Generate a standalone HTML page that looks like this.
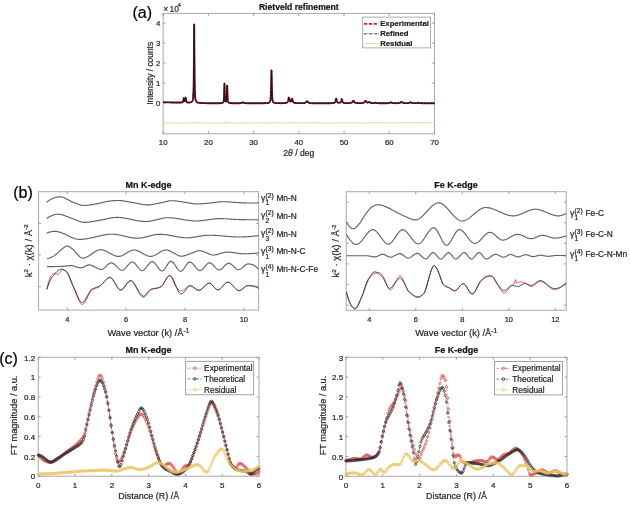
<!DOCTYPE html>
<html><head><meta charset="utf-8"><title>Figure</title>
<style>
html,body{margin:0;padding:0;background:#fff;}
body{width:630px;height:506px;overflow:hidden;}
svg{display:block;font-family:"Liberation Sans", sans-serif;filter:blur(0.35px);}
text{stroke-width:0.2px;stroke-linejoin:round;}
</style></head>
<body>
<svg width="630" height="506" viewBox="0 0 630 506">
<rect width="630" height="506" fill="#fff"/>
<text x="142.3" y="17.7" font-size="16" text-anchor="middle" fill="#000" stroke="#000">(a)</text>
<rect x="163.1" y="13.4" width="271.4" height="120.4" fill="none" stroke="#a9a9a9" stroke-width="1"/>
<path d="M163.2 133.8v-2.6M163.2 13.4v2.6M208.42 133.8v-2.6M208.42 13.4v2.6M253.63 133.8v-2.6M253.63 13.4v2.6M298.85 133.8v-2.6M298.85 13.4v2.6M344.07 133.8v-2.6M344.07 13.4v2.6M389.28 133.8v-2.6M389.28 13.4v2.6M434.5 133.8v-2.6M434.5 13.4v2.6M163.1 102.9h2.6M434.5 102.9h-2.6M163.1 82.95h2.6M434.5 82.95h-2.6M163.1 63h2.6M434.5 63h-2.6M163.1 43.05h2.6M434.5 43.05h-2.6M163.1 23.1h2.6M434.5 23.1h-2.6" stroke="#8a8a8a" stroke-width="0.8" fill="none"/>
<text x="163.2" y="144.5" font-size="7.8" text-anchor="middle" font-weight="normal" fill="#1e1e1e" stroke="#1e1e1e" >10</text>
<text x="208.42" y="144.5" font-size="7.8" text-anchor="middle" font-weight="normal" fill="#1e1e1e" stroke="#1e1e1e" >20</text>
<text x="253.63" y="144.5" font-size="7.8" text-anchor="middle" font-weight="normal" fill="#1e1e1e" stroke="#1e1e1e" >30</text>
<text x="298.85" y="144.5" font-size="7.8" text-anchor="middle" font-weight="normal" fill="#1e1e1e" stroke="#1e1e1e" >40</text>
<text x="344.07" y="144.5" font-size="7.8" text-anchor="middle" font-weight="normal" fill="#1e1e1e" stroke="#1e1e1e" >50</text>
<text x="389.28" y="144.5" font-size="7.8" text-anchor="middle" font-weight="normal" fill="#1e1e1e" stroke="#1e1e1e" >60</text>
<text x="434.5" y="144.5" font-size="7.8" text-anchor="middle" font-weight="normal" fill="#1e1e1e" stroke="#1e1e1e" >70</text>
<text x="160.4" y="105.7" font-size="7.8" text-anchor="end" font-weight="normal" fill="#1e1e1e" stroke="#1e1e1e" >0</text>
<text x="160.4" y="85.75" font-size="7.8" text-anchor="end" font-weight="normal" fill="#1e1e1e" stroke="#1e1e1e" >1</text>
<text x="160.4" y="65.8" font-size="7.8" text-anchor="end" font-weight="normal" fill="#1e1e1e" stroke="#1e1e1e" >2</text>
<text x="160.4" y="45.85" font-size="7.8" text-anchor="end" font-weight="normal" fill="#1e1e1e" stroke="#1e1e1e" >3</text>
<text x="160.4" y="25.9" font-size="7.8" text-anchor="end" font-weight="normal" fill="#1e1e1e" stroke="#1e1e1e" >4</text>
<text x="163.2" y="11.7" font-size="8.6" text-anchor="start" font-weight="normal" fill="#2a2a2a" stroke="#2a2a2a" >×<tspan dx="1.2">10</tspan><tspan font-size="5.6" dy="-4.4" dx="-1.3">4</tspan></text>
<text x="298.8" y="9.6" font-size="8.6" text-anchor="middle" font-weight="bold" fill="#111" stroke="#111" >Rietveld refinement</text>
<text x="152.6" y="73.3" font-size="8.4" text-anchor="middle" font-weight="normal" fill="#1e1e1e" stroke="#1e1e1e" transform="rotate(-90 152.6 73.3)">Intensity / counts</text>
<text x="298.8" y="156.4" font-size="8.6" text-anchor="middle" font-weight="normal" fill="#1e1e1e" stroke="#1e1e1e" >2<tspan font-style="italic">θ</tspan> / deg</text>
<path d="M163.2 102.29L164.74 102.32L166.27 102.35L167.81 102.39L169.35 102.42L170.89 102.45L172.42 102.48L173.96 102.51L175.5 102.53L177.04 102.55L178.57 102.57L180.11 102.56L181.65 102.45L182.28 102.29L182.64 102.08L182.82 101.89L183 101.6L183.1 101.39L183.19 101.12L183.28 100.77L183.37 100.33L183.46 99.77L183.55 99.14L183.64 98.53L183.73 98.12L183.91 98.46L184 99.03L184.09 99.61L184.18 100.11L184.27 100.5L184.36 100.77L184.45 100.96L184.63 101.12L184.9 100.87L184.99 100.64L185.08 100.31L185.18 99.86L185.27 99.29L185.36 98.62L185.45 97.97L185.54 97.55L185.72 98.03L185.81 98.72L185.9 99.44L185.99 100.06L186.08 100.57L186.17 100.96L186.26 101.26L186.35 101.5L186.44 101.68L186.62 101.95L186.8 102.12L187.07 102.28L187.62 102.44L189.15 102.51L190.51 102.35L191.05 102.18L191.42 102L191.69 101.81L191.87 101.64L192.05 101.43L192.23 101.16L192.32 100.99L192.41 100.79L192.5 100.57L192.59 100.3L192.68 99.99L192.77 99.62L192.86 99.18L192.95 98.63L193.04 97.97L193.13 97.13L193.22 96.08L193.31 94.72L193.4 92.94L193.5 90.55L193.59 87.27L193.68 82.66L193.77 76.07L193.86 66.65L193.95 53.7L194.04 38.32L194.13 26.37L194.17 24.56L194.22 26.37L194.31 38.33L194.4 53.71L194.49 66.67L194.58 76.09L194.67 82.68L194.76 87.3L194.85 90.58L194.94 92.98L195.03 94.77L195.12 96.13L195.21 97.19L195.3 98.03L195.39 98.7L195.48 99.24L195.58 99.69L195.67 100.07L195.76 100.39L195.85 100.66L195.94 100.89L196.03 101.08L196.12 101.26L196.21 101.41L196.39 101.66L196.57 101.86L196.75 102.02L197.02 102.2L197.38 102.39L197.84 102.55L198.47 102.7L199.55 102.86L201.09 102.98L202.63 103.06L204.17 103.12L205.7 103.17L207.24 103.22L208.78 103.25L210.32 103.25L211.85 103.25L213.39 103.25L214.93 103.25L216.47 103.24L218 103.22L219.54 103.19L221.08 103.1L222.07 102.94L222.52 102.78L222.8 102.62L222.98 102.47L223.16 102.26L223.34 101.94L223.43 101.73L223.52 101.46L223.61 101.12L223.7 100.67L223.79 100.06L223.88 99.24L223.97 98.08L224.06 96.43L224.15 94.07L224.24 90.83L224.33 86.98L224.42 83.99L224.47 83.53L224.51 83.98L224.6 86.94L224.69 90.76L224.79 93.97L224.88 96.3L224.97 97.92L225.06 99.05L225.15 99.84L225.24 100.4L225.33 100.81L225.42 101.1L225.51 101.32L225.69 101.56L226.23 101.24L226.32 100.99L226.41 100.63L226.5 100.14L226.59 99.44L226.68 98.45L226.77 97.02L226.87 94.96L226.96 92.11L227.05 88.72L227.14 86.09L227.18 85.7L227.23 86.11L227.32 88.77L227.41 92.19L227.5 95.06L227.59 97.16L227.68 98.63L227.77 99.66L227.86 100.39L227.95 100.93L228.04 101.33L228.13 101.64L228.22 101.88L228.31 102.07L228.4 102.22L228.58 102.45L228.76 102.61L229.04 102.78L229.49 102.94L230.39 103.09L231.93 103.18L233.47 103.22L235 103.23L236.54 103.23L238.08 103.22L239.62 103.18L241.06 103.01L241.61 102.85L241.97 102.67L242.24 102.5L242.51 102.34L243.32 102.5L243.6 102.67L243.96 102.85L244.5 103.02L245.77 103.17L247.3 103.23L248.84 103.25L250.38 103.26L251.92 103.26L253.45 103.26L254.99 103.26L256.53 103.26L258.06 103.26L259.6 103.25L261.14 103.24L262.68 103.23L264.21 103.2L265.75 103.15L267.29 103.04L268.28 102.87L268.83 102.68L269.19 102.49L269.46 102.27L269.64 102.07L269.82 101.81L269.91 101.64L270 101.45L270.09 101.22L270.18 100.95L270.27 100.62L270.36 100.22L270.45 99.72L270.54 99.11L270.63 98.32L270.73 97.31L270.82 95.99L270.91 94.23L271 91.89L271.09 88.75L271.18 84.63L271.27 79.61L271.36 74.42L271.45 70.86L271.49 70.36L271.54 70.86L271.63 74.42L271.72 79.6L271.81 84.63L271.9 88.75L271.99 91.89L272.08 94.23L272.17 95.98L272.26 97.31L272.35 98.32L272.44 99.1L272.53 99.72L272.62 100.22L272.71 100.62L272.81 100.95L272.9 101.22L272.99 101.45L273.08 101.64L273.17 101.8L273.35 102.06L273.53 102.26L273.71 102.42L273.98 102.59L274.34 102.75L274.89 102.9L275.97 103.05L277.51 103.14L279.05 103.17L280.58 103.18L282.12 103.17L283.66 103.12L285.19 103.01L286.1 102.86L286.64 102.67L287 102.47L287.27 102.25L287.46 102.05L287.64 101.78L287.73 101.62L287.82 101.43L287.91 101.21L288 100.96L288.09 100.66L288.18 100.33L288.27 99.95L288.36 99.54L288.45 99.09L288.54 98.63L288.63 98.19L288.72 97.82L288.81 97.56L289.08 97.77L289.17 98.12L289.26 98.53L289.35 98.96L289.44 99.39L289.54 99.78L289.63 100.12L289.72 100.43L289.81 100.68L289.9 100.9L289.99 101.08L290.17 101.34L290.35 101.49L290.98 101.32L291.16 101.04L291.25 100.85L291.34 100.63L291.43 100.36L291.52 100.07L291.62 99.74L291.71 99.41L291.8 99.1L291.89 98.83L291.98 98.66L292.25 98.89L292.34 99.19L292.43 99.53L292.52 99.9L292.61 100.26L292.7 100.59L292.79 100.89L292.88 101.16L292.97 101.39L293.06 101.59L293.15 101.76L293.24 101.91L293.42 102.16L293.6 102.35L293.88 102.55L294.24 102.73L294.78 102.89L295.87 103.05L297.4 103.14L298.94 103.17L300.48 103.17L302.02 103.15L303.55 103.06L304.55 102.91L305.09 102.74L305.45 102.56L305.72 102.38L305.9 102.23L306.08 102.05L306.27 101.85L306.45 101.65L306.63 101.46L306.9 101.29L307.35 101.46L307.53 101.65L307.71 101.85L307.89 102.05L308.07 102.23L308.26 102.39L308.53 102.57L308.89 102.75L309.43 102.92L310.43 103.08L311.96 103.18L313.5 103.22L315.04 103.24L316.57 103.25L318.11 103.25L319.65 103.26L321.19 103.26L322.72 103.26L324.26 103.26L325.8 103.25L327.34 103.24L328.87 103.23L330.41 103.2L331.95 103.14L333.4 102.99L334.03 102.82L334.39 102.66L334.66 102.46L334.84 102.28L335.02 102.04L335.11 101.89L335.2 101.72L335.29 101.51L335.39 101.27L335.48 100.99L335.57 100.67L335.66 100.31L335.75 99.91L335.84 99.5L335.93 99.1L336.02 98.75L336.11 98.52L336.38 98.75L336.47 99.09L336.56 99.48L336.65 99.89L336.74 100.29L336.83 100.64L336.92 100.96L337.01 101.24L337.1 101.47L337.19 101.67L337.28 101.84L337.47 102.11L337.65 102.31L337.92 102.51L338.28 102.67L339.82 102.69L340.27 102.49L340.54 102.27L340.72 102.04L340.9 101.73L340.99 101.54L341.08 101.31L341.17 101.05L341.26 100.75L341.35 100.42L341.44 100.08L341.53 99.75L341.62 99.47L341.72 99.27L341.99 99.48L342.08 99.76L342.17 100.1L342.26 100.44L342.35 100.77L342.44 101.07L342.53 101.34L342.62 101.57L342.71 101.77L342.8 101.95L342.98 102.22L343.16 102.42L343.43 102.63L343.8 102.8L344.43 102.97L345.97 103.11L347.5 103.13L349.04 103.09L350.58 102.93L351.21 102.76L351.57 102.6L351.84 102.43L352.02 102.27L352.21 102.09L352.39 101.86L352.57 101.6L352.75 101.31L352.93 101.01L353.11 100.78L353.74 101.01L353.92 101.31L354.1 101.6L354.29 101.86L354.47 102.09L354.65 102.27L354.83 102.43L355.1 102.6L355.46 102.76L356 102.92L357.18 103.07L358.72 103.13L360.25 103.13L361.79 103.06L362.97 102.91L363.51 102.75L363.87 102.58L364.14 102.4L364.32 102.24L364.5 102.05L364.69 101.82L364.87 101.56L365.05 101.28L365.23 101.03L365.41 100.85L365.86 101.01L366.04 101.25L366.22 101.52L366.4 101.77L366.58 101.98L366.77 102.16L367.04 102.35L367.4 102.51L368.66 102.31L368.94 102.11L369.21 101.94L369.75 102.1L369.93 102.26L370.11 102.42L370.38 102.62L370.74 102.8L371.29 102.96L372.82 103.1L374.36 103.03L374.99 102.86L375.45 102.68L376.35 102.84L376.8 103L377.8 103.15L379.34 103.22L380.87 103.24L382.41 103.24L383.95 103.24L385.49 103.22L387.02 103.18L388.56 103.04L389.19 102.89L389.65 102.71L390.01 102.51L390.37 102.32L391.27 102.51L391.54 102.66L391.91 102.82L392.45 102.98L393.71 103.13L395.25 103.18L396.79 103.17L398.33 103.1L399.41 102.94L399.95 102.77L400.32 102.59L400.59 102.41L400.86 102.2L401.13 102L402.12 102.2L402.4 102.41L402.67 102.59L403.03 102.77L403.57 102.94L404.66 103.09L406.19 103.14L407.73 103.1L408.82 102.95L409.36 102.77L409.72 102.6L409.99 102.45L410.35 102.28L411.08 102.45L411.35 102.6L411.71 102.78L412.16 102.93L413.07 103.09L414.6 103.17L416.14 103.15L417.41 102.99L417.95 102.84L418.49 102.68L419.4 102.85L419.94 103.01L421.03 103.17L422.56 103.23L424.1 103.26L425.64 103.27L427.17 103.28L428.71 103.28L430.25 103.28L431.79 103.29L433.32 103.29L434.5 103.29" fill="none" stroke="#6e1c20" stroke-width="1.9" stroke-linejoin="round"/>
<path d="M163.2 102.29L164.74 102.32L166.27 102.35L167.81 102.39L169.35 102.42L170.89 102.45L172.42 102.48L173.96 102.51L175.5 102.53L177.04 102.55L178.57 102.57L180.11 102.56L181.65 102.45L182.28 102.29L182.64 102.08L182.82 101.89L183 101.6L183.1 101.39L183.19 101.12L183.28 100.77L183.37 100.33L183.46 99.77L183.55 99.14L183.64 98.53L183.73 98.12L183.91 98.46L184 99.03L184.09 99.61L184.18 100.11L184.27 100.5L184.36 100.77L184.45 100.96L184.63 101.12L184.9 100.87L184.99 100.64L185.08 100.31L185.18 99.86L185.27 99.29L185.36 98.62L185.45 97.97L185.54 97.55L185.72 98.03L185.81 98.72L185.9 99.44L185.99 100.06L186.08 100.57L186.17 100.96L186.26 101.26L186.35 101.5L186.44 101.68L186.62 101.95L186.8 102.12L187.07 102.28L187.62 102.44L189.15 102.51L190.51 102.35L191.05 102.18L191.42 102L191.69 101.81L191.87 101.64L192.05 101.43L192.23 101.16L192.32 100.99L192.41 100.79L192.5 100.57L192.59 100.3L192.68 99.99L192.77 99.62L192.86 99.18L192.95 98.63L193.04 97.97L193.13 97.13L193.22 96.08L193.31 94.72L193.4 92.94L193.5 90.55L193.59 87.27L193.68 82.66L193.77 76.07L193.86 66.65L193.95 53.7L194.04 38.32L194.13 26.37L194.17 24.56L194.22 26.37L194.31 38.33L194.4 53.71L194.49 66.67L194.58 76.09L194.67 82.68L194.76 87.3L194.85 90.58L194.94 92.98L195.03 94.77L195.12 96.13L195.21 97.19L195.3 98.03L195.39 98.7L195.48 99.24L195.58 99.69L195.67 100.07L195.76 100.39L195.85 100.66L195.94 100.89L196.03 101.08L196.12 101.26L196.21 101.41L196.39 101.66L196.57 101.86L196.75 102.02L197.02 102.2L197.38 102.39L197.84 102.55L198.47 102.7L199.55 102.86L201.09 102.98L202.63 103.06L204.17 103.12L205.7 103.17L207.24 103.22L208.78 103.25L210.32 103.25L211.85 103.25L213.39 103.25L214.93 103.25L216.47 103.24L218 103.22L219.54 103.19L221.08 103.1L222.07 102.94L222.52 102.78L222.8 102.62L222.98 102.47L223.16 102.26L223.34 101.94L223.43 101.73L223.52 101.46L223.61 101.12L223.7 100.67L223.79 100.06L223.88 99.24L223.97 98.08L224.06 96.43L224.15 94.07L224.24 90.83L224.33 86.98L224.42 83.99L224.47 83.53L224.51 83.98L224.6 86.94L224.69 90.76L224.79 93.97L224.88 96.3L224.97 97.92L225.06 99.05L225.15 99.84L225.24 100.4L225.33 100.81L225.42 101.1L225.51 101.32L225.69 101.56L226.23 101.24L226.32 100.99L226.41 100.63L226.5 100.14L226.59 99.44L226.68 98.45L226.77 97.02L226.87 94.96L226.96 92.11L227.05 88.72L227.14 86.09L227.18 85.7L227.23 86.11L227.32 88.77L227.41 92.19L227.5 95.06L227.59 97.16L227.68 98.63L227.77 99.66L227.86 100.39L227.95 100.93L228.04 101.33L228.13 101.64L228.22 101.88L228.31 102.07L228.4 102.22L228.58 102.45L228.76 102.61L229.04 102.78L229.49 102.94L230.39 103.09L231.93 103.18L233.47 103.22L235 103.23L236.54 103.23L238.08 103.22L239.62 103.18L241.06 103.01L241.61 102.85L241.97 102.67L242.24 102.5L242.51 102.34L243.32 102.5L243.6 102.67L243.96 102.85L244.5 103.02L245.77 103.17L247.3 103.23L248.84 103.25L250.38 103.26L251.92 103.26L253.45 103.26L254.99 103.26L256.53 103.26L258.06 103.26L259.6 103.25L261.14 103.24L262.68 103.23L264.21 103.2L265.75 103.15L267.29 103.04L268.28 102.87L268.83 102.68L269.19 102.49L269.46 102.27L269.64 102.07L269.82 101.81L269.91 101.64L270 101.45L270.09 101.22L270.18 100.95L270.27 100.62L270.36 100.22L270.45 99.72L270.54 99.11L270.63 98.32L270.73 97.31L270.82 95.99L270.91 94.23L271 91.89L271.09 88.75L271.18 84.63L271.27 79.61L271.36 74.42L271.45 70.86L271.49 70.36L271.54 70.86L271.63 74.42L271.72 79.6L271.81 84.63L271.9 88.75L271.99 91.89L272.08 94.23L272.17 95.98L272.26 97.31L272.35 98.32L272.44 99.1L272.53 99.72L272.62 100.22L272.71 100.62L272.81 100.95L272.9 101.22L272.99 101.45L273.08 101.64L273.17 101.8L273.35 102.06L273.53 102.26L273.71 102.42L273.98 102.59L274.34 102.75L274.89 102.9L275.97 103.05L277.51 103.14L279.05 103.17L280.58 103.18L282.12 103.17L283.66 103.12L285.19 103.01L286.1 102.86L286.64 102.67L287 102.47L287.27 102.25L287.46 102.05L287.64 101.78L287.73 101.62L287.82 101.43L287.91 101.21L288 100.96L288.09 100.66L288.18 100.33L288.27 99.95L288.36 99.54L288.45 99.09L288.54 98.63L288.63 98.19L288.72 97.82L288.81 97.56L289.08 97.77L289.17 98.12L289.26 98.53L289.35 98.96L289.44 99.39L289.54 99.78L289.63 100.12L289.72 100.43L289.81 100.68L289.9 100.9L289.99 101.08L290.17 101.34L290.35 101.49L290.98 101.32L291.16 101.04L291.25 100.85L291.34 100.63L291.43 100.36L291.52 100.07L291.62 99.74L291.71 99.41L291.8 99.1L291.89 98.83L291.98 98.66L292.25 98.89L292.34 99.19L292.43 99.53L292.52 99.9L292.61 100.26L292.7 100.59L292.79 100.89L292.88 101.16L292.97 101.39L293.06 101.59L293.15 101.76L293.24 101.91L293.42 102.16L293.6 102.35L293.88 102.55L294.24 102.73L294.78 102.89L295.87 103.05L297.4 103.14L298.94 103.17L300.48 103.17L302.02 103.15L303.55 103.06L304.55 102.91L305.09 102.74L305.45 102.56L305.72 102.38L305.9 102.23L306.08 102.05L306.27 101.85L306.45 101.65L306.63 101.46L306.9 101.29L307.35 101.46L307.53 101.65L307.71 101.85L307.89 102.05L308.07 102.23L308.26 102.39L308.53 102.57L308.89 102.75L309.43 102.92L310.43 103.08L311.96 103.18L313.5 103.22L315.04 103.24L316.57 103.25L318.11 103.25L319.65 103.26L321.19 103.26L322.72 103.26L324.26 103.26L325.8 103.25L327.34 103.24L328.87 103.23L330.41 103.2L331.95 103.14L333.4 102.99L334.03 102.82L334.39 102.66L334.66 102.46L334.84 102.28L335.02 102.04L335.11 101.89L335.2 101.72L335.29 101.51L335.39 101.27L335.48 100.99L335.57 100.67L335.66 100.31L335.75 99.91L335.84 99.5L335.93 99.1L336.02 98.75L336.11 98.52L336.38 98.75L336.47 99.09L336.56 99.48L336.65 99.89L336.74 100.29L336.83 100.64L336.92 100.96L337.01 101.24L337.1 101.47L337.19 101.67L337.28 101.84L337.47 102.11L337.65 102.31L337.92 102.51L338.28 102.67L339.82 102.69L340.27 102.49L340.54 102.27L340.72 102.04L340.9 101.73L340.99 101.54L341.08 101.31L341.17 101.05L341.26 100.75L341.35 100.42L341.44 100.08L341.53 99.75L341.62 99.47L341.72 99.27L341.99 99.48L342.08 99.76L342.17 100.1L342.26 100.44L342.35 100.77L342.44 101.07L342.53 101.34L342.62 101.57L342.71 101.77L342.8 101.95L342.98 102.22L343.16 102.42L343.43 102.63L343.8 102.8L344.43 102.97L345.97 103.11L347.5 103.13L349.04 103.09L350.58 102.93L351.21 102.76L351.57 102.6L351.84 102.43L352.02 102.27L352.21 102.09L352.39 101.86L352.57 101.6L352.75 101.31L352.93 101.01L353.11 100.78L353.74 101.01L353.92 101.31L354.1 101.6L354.29 101.86L354.47 102.09L354.65 102.27L354.83 102.43L355.1 102.6L355.46 102.76L356 102.92L357.18 103.07L358.72 103.13L360.25 103.13L361.79 103.06L362.97 102.91L363.51 102.75L363.87 102.58L364.14 102.4L364.32 102.24L364.5 102.05L364.69 101.82L364.87 101.56L365.05 101.28L365.23 101.03L365.41 100.85L365.86 101.01L366.04 101.25L366.22 101.52L366.4 101.77L366.58 101.98L366.77 102.16L367.04 102.35L367.4 102.51L368.66 102.31L368.94 102.11L369.21 101.94L369.75 102.1L369.93 102.26L370.11 102.42L370.38 102.62L370.74 102.8L371.29 102.96L372.82 103.1L374.36 103.03L374.99 102.86L375.45 102.68L376.35 102.84L376.8 103L377.8 103.15L379.34 103.22L380.87 103.24L382.41 103.24L383.95 103.24L385.49 103.22L387.02 103.18L388.56 103.04L389.19 102.89L389.65 102.71L390.01 102.51L390.37 102.32L391.27 102.51L391.54 102.66L391.91 102.82L392.45 102.98L393.71 103.13L395.25 103.18L396.79 103.17L398.33 103.1L399.41 102.94L399.95 102.77L400.32 102.59L400.59 102.41L400.86 102.2L401.13 102L402.12 102.2L402.4 102.41L402.67 102.59L403.03 102.77L403.57 102.94L404.66 103.09L406.19 103.14L407.73 103.1L408.82 102.95L409.36 102.77L409.72 102.6L409.99 102.45L410.35 102.28L411.08 102.45L411.35 102.6L411.71 102.78L412.16 102.93L413.07 103.09L414.6 103.17L416.14 103.15L417.41 102.99L417.95 102.84L418.49 102.68L419.4 102.85L419.94 103.01L421.03 103.17L422.56 103.23L424.1 103.26L425.64 103.27L427.17 103.28L428.71 103.28L430.25 103.28L431.79 103.29L433.32 103.29L434.5 103.29" fill="none" stroke="#2c0c0e" stroke-width="1.25" stroke-dasharray="2.2 0.9" stroke-linejoin="round"/>
<path d="M163.2 122.89L165.28 122.9L167.36 122.9L169.44 122.91L171.52 122.92L173.6 122.93L175.68 122.95L177.76 122.97L179.84 123.01L181.92 123.12L182.91 123.27L183.77 123.06L183.91 122.87L184.99 123.05L185.54 122.85L185.63 122.7L185.81 122.48L186.89 122.64L188.52 122.79L190.6 122.89L192.5 123.05L193.22 123.21L193.59 123.39L194.13 123.03L194.17 122.82L194.22 122.6L194.31 122.27L194.49 122.1L194.85 122.3L195.21 122.45L196.03 122.61L198.11 122.73L200.19 122.78L202.27 122.81L204.35 122.82L206.43 122.84L208.51 122.85L210.59 122.87L212.67 122.88L214.75 122.9L216.83 122.92L218.91 122.96L220.99 123.02L222.8 123.18L223.52 123.36L223.88 123.54L224.15 123.69L224.33 123.53L224.42 123.2L224.47 122.99L224.51 122.78L224.6 122.46L224.79 122.3L225.06 122.46L225.33 122.62L225.69 122.78L226.14 122.96L226.5 123.14L226.77 123.31L227.14 122.9L227.18 122.7L227.23 122.51L227.32 122.2L228.13 122.37L228.76 122.52L230.39 122.68L232.47 122.75L234.55 122.79L236.63 122.83L238.71 122.87L240.79 122.93L242.87 122.79L244.95 122.7L247.03 122.76L249.11 122.79L251.19 122.81L253.27 122.82L255.35 122.84L257.43 122.85L259.51 122.87L261.59 122.88L263.67 122.91L265.75 122.94L267.83 122.99L269.73 123.14L270.45 123.31L270.82 123.46L271.45 123.05L271.49 122.87L271.54 122.69L271.63 122.4L271.72 122.23L272.44 122.4L272.99 122.55L274.25 122.7L276.33 122.79L278.41 122.84L280.49 122.88L282.57 122.93L284.65 122.99L286.73 123.13L287.91 123.29L288.72 123.14L288.9 122.97L289.08 122.8L289.44 122.63L290.44 122.78L291.16 122.94L291.98 122.75L292.16 122.59L292.43 122.42L294.51 122.57L296.59 122.68L298.67 122.75L300.75 122.8L302.83 122.86L304.91 122.95L306.99 122.77L307.44 122.62L309.52 122.62L311.6 122.69L313.68 122.73L315.76 122.76L317.84 122.78L319.92 122.8L322 122.82L324.08 122.83L326.16 122.85L328.24 122.88L330.32 122.91L332.4 122.97L334.48 123.11L336.2 122.9L336.38 122.72L336.74 122.56L338.1 122.72L339.54 122.88L340.72 123.03L341.72 122.85L341.9 122.68L342.17 122.51L344.25 122.64L346.33 122.75L348.41 122.82L350.49 122.92L352.57 123.03L353.2 122.85L353.56 122.68L355.64 122.62L357.72 122.73L359.8 122.8L361.88 122.88L363.96 123.01L365.5 122.84L365.86 122.69L367.94 122.74L369.66 122.57L371.74 122.61L373.82 122.73L375.9 122.63L377.98 122.62L380.06 122.68L382.14 122.72L384.22 122.75L386.3 122.8L388.38 122.86L390.46 122.8L391.09 122.65L393.17 122.66L395.25 122.73L397.33 122.79L399.41 122.87L401.49 122.73L402.12 122.58L404.2 122.63L406.28 122.71L408.36 122.8L410.44 122.72L411.17 122.56L413.25 122.61L415.33 122.69L417.41 122.76L418.95 122.6L421.03 122.57L423.11 122.62L425.19 122.64L427.27 122.66L429.35 122.67L431.43 122.68L433.51 122.69L434.5 122.69" fill="none" stroke="#f2e0ae" stroke-width="1.25"/>
<rect x="362.7" y="17.1" width="67.9" height="30.8" fill="#fff" stroke="#9a9a9a" stroke-width="0.8"/>
<path d="M364 23.8H378.6" stroke="#d0203a" stroke-width="1.8" stroke-dasharray="3.2 1.6"/>
<path d="M364 33.8H378.6" stroke="#111" stroke-width="0.9" stroke-dasharray="2.5 1 0.8 1"/>
<path d="M364 43.7H378.6" stroke="#eed79a" stroke-width="1"/>
<text x="380.2" y="25.9" font-size="7.75" text-anchor="start" font-weight="bold" fill="#1a1a1a" stroke="#1a1a1a" >Experimental</text>
<text x="380.2" y="35.85" font-size="7.75" text-anchor="start" font-weight="bold" fill="#1a1a1a" stroke="#1a1a1a" >Refined</text>
<text x="380.2" y="45.8" font-size="7.75" text-anchor="start" font-weight="bold" fill="#1a1a1a" stroke="#1a1a1a" >Residual</text>
<text x="23" y="197.9" font-size="16" text-anchor="middle" font-weight="normal" fill="#000" stroke="#000" >(b)</text>
<text x="142.8" y="0" font-size="1" text-anchor="middle" font-weight="normal" fill="#1e1e1e" stroke="#1e1e1e" ></text>
<text x="0" y="0" font-size="1" text-anchor="middle" font-weight="normal" fill="#1e1e1e" stroke="#1e1e1e" ></text>
<rect x="38.6" y="191.7" width="220" height="118.4" fill="none" stroke="#a9a9a9" stroke-width="1"/>
<path d="M67.3 310.1v-2.4M67.3 191.7v2.4M126.16 310.1v-2.4M126.16 191.7v2.4M185.02 310.1v-2.4M185.02 191.7v2.4M243.88 310.1v-2.4M243.88 191.7v2.4M38.6 223.3h2.4M258.6 223.3h-2.4M38.6 254.9h2.4M258.6 254.9h-2.4M38.6 286.6h2.4M258.6 286.6h-2.4" stroke="#8a8a8a" stroke-width="0.8" fill="none"/>
<text x="67.3" y="322" font-size="7.5" text-anchor="middle" font-weight="normal" fill="#1e1e1e" stroke="#1e1e1e" >4</text>
<text x="126.16" y="322" font-size="7.5" text-anchor="middle" font-weight="normal" fill="#1e1e1e" stroke="#1e1e1e" >6</text>
<text x="185.02" y="322" font-size="7.5" text-anchor="middle" font-weight="normal" fill="#1e1e1e" stroke="#1e1e1e" >8</text>
<text x="243.88" y="322" font-size="7.5" text-anchor="middle" font-weight="normal" fill="#1e1e1e" stroke="#1e1e1e" >10</text>
<text x="148.6" y="187.5" font-size="9" text-anchor="middle" font-weight="bold" fill="#111" stroke="#111" >Mn K-edge</text>
<text x="31.8" y="250.8" font-size="9.6" text-anchor="middle" font-weight="normal" fill="#1e1e1e" stroke="#1e1e1e" transform="rotate(-90 31.8 250.8)">k<tspan font-size="6.2" dy="-3.6">2</tspan><tspan dy="3.6"> · χ(k) / Å</tspan><tspan font-size="6.2" dy="-3.6">-2</tspan></text>
<text x="148.3" y="336.3" font-size="9.3" text-anchor="middle" font-weight="normal" fill="#1e1e1e" stroke="#1e1e1e" >Wave vector (k) /Å<tspan font-size="6.4" dy="-3.6">-1</tspan></text>
<path d="M46.6 202.3L47.1 201.9L47.6 201.51L48.1 201.14L48.6 200.78L49.1 200.44L49.6 200.12L50.1 199.81L50.6 199.51L51.1 199.23L51.6 198.96L52.1 198.72L52.6 198.48L53.1 198.26L53.6 198.06L54.1 197.87L54.6 197.7L55.1 197.54L55.6 197.39L56.1 197.27L56.6 197.16L57.1 197.06L57.6 196.98L58.1 196.91L58.6 196.86L59.1 196.82L59.6 196.8L60.1 196.8L60.6 196.82L61.1 196.88L61.6 196.96L62.1 197.07L62.6 197.2L63.1 197.36L63.6 197.53L64.1 197.73L64.6 197.94L65.1 198.17L65.6 198.41L66.1 198.67L66.6 198.93L67.1 199.2L67.6 199.47L68.1 199.75L68.6 200.03L69.1 200.31L69.6 200.58L70.1 200.85L70.6 201.12L71.1 201.38L71.6 201.62L72.1 201.86L72.6 202.08L73.1 202.28L73.6 202.47L74.1 202.64L74.6 202.82L75.1 203.01L75.6 203.21L76.1 203.41L76.6 203.61L77.1 203.81L77.6 204L78.1 204.19L78.6 204.38L79.1 204.56L79.6 204.73L80.1 204.88L80.6 205.03L81.1 205.15L81.6 205.26L82.1 205.36L82.6 205.43L83.1 205.47L83.6 205.5L84.1 205.5L84.6 205.49L85.1 205.47L85.6 205.45L86.1 205.42L86.6 205.38L87.1 205.34L87.6 205.29L88.1 205.23L88.6 205.17L89.1 205.11L89.6 205.04L90.1 204.96L90.6 204.89L91.1 204.81L91.6 204.73L92.1 204.64L92.6 204.56L93.1 204.47L93.6 204.38L94.1 204.29L94.6 204.2L95.1 204.11L95.6 204.03L96.1 203.94L96.6 203.85L97.1 203.77L97.6 203.68L98.1 203.6L98.6 203.5L99.1 203.4L99.6 203.29L100.1 203.17L100.6 203.05L101.1 202.92L101.6 202.8L102.1 202.67L102.6 202.54L103.1 202.41L103.6 202.27L104.1 202.14L104.6 202.02L105.1 201.89L105.6 201.77L106.1 201.65L106.6 201.54L107.1 201.44L107.6 201.34L108.1 201.25L108.6 201.17L109.1 201.1L109.6 201.04L110.1 200.99L110.6 200.95L111.1 200.9L111.6 200.86L112.1 200.81L112.6 200.77L113.1 200.73L113.6 200.69L114.1 200.66L114.6 200.63L115.1 200.6L115.6 200.57L116.1 200.55L116.6 200.53L117.1 200.51L117.6 200.51L118.1 200.5L118.6 200.5L119.1 200.51L119.6 200.53L120.1 200.56L120.6 200.59L121.1 200.63L121.6 200.68L122.1 200.74L122.6 200.8L123.1 200.87L123.6 200.94L124.1 201.01L124.6 201.09L125.1 201.18L125.6 201.26L126.1 201.35L126.6 201.45L127.1 201.54L127.6 201.63L128.1 201.73L128.6 201.82L129.1 201.92L129.6 202.01L130.1 202.11L130.6 202.2L131.1 202.29L131.6 202.37L132.1 202.46L132.6 202.54L133.1 202.62L133.6 202.69L134.1 202.78L134.6 202.87L135.1 202.96L135.6 203.06L136.1 203.16L136.6 203.26L137.1 203.36L137.6 203.47L138.1 203.58L138.6 203.68L139.1 203.79L139.6 203.89L140.1 203.99L140.6 204.09L141.1 204.19L141.6 204.28L142.1 204.37L142.6 204.45L143.1 204.53L143.6 204.61L144.1 204.67L144.6 204.73L145.1 204.78L145.6 204.82L146.1 204.86L146.6 204.88L147.1 204.9L147.6 204.9L148.1 204.89L148.6 204.87L149.1 204.85L149.6 204.81L150.1 204.76L150.6 204.71L151.1 204.64L151.6 204.57L152.1 204.5L152.6 204.42L153.1 204.33L153.6 204.24L154.1 204.15L154.6 204.05L155.1 203.96L155.6 203.86L156.1 203.75L156.6 203.65L157.1 203.55L157.6 203.45L158.1 203.35L158.6 203.25L159.1 203.16L159.6 203.07L160.1 202.98L160.6 202.89L161.1 202.79L161.6 202.68L162.1 202.57L162.6 202.45L163.1 202.32L163.6 202.2L164.1 202.07L164.6 201.94L165.1 201.81L165.6 201.68L166.1 201.56L166.6 201.44L167.1 201.32L167.6 201.21L168.1 201.11L168.6 201.02L169.1 200.94L169.6 200.86L170.1 200.8L170.6 200.75L171.1 200.72L171.6 200.7L172.1 200.7L172.6 200.71L173.1 200.72L173.6 200.75L174.1 200.78L174.6 200.82L175.1 200.86L175.6 200.91L176.1 200.97L176.6 201.03L177.1 201.09L177.6 201.16L178.1 201.24L178.6 201.31L179.1 201.39L179.6 201.47L180.1 201.55L180.6 201.63L181.1 201.71L181.6 201.79L182.1 201.87L182.6 201.95L183.1 202.03L183.6 202.1L184.1 202.18L184.6 202.25L185.1 202.31L185.6 202.38L186.1 202.46L186.6 202.54L187.1 202.62L187.6 202.71L188.1 202.79L188.6 202.89L189.1 202.98L189.6 203.07L190.1 203.16L190.6 203.25L191.1 203.34L191.6 203.43L192.1 203.51L192.6 203.59L193.1 203.66L193.6 203.73L194.1 203.79L194.6 203.85L195.1 203.9L195.6 203.94L196.1 203.97L196.6 203.99L197.1 204L197.6 204L198.1 203.99L198.6 203.98L199.1 203.96L199.6 203.94L200.1 203.92L200.6 203.89L201.1 203.85L201.6 203.82L202.1 203.78L202.6 203.73L203.1 203.69L203.6 203.64L204.1 203.59L204.6 203.54L205.1 203.49L205.6 203.44L206.1 203.39L206.6 203.33L207.1 203.28L207.6 203.23L208.1 203.18L208.6 203.13L209.1 203.08L209.6 203.04L210.1 202.99L210.6 202.95L211.1 202.9L211.6 202.84L212.1 202.79L212.6 202.73L213.1 202.67L213.6 202.6L214.1 202.54L214.6 202.48L215.1 202.41L215.6 202.35L216.1 202.28L216.6 202.22L217.1 202.16L217.6 202.1L218.1 202.05L218.6 201.99L219.1 201.94L219.6 201.89L220.1 201.85L220.6 201.81L221.1 201.78L221.6 201.75L222.1 201.73L222.6 201.71L223.1 201.7L223.6 201.7L224.1 201.7L224.6 201.71L225.1 201.72L225.6 201.74L226.1 201.76L226.6 201.78L227.1 201.81L227.6 201.84L228.1 201.87L228.6 201.9L229.1 201.93L229.6 201.97L230.1 202.01L230.6 202.05L231.1 202.09L231.6 202.13L232.1 202.17L232.6 202.21L233.1 202.25L233.6 202.28L234.1 202.32L234.6 202.36L235.1 202.39L235.6 202.42L236.1 202.45L236.6 202.48L237.1 202.5L237.6 202.53L238.1 202.55L238.6 202.58L239.1 202.61L239.6 202.63L240.1 202.66L240.6 202.69L241.1 202.71L241.6 202.74L242.1 202.76L242.6 202.79L243.1 202.81L243.6 202.84L244.1 202.86L244.6 202.88L245.1 202.9L245.6 202.92L246.1 202.94L246.6 202.95L247.1 202.97L247.6 202.98L248.1 202.99L248.6 202.99L249.1 203L249.6 203L250.1 203L250.6 203L251.1 203L251.6 203L252.1 203L252.6 203L253.1 202.99L253.6 202.99L254.1 202.99L254.6 202.98L255.1 202.98L255.6 202.97L256.1 202.96L256.6 202.95L257.1 202.94L257.6 202.93L258.1 202.92L258.6 202.9" fill="none" stroke="#626262" stroke-width="1.15"/>
<path d="M46.6 218.6L47.1 218.26L47.6 217.92L48.1 217.6L48.6 217.29L49.1 217L49.6 216.71L50.1 216.44L50.6 216.19L51.1 215.95L51.6 215.72L52.1 215.5L52.6 215.31L53.1 215.12L53.6 214.96L54.1 214.8L54.6 214.67L55.1 214.55L55.6 214.45L56.1 214.36L56.6 214.29L57.1 214.25L57.6 214.21L58.1 214.2L58.6 214.21L59.1 214.24L59.6 214.28L60.1 214.35L60.6 214.44L61.1 214.54L61.6 214.66L62.1 214.79L62.6 214.93L63.1 215.08L63.6 215.25L64.1 215.42L64.6 215.6L65.1 215.79L65.6 215.98L66.1 216.17L66.6 216.37L67.1 216.57L67.6 216.77L68.1 216.96L68.6 217.16L69.1 217.34L69.6 217.53L70.1 217.7L70.6 217.87L71.1 218.03L71.6 218.2L72.1 218.37L72.6 218.56L73.1 218.76L73.6 218.96L74.1 219.17L74.6 219.38L75.1 219.6L75.6 219.82L76.1 220.04L76.6 220.25L77.1 220.47L77.6 220.68L78.1 220.89L78.6 221.08L79.1 221.27L79.6 221.45L80.1 221.62L80.6 221.78L81.1 221.92L81.6 222.05L82.1 222.16L82.6 222.25L83.1 222.32L83.6 222.37L84.1 222.4L84.6 222.4L85.1 222.39L85.6 222.38L86.1 222.35L86.6 222.32L87.1 222.28L87.6 222.24L88.1 222.19L88.6 222.13L89.1 222.07L89.6 222.01L90.1 221.93L90.6 221.86L91.1 221.78L91.6 221.7L92.1 221.61L92.6 221.53L93.1 221.44L93.6 221.34L94.1 221.25L94.6 221.16L95.1 221.06L95.6 220.97L96.1 220.88L96.6 220.78L97.1 220.69L97.6 220.6L98.1 220.51L98.6 220.43L99.1 220.34L99.6 220.26L100.1 220.18L100.6 220.11L101.1 220.02L101.6 219.93L102.1 219.84L102.6 219.74L103.1 219.64L103.6 219.54L104.1 219.43L104.6 219.32L105.1 219.22L105.6 219.11L106.1 219L106.6 218.89L107.1 218.78L107.6 218.67L108.1 218.56L108.6 218.46L109.1 218.35L109.6 218.25L110.1 218.16L110.6 218.06L111.1 217.97L111.6 217.89L112.1 217.81L112.6 217.74L113.1 217.67L113.6 217.61L114.1 217.55L114.6 217.51L115.1 217.47L115.6 217.44L116.1 217.42L116.6 217.4L117.1 217.4L117.6 217.41L118.1 217.42L118.6 217.44L119.1 217.46L119.6 217.49L120.1 217.53L120.6 217.58L121.1 217.63L121.6 217.68L122.1 217.74L122.6 217.81L123.1 217.88L123.6 217.95L124.1 218.03L124.6 218.11L125.1 218.2L125.6 218.28L126.1 218.38L126.6 218.47L127.1 218.57L127.6 218.66L128.1 218.77L128.6 218.87L129.1 218.97L129.6 219.08L130.1 219.18L130.6 219.29L131.1 219.4L131.6 219.5L132.1 219.61L132.6 219.72L133.1 219.82L133.6 219.93L134.1 220.03L134.6 220.13L135.1 220.24L135.6 220.33L136.1 220.43L136.6 220.52L137.1 220.62L137.6 220.7L138.1 220.79L138.6 220.87L139.1 220.95L139.6 221.02L140.1 221.09L140.6 221.16L141.1 221.22L141.6 221.27L142.1 221.32L142.6 221.37L143.1 221.41L143.6 221.44L144.1 221.46L144.6 221.48L145.1 221.49L145.6 221.5L146.1 221.5L146.6 221.48L147.1 221.46L147.6 221.42L148.1 221.38L148.6 221.33L149.1 221.27L149.6 221.2L150.1 221.12L150.6 221.04L151.1 220.95L151.6 220.86L152.1 220.76L152.6 220.65L153.1 220.54L153.6 220.43L154.1 220.32L154.6 220.2L155.1 220.07L155.6 219.95L156.1 219.83L156.6 219.7L157.1 219.57L157.6 219.45L158.1 219.32L158.6 219.2L159.1 219.08L159.6 218.96L160.1 218.84L160.6 218.72L161.1 218.61L161.6 218.5L162.1 218.4L162.6 218.3L163.1 218.21L163.6 218.12L164.1 218.04L164.6 217.97L165.1 217.91L165.6 217.85L166.1 217.8L166.6 217.76L167.1 217.73L167.6 217.71L168.1 217.7L168.6 217.7L169.1 217.71L169.6 217.72L170.1 217.74L170.6 217.76L171.1 217.79L171.6 217.83L172.1 217.87L172.6 217.91L173.1 217.96L173.6 218.02L174.1 218.07L174.6 218.13L175.1 218.2L175.6 218.27L176.1 218.34L176.6 218.41L177.1 218.49L177.6 218.57L178.1 218.65L178.6 218.73L179.1 218.81L179.6 218.9L180.1 218.99L180.6 219.07L181.1 219.16L181.6 219.25L182.1 219.34L182.6 219.43L183.1 219.52L183.6 219.61L184.1 219.7L184.6 219.78L185.1 219.87L185.6 219.95L186.1 220.04L186.6 220.12L187.1 220.2L187.6 220.27L188.1 220.35L188.6 220.42L189.1 220.49L189.6 220.55L190.1 220.61L190.6 220.67L191.1 220.73L191.6 220.78L192.1 220.82L192.6 220.86L193.1 220.9L193.6 220.93L194.1 220.96L194.6 220.98L195.1 220.99L195.6 221L196.1 221L196.6 221L197.1 220.99L197.6 220.97L198.1 220.95L198.6 220.92L199.1 220.89L199.6 220.85L200.1 220.81L200.6 220.77L201.1 220.72L201.6 220.67L202.1 220.61L202.6 220.55L203.1 220.49L203.6 220.43L204.1 220.36L204.6 220.29L205.1 220.22L205.6 220.15L206.1 220.08L206.6 220L207.1 219.93L207.6 219.85L208.1 219.78L208.6 219.7L209.1 219.63L209.6 219.55L210.1 219.48L210.6 219.41L211.1 219.34L211.6 219.27L212.1 219.2L212.6 219.13L213.1 219.07L213.6 219.01L214.1 218.96L214.6 218.9L215.1 218.85L215.6 218.81L216.1 218.76L216.6 218.72L217.1 218.69L217.6 218.66L218.1 218.64L218.6 218.62L219.1 218.61L219.6 218.6L220.1 218.6L220.6 218.6L221.1 218.61L221.6 218.62L222.1 218.63L222.6 218.64L223.1 218.66L223.6 218.68L224.1 218.7L224.6 218.72L225.1 218.75L225.6 218.78L226.1 218.8L226.6 218.83L227.1 218.86L227.6 218.9L228.1 218.93L228.6 218.96L229.1 219L229.6 219.03L230.1 219.07L230.6 219.1L231.1 219.14L231.6 219.17L232.1 219.21L232.6 219.24L233.1 219.28L233.6 219.31L234.1 219.34L234.6 219.37L235.1 219.4L235.6 219.43L236.1 219.46L236.6 219.48L237.1 219.51L237.6 219.53L238.1 219.55L238.6 219.56L239.1 219.58L239.6 219.59L240.1 219.6L240.6 219.61L241.1 219.62L241.6 219.63L242.1 219.64L242.6 219.64L243.1 219.65L243.6 219.66L244.1 219.67L244.6 219.68L245.1 219.68L245.6 219.69L246.1 219.7L246.6 219.71L247.1 219.71L247.6 219.72L248.1 219.73L248.6 219.73L249.1 219.74L249.6 219.74L250.1 219.75L250.6 219.76L251.1 219.76L251.6 219.77L252.1 219.77L252.6 219.77L253.1 219.78L253.6 219.78L254.1 219.79L254.6 219.79L255.1 219.79L255.6 219.79L256.1 219.8L256.6 219.8L257.1 219.8L257.6 219.8L258.1 219.8L258.6 219.8" fill="none" stroke="#626262" stroke-width="1.15"/>
<path d="M46.6 233.1L47.1 232.92L47.6 232.75L48.1 232.58L48.6 232.42L49.1 232.27L49.6 232.12L50.1 231.98L50.6 231.85L51.1 231.73L51.6 231.63L52.1 231.54L52.6 231.46L53.1 231.39L53.6 231.34L54.1 231.31L54.6 231.3L55.1 231.31L55.6 231.33L56.1 231.37L56.6 231.43L57.1 231.51L57.6 231.6L58.1 231.71L58.6 231.83L59.1 231.96L59.6 232.11L60.1 232.27L60.6 232.44L61.1 232.62L61.6 232.81L62.1 233.01L62.6 233.22L63.1 233.43L63.6 233.65L64.1 233.87L64.6 234.1L65.1 234.34L65.6 234.58L66.1 234.82L66.6 235.06L67.1 235.3L67.6 235.54L68.1 235.79L68.6 236.03L69.1 236.27L69.6 236.5L70.1 236.73L70.6 236.96L71.1 237.18L71.6 237.4L72.1 237.61L72.6 237.81L73.1 238L73.6 238.19L74.1 238.36L74.6 238.53L75.1 238.68L75.6 238.82L76.1 238.94L76.6 239.06L77.1 239.16L77.6 239.24L78.1 239.3L78.6 239.35L79.1 239.39L79.6 239.4L80.1 239.4L80.6 239.39L81.1 239.37L81.6 239.35L82.1 239.32L82.6 239.28L83.1 239.24L83.6 239.19L84.1 239.14L84.6 239.08L85.1 239.01L85.6 238.94L86.1 238.87L86.6 238.79L87.1 238.71L87.6 238.62L88.1 238.53L88.6 238.43L89.1 238.34L89.6 238.23L90.1 238.13L90.6 238.02L91.1 237.91L91.6 237.8L92.1 237.69L92.6 237.57L93.1 237.46L93.6 237.34L94.1 237.22L94.6 237.1L95.1 236.98L95.6 236.86L96.1 236.74L96.6 236.62L97.1 236.5L97.6 236.38L98.1 236.26L98.6 236.14L99.1 236.03L99.6 235.91L100.1 235.8L100.6 235.69L101.1 235.58L101.6 235.47L102.1 235.37L102.6 235.26L103.1 235.17L103.6 235.07L104.1 234.98L104.6 234.89L105.1 234.81L105.6 234.73L106.1 234.66L106.6 234.59L107.1 234.52L107.6 234.46L108.1 234.41L108.6 234.36L109.1 234.32L109.6 234.28L110.1 234.25L110.6 234.23L111.1 234.21L111.6 234.2L112.1 234.2L112.6 234.21L113.1 234.22L113.6 234.25L114.1 234.28L114.6 234.32L115.1 234.36L115.6 234.42L116.1 234.48L116.6 234.55L117.1 234.62L117.6 234.7L118.1 234.78L118.6 234.87L119.1 234.96L119.6 235.06L120.1 235.16L120.6 235.27L121.1 235.37L121.6 235.48L122.1 235.59L122.6 235.71L123.1 235.82L123.6 235.94L124.1 236.06L124.6 236.18L125.1 236.29L125.6 236.41L126.1 236.53L126.6 236.65L127.1 236.76L127.6 236.87L128.1 236.98L128.6 237.09L129.1 237.2L129.6 237.3L130.1 237.4L130.6 237.49L131.1 237.58L131.6 237.67L132.1 237.75L132.6 237.83L133.1 237.89L133.6 237.96L134.1 238.01L134.6 238.06L135.1 238.11L135.6 238.14L136.1 238.17L136.6 238.19L137.1 238.2L137.6 238.2L138.1 238.19L138.6 238.17L139.1 238.14L139.6 238.1L140.1 238.05L140.6 237.99L141.1 237.92L141.6 237.85L142.1 237.76L142.6 237.68L143.1 237.58L143.6 237.48L144.1 237.37L144.6 237.26L145.1 237.15L145.6 237.03L146.1 236.91L146.6 236.79L147.1 236.66L147.6 236.53L148.1 236.41L148.6 236.28L149.1 236.15L149.6 236.02L150.1 235.89L150.6 235.76L151.1 235.64L151.6 235.52L152.1 235.4L152.6 235.28L153.1 235.17L153.6 235.06L154.1 234.96L154.6 234.86L155.1 234.77L155.6 234.69L156.1 234.61L156.6 234.54L157.1 234.48L157.6 234.42L158.1 234.38L158.6 234.34L159.1 234.32L159.6 234.3L160.1 234.3L160.6 234.31L161.1 234.32L161.6 234.34L162.1 234.36L162.6 234.39L163.1 234.43L163.6 234.47L164.1 234.52L164.6 234.57L165.1 234.63L165.6 234.69L166.1 234.76L166.6 234.83L167.1 234.9L167.6 234.98L168.1 235.06L168.6 235.14L169.1 235.22L169.6 235.31L170.1 235.4L170.6 235.49L171.1 235.59L171.6 235.68L172.1 235.78L172.6 235.88L173.1 235.97L173.6 236.07L174.1 236.17L174.6 236.26L175.1 236.36L175.6 236.46L176.1 236.55L176.6 236.64L177.1 236.73L177.6 236.82L178.1 236.91L178.6 236.99L179.1 237.08L179.6 237.16L180.1 237.23L180.6 237.3L181.1 237.37L181.6 237.44L182.1 237.5L182.6 237.55L183.1 237.6L183.6 237.65L184.1 237.69L184.6 237.72L185.1 237.75L185.6 237.77L186.1 237.79L186.6 237.8L187.1 237.8L187.6 237.79L188.1 237.78L188.6 237.76L189.1 237.73L189.6 237.7L190.1 237.66L190.6 237.62L191.1 237.57L191.6 237.51L192.1 237.45L192.6 237.39L193.1 237.32L193.6 237.25L194.1 237.17L194.6 237.09L195.1 237.01L195.6 236.93L196.1 236.85L196.6 236.76L197.1 236.68L197.6 236.59L198.1 236.5L198.6 236.41L199.1 236.32L199.6 236.24L200.1 236.15L200.6 236.07L201.1 235.99L201.6 235.91L202.1 235.83L202.6 235.75L203.1 235.68L203.6 235.61L204.1 235.55L204.6 235.49L205.1 235.43L205.6 235.38L206.1 235.34L206.6 235.3L207.1 235.27L207.6 235.24L208.1 235.22L208.6 235.21L209.1 235.2L209.6 235.2L210.1 235.2L210.6 235.21L211.1 235.22L211.6 235.23L212.1 235.25L212.6 235.26L213.1 235.28L213.6 235.31L214.1 235.33L214.6 235.36L215.1 235.38L215.6 235.41L216.1 235.44L216.6 235.48L217.1 235.51L217.6 235.55L218.1 235.59L218.6 235.62L219.1 235.66L219.6 235.7L220.1 235.75L220.6 235.79L221.1 235.83L221.6 235.88L222.1 235.92L222.6 235.96L223.1 236.01L223.6 236.05L224.1 236.1L224.6 236.15L225.1 236.19L225.6 236.24L226.1 236.28L226.6 236.32L227.1 236.37L227.6 236.41L228.1 236.45L228.6 236.5L229.1 236.54L229.6 236.58L230.1 236.61L230.6 236.65L231.1 236.69L231.6 236.72L232.1 236.76L232.6 236.79L233.1 236.82L233.6 236.84L234.1 236.87L234.6 236.89L235.1 236.92L235.6 236.94L236.1 236.95L236.6 236.97L237.1 236.98L237.6 236.99L238.1 237L238.6 237L239.1 237L239.6 237L240.1 236.99L240.6 236.99L241.1 236.98L241.6 236.97L242.1 236.96L242.6 236.94L243.1 236.93L243.6 236.91L244.1 236.89L244.6 236.86L245.1 236.84L245.6 236.81L246.1 236.78L246.6 236.76L247.1 236.72L247.6 236.69L248.1 236.65L248.6 236.62L249.1 236.58L249.6 236.54L250.1 236.5L250.6 236.46L251.1 236.41L251.6 236.37L252.1 236.32L252.6 236.27L253.1 236.22L253.6 236.17L254.1 236.12L254.6 236.06L255.1 236.01L255.6 235.95L256.1 235.9L256.6 235.84L257.1 235.78L257.6 235.72L258.1 235.66L258.6 235.6" fill="none" stroke="#626262" stroke-width="1.15"/>
<path d="M46.8 258.8L47.3 258.71L47.8 258.59L48.3 258.45L48.8 258.3L49.3 258.13L49.8 257.94L50.3 257.75L50.8 257.54L51.3 257.32L51.8 257.09L52.3 256.85L52.8 256.58L53.3 256.28L53.8 255.95L54.3 255.6L54.8 255.23L55.3 254.85L55.8 254.46L56.3 254.06L56.8 253.66L57.3 253.25L57.8 252.81L58.3 252.34L58.8 251.86L59.3 251.36L59.8 250.87L60.3 250.4L60.8 249.96L61.3 249.55L61.8 249.18L62.3 248.79L62.8 248.39L63.3 247.98L63.8 247.59L64.3 247.22L64.8 246.88L65.3 246.57L65.8 246.33L66.3 246.14L66.8 246.03L67.3 246L67.8 246.07L68.3 246.21L68.8 246.43L69.3 246.7L69.8 247.02L70.3 247.37L70.8 247.74L71.3 248.12L71.8 248.5L72.3 248.86L72.8 249.21L73.3 249.62L73.8 250.07L74.3 250.57L74.8 251.11L75.3 251.67L75.8 252.26L76.3 252.86L76.8 253.46L77.3 254.06L77.8 254.65L78.3 255.22L78.8 255.76L79.3 256.27L79.8 256.73L80.3 257.15L80.8 257.51L81.3 257.8L81.8 258.02L82.3 258.15L82.8 258.2L83.3 258.18L83.8 258.12L84.3 258.03L84.8 257.9L85.3 257.74L85.8 257.56L86.3 257.34L86.8 257.11L87.3 256.84L87.8 256.56L88.3 256.27L88.8 255.95L89.3 255.63L89.8 255.29L90.3 254.94L90.8 254.59L91.3 254.24L91.8 253.88L92.3 253.52L92.8 253.17L93.3 252.82L93.8 252.47L94.3 252.14L94.8 251.82L95.3 251.51L95.8 251.22L96.3 250.95L96.8 250.7L97.3 250.47L97.8 250.26L98.3 250.09L98.8 249.94L99.3 249.83L99.8 249.75L100.3 249.71L100.8 249.7L101.3 249.73L101.8 249.79L102.3 249.87L102.8 249.98L103.3 250.11L103.8 250.27L104.3 250.44L104.8 250.63L105.3 250.84L105.8 251.07L106.3 251.31L106.8 251.55L107.3 251.81L107.8 252.08L108.3 252.35L108.8 252.63L109.3 252.91L109.8 253.19L110.3 253.47L110.8 253.75L111.3 254.02L111.8 254.29L112.3 254.55L112.8 254.79L113.3 255.03L113.8 255.26L114.3 255.47L114.8 255.66L115.3 255.83L115.8 255.99L116.3 256.12L116.8 256.23L117.3 256.31L117.8 256.37L118.3 256.4L118.8 256.39L119.3 256.35L119.8 256.28L120.3 256.17L120.8 256.03L121.3 255.86L121.8 255.67L122.3 255.46L122.8 255.22L123.3 254.97L123.8 254.7L124.3 254.43L124.8 254.14L125.3 253.84L125.8 253.54L126.3 253.23L126.8 252.93L127.3 252.62L127.8 252.32L128.3 252.03L128.8 251.75L129.3 251.48L129.8 251.23L130.3 250.99L130.8 250.77L131.3 250.57L131.8 250.4L132.3 250.26L132.8 250.14L133.3 250.06L133.8 250.01L134.3 250L134.8 250.03L135.3 250.08L135.8 250.17L136.3 250.29L136.8 250.43L137.3 250.6L137.8 250.79L138.3 251L138.8 251.23L139.3 251.47L139.8 251.73L140.3 252L140.8 252.28L141.3 252.56L141.8 252.85L142.3 253.14L142.8 253.43L143.3 253.72L143.8 254.01L144.3 254.29L144.8 254.56L145.3 254.83L145.8 255.08L146.3 255.31L146.8 255.53L147.3 255.73L147.8 255.9L148.3 256.06L148.8 256.19L149.3 256.29L149.8 256.36L150.3 256.39L150.8 256.4L151.3 256.36L151.8 256.29L152.3 256.19L152.8 256.05L153.3 255.89L153.8 255.7L154.3 255.49L154.8 255.26L155.3 255.01L155.8 254.74L156.3 254.46L156.8 254.17L157.3 253.87L157.8 253.57L158.3 253.26L158.8 252.95L159.3 252.65L159.8 252.35L160.3 252.05L160.8 251.77L161.3 251.5L161.8 251.24L162.3 251L162.8 250.78L163.3 250.58L163.8 250.41L164.3 250.26L164.8 250.15L165.3 250.06L165.8 250.01L166.3 250L166.8 250.03L167.3 250.09L167.8 250.19L168.3 250.32L168.8 250.48L169.3 250.66L169.8 250.87L170.3 251.1L170.8 251.34L171.3 251.61L171.8 251.88L172.3 252.17L172.8 252.47L173.3 252.77L173.8 253.07L174.3 253.37L174.8 253.67L175.3 253.97L175.8 254.26L176.3 254.54L176.8 254.8L177.3 255.05L177.8 255.29L178.3 255.5L178.8 255.69L179.3 255.85L179.8 255.99L180.3 256.09L180.8 256.16L181.3 256.2L181.8 256.19L182.3 256.16L182.8 256.11L183.3 256.03L183.8 255.92L184.3 255.8L184.8 255.66L185.3 255.51L185.8 255.34L186.3 255.16L186.8 254.97L187.3 254.78L187.8 254.58L188.3 254.38L188.8 254.18L189.3 253.98L189.8 253.79L190.3 253.61L190.8 253.43L191.3 253.26L191.8 253.1L192.3 252.93L192.8 252.74L193.3 252.54L193.8 252.33L194.3 252.12L194.8 251.91L195.3 251.71L195.8 251.51L196.3 251.32L196.8 251.16L197.3 251.01L197.8 250.89L198.3 250.79L198.8 250.73L199.3 250.7L199.8 250.71L200.3 250.75L200.8 250.82L201.3 250.91L201.8 251.03L202.3 251.16L202.8 251.32L203.3 251.49L203.8 251.68L204.3 251.88L204.8 252.09L205.3 252.31L205.8 252.53L206.3 252.76L206.8 252.99L207.3 253.21L207.8 253.43L208.3 253.65L208.8 253.86L209.3 254.06L209.8 254.24L210.3 254.41L210.8 254.56L211.3 254.7L211.8 254.81L212.3 254.9L212.8 254.96L213.3 254.99L213.8 255L214.3 254.98L214.8 254.94L215.3 254.87L215.8 254.79L216.3 254.7L216.8 254.59L217.3 254.47L217.8 254.33L218.3 254.19L218.8 254.04L219.3 253.89L219.8 253.73L220.3 253.57L220.8 253.41L221.3 253.25L221.8 253.09L222.3 252.94L222.8 252.8L223.3 252.66L223.8 252.54L224.3 252.42L224.8 252.32L225.3 252.24L225.8 252.18L226.3 252.13L226.8 252.1L227.3 252.1L227.8 252.11L228.3 252.12L228.8 252.15L229.3 252.18L229.8 252.21L230.3 252.26L230.8 252.3L231.3 252.36L231.8 252.41L232.3 252.48L232.8 252.54L233.3 252.61L233.8 252.68L234.3 252.75L234.8 252.82L235.3 252.9L235.8 252.97L236.3 253.05L236.8 253.12L237.3 253.19L237.8 253.26L238.3 253.33L238.8 253.4L239.3 253.46L239.8 253.52L240.3 253.58L240.8 253.63L241.3 253.67L241.8 253.71L242.3 253.74L242.8 253.77L243.3 253.79L243.8 253.8L244.3 253.8L244.8 253.8L245.3 253.79L245.8 253.79L246.3 253.78L246.8 253.77L247.3 253.76L247.8 253.74L248.3 253.73L248.8 253.71L249.3 253.68L249.8 253.66L250.3 253.63L250.8 253.6L251.3 253.57L251.8 253.54L252.3 253.5L252.8 253.46L253.3 253.42L253.8 253.37L254.3 253.32L254.8 253.27L255.3 253.22L255.8 253.17L256.3 253.11L256.8 253.05L257.3 252.98L257.8 252.91L258.3 252.84L258.6 252.8" fill="none" stroke="#626262" stroke-width="1.15"/>
<path d="M46.8 266.6L47.3 266.6L47.8 266.6L48.3 266.6L48.8 266.6L49.3 266.59L49.8 266.59L50.3 266.59L50.8 266.58L51.3 266.58L51.8 266.58L52.3 266.57L52.8 266.57L53.3 266.56L53.8 266.55L54.3 266.55L54.8 266.54L55.3 266.53L55.8 266.53L56.3 266.52L56.8 266.51L57.3 266.5L57.8 266.49L58.3 266.48L58.8 266.47L59.3 266.46L59.8 266.45L60.3 266.44L60.8 266.43L61.3 266.42L61.8 266.4L62.3 266.39L62.8 266.36L63.3 266.33L63.8 266.28L64.3 266.23L64.8 266.17L65.3 266.11L65.8 266.05L66.3 265.98L66.8 265.91L67.3 265.85L67.8 265.79L68.3 265.74L68.8 265.69L69.3 265.65L69.8 265.62L70.3 265.6L70.8 265.6L71.3 265.62L71.8 265.67L72.3 265.75L72.8 265.85L73.3 265.97L73.8 266.1L74.3 266.25L74.8 266.41L75.3 266.57L75.8 266.73L76.3 266.9L76.8 267.06L77.3 267.21L77.8 267.35L78.3 267.48L78.8 267.59L79.3 267.68L79.8 267.75L80.3 267.79L80.8 267.8L81.3 267.76L81.8 267.67L82.3 267.53L82.8 267.36L83.3 267.15L83.8 266.92L84.3 266.68L84.8 266.43L85.3 266.17L85.8 265.92L86.3 265.68L86.8 265.46L87.3 265.27L87.8 265.11L88.3 264.99L88.8 264.92L89.3 264.9L89.8 264.93L90.3 265.01L90.8 265.12L91.3 265.27L91.8 265.45L92.3 265.65L92.8 265.88L93.3 266.13L93.8 266.39L94.3 266.66L94.8 266.94L95.3 267.23L95.8 267.51L96.3 267.79L96.8 268.06L97.3 268.32L97.8 268.57L98.3 268.79L98.8 268.99L99.3 269.16L99.8 269.31L100.3 269.41L100.8 269.48L101.3 269.5L101.8 269.45L102.3 269.31L102.8 269.09L103.3 268.8L103.8 268.45L104.3 268.05L104.8 267.61L105.3 267.14L105.8 266.65L106.3 266.15L106.8 265.65L107.3 265.16L107.8 264.69L108.3 264.25L108.8 263.85L109.3 263.5L109.8 263.21L110.3 262.99L110.8 262.85L111.3 262.8L111.8 262.85L112.3 262.98L112.8 263.19L113.3 263.48L113.8 263.82L114.3 264.21L114.8 264.65L115.3 265.12L115.8 265.62L116.3 266.13L116.8 266.65L117.3 267.17L117.8 267.68L118.3 268.17L118.8 268.63L119.3 269.05L119.8 269.42L120.3 269.74L120.8 270L121.3 270.18L121.8 270.28L122.3 270.29L122.8 270.19L123.3 269.99L123.8 269.7L124.3 269.33L124.8 268.89L125.3 268.39L125.8 267.86L126.3 267.29L126.8 266.69L127.3 266.09L127.8 265.49L128.3 264.9L128.8 264.33L129.3 263.8L129.8 263.32L130.3 262.89L130.8 262.54L131.3 262.26L131.8 262.08L132.3 262L132.8 262.04L133.3 262.21L133.8 262.5L134.3 262.88L134.8 263.34L135.3 263.88L135.8 264.47L136.3 265.1L136.8 265.76L137.3 266.43L137.8 267.1L138.3 267.75L138.8 268.37L139.3 268.94L139.8 269.45L140.3 269.89L140.8 270.23L141.3 270.47L141.8 270.59L142.3 270.58L142.8 270.45L143.3 270.21L143.8 269.88L144.3 269.47L144.8 268.99L145.3 268.46L145.8 267.87L146.3 267.26L146.8 266.62L147.3 265.97L147.8 265.32L148.3 264.69L148.8 264.09L149.3 263.52L149.8 263.01L150.3 262.55L150.8 262.17L151.3 261.88L151.8 261.69L152.3 261.6L152.8 261.65L153.3 261.83L153.8 262.14L154.3 262.56L154.8 263.07L155.3 263.66L155.8 264.3L156.3 264.99L156.8 265.71L157.3 266.45L157.8 267.18L158.3 267.89L158.8 268.56L159.3 269.19L159.8 269.75L160.3 270.22L160.8 270.6L161.3 270.86L161.8 270.99L162.3 270.97L162.8 270.78L163.3 270.45L163.8 269.99L164.3 269.42L164.8 268.77L165.3 268.04L165.8 267.27L166.3 266.47L166.8 265.67L167.3 264.87L167.8 264.11L168.3 263.4L168.8 262.76L169.3 262.21L169.8 261.77L170.3 261.47L170.8 261.31L171.3 261.33L171.8 261.5L172.3 261.8L172.8 262.22L173.3 262.75L173.8 263.36L174.3 264.03L174.8 264.76L175.3 265.52L175.8 266.3L176.3 267.08L176.8 267.84L177.3 268.57L177.8 269.24L178.3 269.85L178.8 270.38L179.3 270.8L179.8 271.1L180.3 271.27L180.8 271.29L181.3 271.15L181.8 270.87L182.3 270.46L182.8 269.96L183.3 269.37L183.8 268.71L184.3 268L184.8 267.25L185.3 266.5L185.8 265.75L186.3 265.01L186.8 264.32L187.3 263.69L187.8 263.13L188.3 262.66L188.8 262.31L189.3 262.08L189.8 262L190.3 262.06L190.8 262.23L191.3 262.5L191.8 262.86L192.3 263.3L192.8 263.79L193.3 264.34L193.8 264.93L194.3 265.54L194.8 266.17L195.3 266.8L195.8 267.43L196.3 268.03L196.8 268.59L197.3 269.11L197.8 269.57L198.3 269.96L198.8 270.27L199.3 270.48L199.8 270.59L200.3 270.58L200.8 270.44L201.3 270.2L201.8 269.87L202.3 269.45L202.8 268.97L203.3 268.43L203.8 267.85L204.3 267.25L204.8 266.64L205.3 266.03L205.8 265.43L206.3 264.86L206.8 264.33L207.3 263.86L207.8 263.46L208.3 263.14L208.8 262.92L209.3 262.81L209.8 262.82L210.3 262.93L210.8 263.14L211.3 263.43L211.8 263.79L212.3 264.21L212.8 264.67L213.3 265.17L213.8 265.7L214.3 266.24L214.8 266.78L215.3 267.32L215.8 267.83L216.3 268.31L216.8 268.75L217.3 269.13L217.8 269.45L218.3 269.69L218.8 269.85L219.3 269.9L219.8 269.85L220.3 269.69L220.8 269.44L221.3 269.12L221.8 268.73L222.3 268.29L222.8 267.81L223.3 267.29L223.8 266.76L224.3 266.23L224.8 265.7L225.3 265.2L225.8 264.72L226.3 264.29L226.8 263.91L227.3 263.6L227.8 263.37L228.3 263.24L228.8 263.2L229.3 263.27L229.8 263.42L230.3 263.66L230.8 263.96L231.3 264.31L231.8 264.72L232.3 265.16L232.8 265.62L233.3 266.11L233.8 266.6L234.3 267.08L234.8 267.55L235.3 268L235.8 268.41L236.3 268.78L236.8 269.09L237.3 269.34L237.8 269.51L238.3 269.59L238.8 269.58L239.3 269.49L239.8 269.33L240.3 269.09L240.8 268.81L241.3 268.47L241.8 268.1L242.3 267.69L242.8 267.27L243.3 266.84L243.8 266.4L244.3 265.97L244.8 265.56L245.3 265.18L245.8 264.82L246.3 264.52L246.8 264.26L247.3 264.07L247.8 263.94L248.3 263.9L248.8 263.91L249.3 263.95L249.8 264L250.3 264.09L250.8 264.19L251.3 264.32L251.8 264.47L252.3 264.65L252.8 264.86L253.3 265.09L253.8 265.35L254.3 265.63L254.8 265.94L255.3 266.28L255.8 266.64L256.3 267.03L256.8 267.45L257.3 267.9L257.8 268.38L258.3 268.88L258.6 269.2" fill="none" stroke="#626262" stroke-width="1.15"/>
<path d="M46.8 289.5L47.3 287.23L47.8 285.08L48.3 283.08L48.8 281.25L49.3 279.64L49.8 278.25L50.3 277.13L50.8 276.3L51.3 275.63L51.8 275.01L52.3 274.46L52.8 274.01L53.3 273.68L53.8 273.52L54.3 273.51L54.8 273.58L55.3 273.68L55.8 273.81L56.3 273.94L56.8 274.06L57.3 274.16L57.8 274.2L58.3 274.11L58.8 273.76L59.3 273.23L59.8 272.57L60.3 271.86L60.8 271.16L61.3 270.54L61.8 270.07L62.3 269.82L62.8 269.82L63.3 269.92L63.8 270.11L64.3 270.36L64.8 270.66L65.3 270.99L65.8 271.35L66.3 271.75L66.8 272.31L67.3 273.02L67.8 273.87L68.3 274.83L68.8 275.9L69.3 277.04L69.8 278.25L70.3 279.5L70.8 280.77L71.3 282.05L71.8 283.32L72.3 284.56L72.8 285.75L73.3 286.87L73.8 287.92L74.3 289.04L74.8 290.24L75.3 291.5L75.8 292.81L76.3 294.14L76.8 295.47L77.3 296.78L77.8 298.06L78.3 299.27L78.8 300.41L79.3 301.45L79.8 302.37L80.3 303.15L80.8 303.77L81.3 304.22L81.8 304.46L82.3 304.49L82.8 304.33L83.3 304.01L83.8 303.55L84.3 302.96L84.8 302.26L85.3 301.46L85.8 300.59L86.3 299.66L86.8 298.68L87.3 297.68L87.8 296.67L88.3 295.67L88.8 294.68L89.3 293.74L89.8 292.86L90.3 292.05L90.8 291.33L91.3 290.72L91.8 290.23L92.3 289.87L92.8 289.57L93.3 289.3L93.8 289.06L94.3 288.84L94.8 288.64L95.3 288.45L95.8 288.26L96.3 288.08L96.8 287.89L97.3 287.7L97.8 287.49L98.3 287.27L98.8 287.02L99.3 286.74L99.8 286.41L100.3 286.03L100.8 285.6L101.3 285.13L101.8 284.63L102.3 284.1L102.8 283.55L103.3 282.99L103.8 282.42L104.3 281.86L104.8 281.31L105.3 280.77L105.8 280.25L106.3 279.77L106.8 279.32L107.3 278.92L107.8 278.56L108.3 278.27L108.8 278.04L109.3 277.88L109.8 277.81L110.3 277.83L110.8 278L111.3 278.32L111.8 278.76L112.3 279.31L112.8 279.95L113.3 280.68L113.8 281.47L114.3 282.3L114.8 283.17L115.3 284.06L115.8 284.95L116.3 285.82L116.8 286.67L117.3 287.47L117.8 288.21L118.3 288.87L118.8 289.44L119.3 289.9L119.8 290.25L120.3 290.45L120.8 290.5L121.3 290.4L121.8 290.17L122.3 289.84L122.8 289.4L123.3 288.88L123.8 288.29L124.3 287.65L124.8 286.96L125.3 286.25L125.8 285.53L126.3 284.82L126.8 284.12L127.3 283.46L127.8 282.85L128.3 282.3L128.8 281.83L129.3 281.45L129.8 281.18L130.3 281.03L130.8 281.01L131.3 281.14L131.8 281.4L132.3 281.78L132.8 282.27L133.3 282.86L133.8 283.53L134.3 284.28L134.8 285.09L135.3 285.95L135.8 286.85L136.3 287.78L136.8 288.72L137.3 289.67L137.8 290.61L138.3 291.53L138.8 292.43L139.3 293.28L139.8 294.08L140.3 294.81L140.8 295.47L141.3 296.03L141.8 296.5L142.3 296.86L142.8 297.1L143.3 297.2L143.8 297.15L144.3 296.95L144.8 296.63L145.3 296.2L145.8 295.67L146.3 295.08L146.8 294.44L147.3 293.76L147.8 293.07L148.3 292.38L148.8 291.73L149.3 291.11L149.8 290.57L150.3 290.1L150.8 289.74L151.3 289.5L151.8 289.34L152.3 289.2L152.8 289.08L153.3 288.98L153.8 288.88L154.3 288.8L154.8 288.72L155.3 288.64L155.8 288.56L156.3 288.48L156.8 288.38L157.3 288.28L157.8 288.16L158.3 288.03L158.8 287.88L159.3 287.7L159.8 287.51L160.3 287.28L160.8 287.03L161.3 286.74L161.8 286.33L162.3 285.78L162.8 285.11L163.3 284.35L163.8 283.5L164.3 282.61L164.8 281.68L165.3 280.73L165.8 279.8L166.3 278.89L166.8 278.04L167.3 277.26L167.8 276.58L168.3 276.01L168.8 275.57L169.3 275.3L169.8 275.2L170.3 275.38L170.8 275.88L171.3 276.64L171.8 277.62L172.3 278.76L172.8 280L173.3 281.3L173.8 282.61L174.3 283.86L174.8 285L175.3 285.99L175.8 286.76L176.3 287.33L176.8 287.87L177.3 288.42L177.8 288.94L178.3 289.43L178.8 289.88L179.3 290.26L179.8 290.58L180.3 290.82L180.8 290.96L181.3 291L181.8 290.93L182.3 290.77L182.8 290.53L183.3 290.23L183.8 289.87L184.3 289.46L184.8 289.03L185.3 288.57L185.8 288.11L186.3 287.65L186.8 287.21L187.3 286.79L187.8 286.41L188.3 286.08L188.8 285.82L189.3 285.63L189.8 285.52L190.3 285.51L190.8 285.58L191.3 285.74L191.8 285.96L192.3 286.23L192.8 286.55L193.3 286.91L193.8 287.28L194.3 287.67L194.8 288.06L195.3 288.45L195.8 288.81L196.3 289.14L196.8 289.44L197.3 289.68L197.8 289.86L198.3 289.97L198.8 290L199.3 289.94L199.8 289.79L200.3 289.57L200.8 289.28L201.3 288.94L201.8 288.55L202.3 288.13L202.8 287.67L203.3 287.19L203.8 286.7L204.3 286.2L204.8 285.71L205.3 285.24L205.8 284.79L206.3 284.36L206.8 283.98L207.3 283.65L207.8 283.38L208.3 283.18L208.8 283.05L209.3 283L209.8 283.07L210.3 283.26L210.8 283.56L211.3 283.96L211.8 284.43L212.3 284.96L212.8 285.53L213.3 286.13L213.8 286.74L214.3 287.35L214.8 287.93L215.3 288.47L215.8 288.95L216.3 289.36L216.8 289.69L217.3 289.9L217.8 290L218.3 289.96L218.8 289.81L219.3 289.57L219.8 289.23L220.3 288.82L220.8 288.34L221.3 287.82L221.8 287.25L222.3 286.66L222.8 286.06L223.3 285.46L223.8 284.86L224.3 284.29L224.8 283.76L225.3 283.27L225.8 282.85L226.3 282.5L226.8 282.23L227.3 282.06L227.8 282L228.3 282.05L228.8 282.19L229.3 282.42L229.8 282.72L230.3 283.08L230.8 283.51L231.3 283.98L231.8 284.49L232.3 285.03L232.8 285.59L233.3 286.17L233.8 286.75L234.3 287.32L234.8 287.88L235.3 288.41L235.8 288.92L236.3 289.38L236.8 289.79L237.3 290.15L237.8 290.43L238.3 290.64L238.8 290.77L239.3 290.8L239.8 290.73L240.3 290.56L240.8 290.32L241.3 290.01L241.8 289.64L242.3 289.23L242.8 288.79L243.3 288.33L243.8 287.87L244.3 287.42L244.8 286.98L245.3 286.58L245.8 286.23L246.3 285.93L246.8 285.7L247.3 285.55L247.8 285.5L248.3 285.5L248.8 285.5L249.3 285.51L249.8 285.52L250.3 285.53L250.8 285.55L251.3 285.59L251.8 285.63L252.3 285.68L252.8 285.75L253.3 285.83L253.8 285.93L254.3 286.05L254.8 286.18L255.3 286.34L255.8 286.52L256.3 286.72L256.8 286.95L257.3 287.2L257.8 287.48L258.3 287.8L258.6 288" fill="none" stroke="#d85a5a" stroke-width="1.0"/>
<path d="M46.8 289.1L47.3 287.73L47.8 286.37L48.3 285.04L48.8 283.76L49.3 282.52L49.8 281.35L50.3 280.26L50.8 279.25L51.3 278.35L51.8 277.55L52.3 276.87L52.8 276.24L53.3 275.61L53.8 274.99L54.3 274.39L54.8 273.8L55.3 273.23L55.8 272.68L56.3 272.16L56.8 271.67L57.3 271.21L57.8 270.79L58.3 270.42L58.8 270.08L59.3 269.8L59.8 269.56L60.3 269.38L60.8 269.26L61.3 269.21L61.8 269.21L62.3 269.28L62.8 269.39L63.3 269.56L63.8 269.76L64.3 270.01L64.8 270.27L65.3 270.57L65.8 270.87L66.3 271.23L66.8 271.75L67.3 272.45L67.8 273.29L68.3 274.27L68.8 275.35L69.3 276.51L69.8 277.74L70.3 279.01L70.8 280.31L71.3 281.6L71.8 282.88L72.3 284.12L72.8 285.3L73.3 286.39L73.8 287.4L74.3 288.46L74.8 289.58L75.3 290.76L75.8 291.97L76.3 293.19L76.8 294.41L77.3 295.61L77.8 296.77L78.3 297.88L78.8 298.91L79.3 299.85L79.8 300.68L80.3 301.39L80.8 301.95L81.3 302.35L81.8 302.56L82.3 302.59L82.8 302.44L83.3 302.14L83.8 301.7L84.3 301.15L84.8 300.49L85.3 299.75L85.8 298.93L86.3 298.06L86.8 297.15L87.3 296.21L87.8 295.27L88.3 294.33L88.8 293.42L89.3 292.54L89.8 291.72L90.3 290.97L90.8 290.31L91.3 289.75L91.8 289.3L92.3 288.98L92.8 288.72L93.3 288.48L93.8 288.27L94.3 288.09L94.8 287.91L95.3 287.75L95.8 287.59L96.3 287.44L96.8 287.28L97.3 287.11L97.8 286.92L98.3 286.72L98.8 286.5L99.3 286.25L99.8 285.94L100.3 285.58L100.8 285.16L101.3 284.7L101.8 284.2L102.3 283.68L102.8 283.13L103.3 282.57L103.8 282L104.3 281.43L104.8 280.87L105.3 280.33L105.8 279.8L106.3 279.31L106.8 278.85L107.3 278.44L107.8 278.08L108.3 277.78L108.8 277.55L109.3 277.39L109.8 277.31L110.3 277.33L110.8 277.5L111.3 277.81L111.8 278.24L112.3 278.78L112.8 279.42L113.3 280.13L113.8 280.91L114.3 281.73L114.8 282.59L115.3 283.46L115.8 284.34L116.3 285.2L116.8 286.03L117.3 286.82L117.8 287.54L118.3 288.2L118.8 288.76L119.3 289.21L119.8 289.55L120.3 289.75L120.8 289.8L121.3 289.7L121.8 289.48L122.3 289.16L122.8 288.73L123.3 288.23L123.8 287.66L124.3 287.04L124.8 286.37L125.3 285.69L125.8 284.99L126.3 284.3L126.8 283.63L127.3 282.99L127.8 282.39L128.3 281.86L128.8 281.4L129.3 281.03L129.8 280.77L130.3 280.62L130.8 280.61L131.3 280.73L131.8 280.99L132.3 281.35L132.8 281.82L133.3 282.39L133.8 283.04L134.3 283.76L134.8 284.54L135.3 285.37L135.8 286.23L136.3 287.13L136.8 288.03L137.3 288.95L137.8 289.85L138.3 290.74L138.8 291.6L139.3 292.42L139.8 293.19L140.3 293.9L140.8 294.53L141.3 295.08L141.8 295.53L142.3 295.87L142.8 296.1L143.3 296.2L143.8 296.15L144.3 295.97L144.8 295.68L145.3 295.28L145.8 294.79L146.3 294.25L146.8 293.65L147.3 293.03L147.8 292.39L148.3 291.76L148.8 291.16L149.3 290.59L149.8 290.09L150.3 289.66L150.8 289.32L151.3 289.1L151.8 288.95L152.3 288.82L152.8 288.72L153.3 288.62L153.8 288.54L154.3 288.46L154.8 288.39L155.3 288.32L155.8 288.25L156.3 288.17L156.8 288.08L157.3 287.98L157.8 287.87L158.3 287.73L158.8 287.57L159.3 287.36L159.8 287.13L160.3 286.86L160.8 286.56L161.3 286.23L161.8 285.81L162.3 285.26L162.8 284.62L163.3 283.9L163.8 283.12L164.3 282.29L164.8 281.44L165.3 280.58L165.8 279.73L166.3 278.91L166.8 278.14L167.3 277.44L167.8 276.83L168.3 276.32L168.8 275.93L169.3 275.69L169.8 275.6L170.3 275.7L170.8 276L171.3 276.47L171.8 277.1L172.3 277.87L172.8 278.75L173.3 279.74L173.8 280.81L174.3 281.94L174.8 283.11L175.3 284.32L175.8 285.53L176.3 286.72L176.8 287.89L177.3 289.01L177.8 290.07L178.3 291.03L178.8 291.9L179.3 292.64L179.8 293.24L180.3 293.67L180.8 293.93L181.3 294L181.8 293.89L182.3 293.66L182.8 293.3L183.3 292.85L183.8 292.31L184.3 291.71L184.8 291.06L185.3 290.38L185.8 289.69L186.3 289.01L186.8 288.35L187.3 287.72L187.8 287.16L188.3 286.67L188.8 286.27L189.3 285.99L189.8 285.83L190.3 285.81L190.8 285.89L191.3 286.05L191.8 286.28L192.3 286.57L192.8 286.9L193.3 287.27L193.8 287.66L194.3 288.07L194.8 288.48L195.3 288.88L195.8 289.26L196.3 289.61L196.8 289.91L197.3 290.17L197.8 290.36L198.3 290.47L198.8 290.5L199.3 290.43L199.8 290.29L200.3 290.06L200.8 289.77L201.3 289.43L201.8 289.03L202.3 288.6L202.8 288.14L203.3 287.65L203.8 287.15L204.3 286.65L204.8 286.15L205.3 285.67L205.8 285.21L206.3 284.78L206.8 284.4L207.3 284.06L207.8 283.79L208.3 283.58L208.8 283.45L209.3 283.4L209.8 283.46L210.3 283.64L210.8 283.92L211.3 284.28L211.8 284.71L212.3 285.19L212.8 285.72L213.3 286.27L213.8 286.82L214.3 287.37L214.8 287.9L215.3 288.4L215.8 288.84L216.3 289.22L216.8 289.51L217.3 289.71L217.8 289.8L218.3 289.76L218.8 289.63L219.3 289.39L219.8 289.08L220.3 288.69L220.8 288.25L221.3 287.75L221.8 287.23L222.3 286.67L222.8 286.11L223.3 285.54L223.8 284.98L224.3 284.45L224.8 283.95L225.3 283.49L225.8 283.09L226.3 282.76L226.8 282.51L227.3 282.36L227.8 282.3L228.3 282.35L228.8 282.48L229.3 282.69L229.8 282.97L230.3 283.31L230.8 283.7L231.3 284.14L231.8 284.62L232.3 285.12L232.8 285.65L233.3 286.18L233.8 286.72L234.3 287.26L234.8 287.78L235.3 288.28L235.8 288.75L236.3 289.18L236.8 289.56L237.3 289.89L237.8 290.16L238.3 290.35L238.8 290.47L239.3 290.5L239.8 290.43L240.3 290.29L240.8 290.07L241.3 289.8L241.8 289.47L242.3 289.11L242.8 288.72L243.3 288.31L243.8 287.9L244.3 287.5L244.8 287.12L245.3 286.76L245.8 286.44L246.3 286.18L246.8 285.98L247.3 285.85L247.8 285.8L248.3 285.8L248.8 285.81L249.3 285.81L249.8 285.83L250.3 285.85L250.8 285.88L251.3 285.92L251.8 285.97L252.3 286.04L252.8 286.11L253.3 286.2L253.8 286.31L254.3 286.43L254.8 286.58L255.3 286.74L255.8 286.92L256.3 287.13L256.8 287.36L257.3 287.61L257.8 287.89L258.3 288.2L258.6 288.4" fill="none" stroke="#3a3030" stroke-width="1.0"/>
<text x="261" y="200.6" font-size="8.6" fill="#1e1e1e" stroke="#1e1e1e">γ</text>
<text x="265.6" y="197.6" font-size="6.6" fill="#1e1e1e" stroke="#1e1e1e">(2)</text>
<text x="265.4" y="205.1" font-size="6.6" fill="#1e1e1e" stroke="#1e1e1e">1</text>
<text x="276.4" y="201" font-size="8.35" fill="#1e1e1e" stroke="#1e1e1e">Mn-N</text>
<text x="261" y="218.4" font-size="8.6" fill="#1e1e1e" stroke="#1e1e1e">γ</text>
<text x="265.6" y="215.4" font-size="6.6" fill="#1e1e1e" stroke="#1e1e1e">(2)</text>
<text x="265.4" y="222.9" font-size="6.6" fill="#1e1e1e" stroke="#1e1e1e">2</text>
<text x="276.4" y="218.8" font-size="8.35" fill="#1e1e1e" stroke="#1e1e1e">Mn-N</text>
<text x="261" y="236.2" font-size="8.6" fill="#1e1e1e" stroke="#1e1e1e">γ</text>
<text x="265.6" y="233.2" font-size="6.6" fill="#1e1e1e" stroke="#1e1e1e">(2)</text>
<text x="265.4" y="240.7" font-size="6.6" fill="#1e1e1e" stroke="#1e1e1e">3</text>
<text x="276.4" y="236.6" font-size="8.35" fill="#1e1e1e" stroke="#1e1e1e">Mn-N</text>
<text x="261" y="254" font-size="8.6" fill="#1e1e1e" stroke="#1e1e1e">γ</text>
<text x="265.6" y="251" font-size="6.6" fill="#1e1e1e" stroke="#1e1e1e">(3)</text>
<text x="265.4" y="258.5" font-size="6.6" fill="#1e1e1e" stroke="#1e1e1e">1</text>
<text x="276.4" y="254.4" font-size="8.35" fill="#1e1e1e" stroke="#1e1e1e">Mn-N-C</text>
<text x="261" y="272" font-size="8.6" fill="#1e1e1e" stroke="#1e1e1e">γ</text>
<text x="265.6" y="269" font-size="6.6" fill="#1e1e1e" stroke="#1e1e1e">(4)</text>
<text x="265.4" y="276.5" font-size="6.6" fill="#1e1e1e" stroke="#1e1e1e">1</text>
<text x="276.4" y="272.4" font-size="8.35" fill="#1e1e1e" stroke="#1e1e1e">Mn-N-C-Fe</text>
<rect x="346.2" y="191.7" width="220" height="118.6" fill="none" stroke="#a9a9a9" stroke-width="1"/>
<path d="M369.3 310.3v-2.4M369.3 191.7v2.4M415.8 310.3v-2.4M415.8 191.7v2.4M462.3 310.3v-2.4M462.3 191.7v2.4M508.8 310.3v-2.4M508.8 191.7v2.4M555.3 310.3v-2.4M555.3 191.7v2.4M346.2 202.1h2.4M566.2 202.1h-2.4M346.2 222.7h2.4M566.2 222.7h-2.4M346.2 243.3h2.4M566.2 243.3h-2.4M346.2 263.9h2.4M566.2 263.9h-2.4M346.2 284.5h2.4M566.2 284.5h-2.4M346.2 305.1h2.4M566.2 305.1h-2.4" stroke="#8a8a8a" stroke-width="0.8" fill="none"/>
<text x="369.3" y="322" font-size="7.5" text-anchor="middle" font-weight="normal" fill="#1e1e1e" stroke="#1e1e1e" >4</text>
<text x="415.8" y="322" font-size="7.5" text-anchor="middle" font-weight="normal" fill="#1e1e1e" stroke="#1e1e1e" >6</text>
<text x="462.3" y="322" font-size="7.5" text-anchor="middle" font-weight="normal" fill="#1e1e1e" stroke="#1e1e1e" >8</text>
<text x="508.8" y="322" font-size="7.5" text-anchor="middle" font-weight="normal" fill="#1e1e1e" stroke="#1e1e1e" >10</text>
<text x="555.3" y="322" font-size="7.5" text-anchor="middle" font-weight="normal" fill="#1e1e1e" stroke="#1e1e1e" >12</text>
<text x="456.1" y="187.5" font-size="9" text-anchor="middle" font-weight="bold" fill="#111" stroke="#111" >Fe K-edge</text>
<text x="339.2" y="251" font-size="9.6" text-anchor="middle" font-weight="normal" fill="#1e1e1e" stroke="#1e1e1e" transform="rotate(-90 339.2 251.0)">k<tspan font-size="6.2" dy="-3.6">2</tspan><tspan dy="3.6"> · χ(k) / Å</tspan><tspan font-size="6.2" dy="-3.6">-2</tspan></text>
<text x="456.1" y="336.3" font-size="9.3" text-anchor="middle" font-weight="normal" fill="#1e1e1e" stroke="#1e1e1e" >Wave vector (k) /Å<tspan font-size="6.4" dy="-3.6">-1</tspan></text>
<path d="M346.4 222L346.9 222.93L347.4 223.78L347.9 224.57L348.4 225.28L348.9 225.93L349.4 226.5L349.9 227.01L350.4 227.45L350.9 227.82L351.4 228.13L351.9 228.37L352.4 228.54L352.9 228.65L353.4 228.7L353.9 228.66L354.4 228.51L354.9 228.26L355.4 227.92L355.9 227.51L356.4 227.03L356.9 226.5L357.4 225.94L357.9 225.36L358.4 224.77L358.9 224.18L359.4 223.61L359.9 223.03L360.4 222.38L360.9 221.66L361.4 220.88L361.9 220.07L362.4 219.22L362.9 218.36L363.4 217.49L363.9 216.64L364.4 215.8L364.9 214.99L365.4 214.22L365.9 213.52L366.4 212.88L366.9 212.25L367.4 211.63L367.9 211L368.4 210.39L368.9 209.8L369.4 209.22L369.9 208.68L370.4 208.17L370.9 207.71L371.4 207.3L371.9 206.94L372.4 206.65L372.9 206.41L373.4 206.16L373.9 205.93L374.4 205.71L374.9 205.5L375.4 205.31L375.9 205.14L376.4 204.99L376.9 204.87L377.4 204.78L377.9 204.72L378.4 204.7L378.9 204.71L379.4 204.76L379.9 204.82L380.4 204.91L380.9 205.02L381.4 205.15L381.9 205.3L382.4 205.46L382.9 205.64L383.4 205.82L383.9 206.02L384.4 206.22L384.9 206.43L385.4 206.64L385.9 206.85L386.4 207.07L386.9 207.28L387.4 207.48L387.9 207.68L388.4 207.89L388.9 208.12L389.4 208.36L389.9 208.62L390.4 208.88L390.9 209.15L391.4 209.43L391.9 209.71L392.4 209.99L392.9 210.27L393.4 210.55L393.9 210.83L394.4 211.09L394.9 211.35L395.4 211.61L395.9 211.87L396.4 212.13L396.9 212.4L397.4 212.66L397.9 212.93L398.4 213.19L398.9 213.46L399.4 213.72L399.9 213.98L400.4 214.24L400.9 214.5L401.4 214.75L401.9 215L402.4 215.24L402.9 215.47L403.4 215.7L403.9 215.92L404.4 216.14L404.9 216.34L405.4 216.55L405.9 216.77L406.4 216.99L406.9 217.22L407.4 217.44L407.9 217.67L408.4 217.9L408.9 218.12L409.4 218.34L409.9 218.55L410.4 218.76L410.9 218.95L411.4 219.13L411.9 219.3L412.4 219.44L412.9 219.58L413.4 219.69L413.9 219.78L414.4 219.84L414.9 219.89L415.4 219.9L415.9 219.88L416.4 219.81L416.9 219.69L417.4 219.54L417.9 219.35L418.4 219.12L418.9 218.85L419.4 218.55L419.9 218.22L420.4 217.86L420.9 217.47L421.4 217.06L421.9 216.63L422.4 216.17L422.9 215.69L423.4 215.2L423.9 214.7L424.4 214.18L424.9 213.65L425.4 213.11L425.9 212.56L426.4 212.01L426.9 211.46L427.4 210.91L427.9 210.36L428.4 209.81L428.9 209.27L429.4 208.73L429.9 208.21L430.4 207.7L430.9 207.2L431.4 206.72L431.9 206.25L432.4 205.81L432.9 205.39L433.4 204.99L433.9 204.62L434.4 204.28L434.9 203.97L435.4 203.69L435.9 203.44L436.4 203.23L436.9 203.06L437.4 202.93L437.9 202.85L438.4 202.8L438.9 202.81L439.4 202.86L439.9 202.96L440.4 203.1L440.9 203.29L441.4 203.51L441.9 203.78L442.4 204.07L442.9 204.41L443.4 204.77L443.9 205.16L444.4 205.58L444.9 206.02L445.4 206.49L445.9 206.98L446.4 207.48L446.9 208.01L447.4 208.54L447.9 209.1L448.4 209.66L448.9 210.22L449.4 210.8L449.9 211.38L450.4 211.96L450.9 212.54L451.4 213.12L451.9 213.69L452.4 214.26L452.9 214.82L453.4 215.36L453.9 215.9L454.4 216.42L454.9 216.92L455.4 217.41L455.9 217.87L456.4 218.31L456.9 218.72L457.4 219.11L457.9 219.46L458.4 219.79L458.9 220.08L459.4 220.33L459.9 220.55L460.4 220.73L460.9 220.86L461.4 220.95L461.9 221L462.4 220.99L462.9 220.95L463.4 220.88L463.9 220.77L464.4 220.64L464.9 220.47L465.4 220.28L465.9 220.06L466.4 219.81L466.9 219.54L467.4 219.25L467.9 218.94L468.4 218.61L468.9 218.26L469.4 217.9L469.9 217.53L470.4 217.14L470.9 216.74L471.4 216.33L471.9 215.91L472.4 215.49L472.9 215.07L473.4 214.64L473.9 214.21L474.4 213.78L474.9 213.35L475.4 212.92L475.9 212.5L476.4 212.09L476.9 211.68L477.4 211.28L477.9 210.9L478.4 210.53L478.9 210.17L479.4 209.82L479.9 209.5L480.4 209.19L480.9 208.9L481.4 208.64L481.9 208.4L482.4 208.18L482.9 207.99L483.4 207.83L483.9 207.7L484.4 207.6L484.9 207.54L485.4 207.5L485.9 207.5L486.4 207.52L486.9 207.55L487.4 207.6L487.9 207.66L488.4 207.74L488.9 207.83L489.4 207.93L489.9 208.04L490.4 208.17L490.9 208.3L491.4 208.45L491.9 208.61L492.4 208.77L492.9 208.94L493.4 209.12L493.9 209.31L494.4 209.5L494.9 209.7L495.4 209.91L495.9 210.12L496.4 210.34L496.9 210.55L497.4 210.77L497.9 211L498.4 211.22L498.9 211.45L499.4 211.68L499.9 211.9L500.4 212.13L500.9 212.36L501.4 212.58L501.9 212.8L502.4 213.02L502.9 213.24L503.4 213.45L503.9 213.65L504.4 213.86L504.9 214.05L505.4 214.24L505.9 214.42L506.4 214.6L506.9 214.76L507.4 214.92L507.9 215.07L508.4 215.2L508.9 215.33L509.4 215.45L509.9 215.55L510.4 215.64L510.9 215.72L511.4 215.79L511.9 215.84L512.4 215.87L512.9 215.89L513.4 215.9L513.9 215.89L514.4 215.85L514.9 215.8L515.4 215.73L515.9 215.64L516.4 215.54L516.9 215.42L517.4 215.29L517.9 215.15L518.4 214.99L518.9 214.83L519.4 214.65L519.9 214.46L520.4 214.27L520.9 214.07L521.4 213.86L521.9 213.65L522.4 213.43L522.9 213.21L523.4 212.98L523.9 212.75L524.4 212.53L524.9 212.3L525.4 212.07L525.9 211.85L526.4 211.63L526.9 211.41L527.4 211.2L527.9 210.99L528.4 210.79L528.9 210.6L529.4 210.41L529.9 210.24L530.4 210.07L530.9 209.92L531.4 209.78L531.9 209.65L532.4 209.54L532.9 209.44L533.4 209.35L533.9 209.29L534.4 209.24L534.9 209.21L535.4 209.2L535.9 209.21L536.4 209.24L536.9 209.28L537.4 209.35L537.9 209.42L538.4 209.52L538.9 209.63L539.4 209.75L539.9 209.88L540.4 210.03L540.9 210.18L541.4 210.35L541.9 210.52L542.4 210.71L542.9 210.9L543.4 211.1L543.9 211.3L544.4 211.51L544.9 211.72L545.4 211.94L545.9 212.15L546.4 212.37L546.9 212.59L547.4 212.81L547.9 213.03L548.4 213.25L548.9 213.47L549.4 213.68L549.9 213.88L550.4 214.08L550.9 214.28L551.4 214.47L551.9 214.65L552.4 214.82L552.9 214.98L553.4 215.13L553.9 215.27L554.4 215.4L554.9 215.52L555.4 215.62L555.9 215.71L556.4 215.78L556.9 215.84L557.4 215.88L557.9 215.9L558.4 215.9L558.9 215.87L559.4 215.82L559.9 215.74L560.4 215.64L560.9 215.52L561.4 215.38L561.9 215.22L562.4 215.04L562.9 214.85L563.4 214.65L563.9 214.45L564.4 214.23L564.9 214L565.4 213.78L565.9 213.55L566 213.5" fill="none" stroke="#626262" stroke-width="1.15"/>
<path d="M346.4 234.4L346.9 235.25L347.4 236.07L347.9 236.87L348.4 237.64L348.9 238.38L349.4 239.09L349.9 239.76L350.4 240.4L350.9 240.99L351.4 241.55L351.9 242.06L352.4 242.53L352.9 242.95L353.4 243.32L353.9 243.64L354.4 243.91L354.9 244.12L355.4 244.27L355.9 244.37L356.4 244.4L356.9 244.36L357.4 244.24L357.9 244.05L358.4 243.79L358.9 243.47L359.4 243.1L359.9 242.67L360.4 242.19L360.9 241.67L361.4 241.11L361.9 240.52L362.4 239.91L362.9 239.27L363.4 238.61L363.9 237.95L364.4 237.27L364.9 236.59L365.4 235.92L365.9 235.25L366.4 234.6L366.9 233.97L367.4 233.36L367.9 232.77L368.4 232.22L368.9 231.71L369.4 231.24L369.9 230.82L370.4 230.46L370.9 230.15L371.4 229.91L371.9 229.73L372.4 229.63L372.9 229.6L373.4 229.66L373.9 229.81L374.4 230.03L374.9 230.32L375.4 230.67L375.9 231.09L376.4 231.56L376.9 232.08L377.4 232.64L377.9 233.24L378.4 233.86L378.9 234.52L379.4 235.19L379.9 235.88L380.4 236.57L380.9 237.27L381.4 237.96L381.9 238.65L382.4 239.32L382.9 239.96L383.4 240.59L383.9 241.18L384.4 241.73L384.9 242.24L385.4 242.7L385.9 243.1L386.4 243.45L386.9 243.72L387.4 243.93L387.9 244.06L388.4 244.1L388.9 244.05L389.4 243.9L389.9 243.66L390.4 243.33L390.9 242.93L391.4 242.45L391.9 241.92L392.4 241.34L392.9 240.7L393.4 240.03L393.9 239.33L394.4 238.6L394.9 237.85L395.4 237.1L395.9 236.35L396.4 235.6L396.9 234.86L397.4 234.15L397.9 233.46L398.4 232.81L398.9 232.21L399.4 231.65L399.9 231.15L400.4 230.72L400.9 230.37L401.4 230.09L401.9 229.9L402.4 229.81L402.9 229.82L403.4 229.91L403.9 230.07L404.4 230.31L404.9 230.61L405.4 230.98L405.9 231.4L406.4 231.86L406.9 232.38L407.4 232.93L407.9 233.51L408.4 234.12L408.9 234.75L409.4 235.4L409.9 236.07L410.4 236.73L410.9 237.4L411.4 238.06L411.9 238.72L412.4 239.35L412.9 239.97L413.4 240.56L413.9 241.12L414.4 241.64L414.9 242.11L415.4 242.54L415.9 242.92L416.4 243.23L416.9 243.49L417.4 243.67L417.9 243.77L418.4 243.8L418.9 243.73L419.4 243.57L419.9 243.31L420.4 242.98L420.9 242.58L421.4 242.11L421.9 241.57L422.4 240.98L422.9 240.35L423.4 239.67L423.9 238.96L424.4 238.22L424.9 237.46L425.4 236.69L425.9 235.91L426.4 235.12L426.9 234.35L427.4 233.58L427.9 232.83L428.4 232.11L428.9 231.42L429.4 230.76L429.9 230.16L430.4 229.6L430.9 229.1L431.4 228.67L431.9 228.31L432.4 228.02L432.9 227.83L433.4 227.72L433.9 227.71L434.4 227.85L434.9 228.13L435.4 228.54L435.9 229.07L436.4 229.71L436.9 230.43L437.4 231.24L437.9 232.12L438.4 233.05L438.9 234.02L439.4 235.02L439.9 236.04L440.4 237.06L440.9 238.08L441.4 239.08L441.9 240.04L442.4 240.96L442.9 241.83L443.4 242.62L443.9 243.33L444.4 243.94L444.9 244.45L445.4 244.83L445.9 245.09L446.4 245.2L446.9 245.16L447.4 244.98L447.9 244.68L448.4 244.27L448.9 243.76L449.4 243.16L449.9 242.48L450.4 241.74L450.9 240.94L451.4 240.09L451.9 239.21L452.4 238.31L452.9 237.4L453.4 236.49L453.9 235.59L454.4 234.71L454.9 233.86L455.4 233.06L455.9 232.32L456.4 231.64L456.9 231.04L457.4 230.53L457.9 230.12L458.4 229.82L458.9 229.64L459.4 229.6L459.9 229.66L460.4 229.8L460.9 230.01L461.4 230.28L461.9 230.62L462.4 231.02L462.9 231.47L463.4 231.96L463.9 232.49L464.4 233.06L464.9 233.66L465.4 234.28L465.9 234.92L466.4 235.57L466.9 236.23L467.4 236.9L467.9 237.56L468.4 238.21L468.9 238.85L469.4 239.46L469.9 240.06L470.4 240.62L470.9 241.14L471.4 241.63L471.9 242.07L472.4 242.45L472.9 242.78L473.4 243.04L473.9 243.24L474.4 243.36L474.9 243.4L475.4 243.36L475.9 243.26L476.4 243.09L476.9 242.86L477.4 242.58L477.9 242.25L478.4 241.87L478.9 241.45L479.4 241L479.9 240.52L480.4 240.02L480.9 239.49L481.4 238.95L481.9 238.4L482.4 237.85L482.9 237.3L483.4 236.75L483.9 236.21L484.4 235.68L484.9 235.18L485.4 234.7L485.9 234.25L486.4 233.83L486.9 233.45L487.4 233.12L487.9 232.84L488.4 232.61L488.9 232.44L489.4 232.34L489.9 232.3L490.4 232.33L490.9 232.44L491.4 232.6L491.9 232.81L492.4 233.08L492.9 233.38L493.4 233.73L493.9 234.11L494.4 234.51L494.9 234.94L495.4 235.38L495.9 235.83L496.4 236.29L496.9 236.75L497.4 237.2L497.9 237.63L498.4 238.05L498.9 238.45L499.4 238.81L499.9 239.14L500.4 239.43L500.9 239.68L501.4 239.87L501.9 240.01L502.4 240.09L502.9 240.1L503.4 240.06L503.9 240L504.4 239.89L504.9 239.76L505.4 239.61L505.9 239.42L506.4 239.22L506.9 239L507.4 238.76L507.9 238.5L508.4 238.24L508.9 237.96L509.4 237.68L509.9 237.39L510.4 237.11L510.9 236.82L511.4 236.54L511.9 236.26L512.4 236L512.9 235.74L513.4 235.5L513.9 235.28L514.4 235.08L514.9 234.89L515.4 234.74L515.9 234.61L516.4 234.5L516.9 234.44L517.4 234.4L517.9 234.41L518.4 234.44L518.9 234.51L519.4 234.61L519.9 234.73L520.4 234.88L520.9 235.05L521.4 235.23L521.9 235.43L522.4 235.64L522.9 235.87L523.4 236.1L523.9 236.34L524.4 236.57L524.9 236.81L525.4 237.05L525.9 237.28L526.4 237.5L526.9 237.71L527.4 237.91L527.9 238.09L528.4 238.25L528.9 238.39L529.4 238.51L529.9 238.6L530.4 238.67L530.9 238.7L531.4 238.69L531.9 238.65L532.4 238.58L532.9 238.47L533.4 238.34L533.9 238.19L534.4 238.01L534.9 237.82L535.4 237.61L535.9 237.4L536.4 237.18L536.9 236.96L537.4 236.73L537.9 236.51L538.4 236.3L538.9 236.1L539.4 235.92L539.9 235.75L540.4 235.6L540.9 235.48L541.4 235.39L541.9 235.33L542.4 235.3L542.9 235.31L543.4 235.34L543.9 235.4L544.4 235.49L544.9 235.59L545.4 235.71L545.9 235.84L546.4 235.99L546.9 236.14L547.4 236.31L547.9 236.48L548.4 236.65L548.9 236.82L549.4 236.99L549.9 237.16L550.4 237.32L550.9 237.47L551.4 237.62L551.9 237.74L552.4 237.86L552.9 237.95L553.4 238.02L553.9 238.07L554.4 238.1L554.9 238.1L555.4 238.09L555.9 238.07L556.4 238.04L556.9 238.01L557.4 237.97L557.9 237.91L558.4 237.85L558.9 237.78L559.4 237.7L559.9 237.61L560.4 237.52L560.9 237.41L561.4 237.3L561.9 237.17L562.4 237.04L562.9 236.89L563.4 236.74L563.9 236.58L564.4 236.41L564.9 236.23L565.4 236.04L565.9 235.84L566 235.8" fill="none" stroke="#626262" stroke-width="1.15"/>
<path d="M346.4 255.7L346.9 255.7L347.4 255.7L347.9 255.7L348.4 255.7L348.9 255.7L349.4 255.7L349.9 255.7L350.4 255.7L350.9 255.7L351.4 255.7L351.9 255.7L352.4 255.7L352.9 255.7L353.4 255.7L353.9 255.7L354.4 255.7L354.9 255.7L355.4 255.7L355.9 255.7L356.4 255.7L356.9 255.7L357.4 255.7L357.9 255.7L358.4 255.7L358.9 255.7L359.4 255.7L359.9 255.7L360.4 255.7L360.9 255.7L361.4 255.7L361.9 255.7L362.4 255.7L362.9 255.7L363.4 255.7L363.9 255.7L364.4 255.7L364.9 255.7L365.4 255.7L365.9 255.7L366.4 255.7L366.9 255.72L367.4 255.75L367.9 255.81L368.4 255.88L368.9 255.96L369.4 256.06L369.9 256.15L370.4 256.26L370.9 256.36L371.4 256.47L371.9 256.56L372.4 256.65L372.9 256.74L373.4 256.8L373.9 256.86L374.4 256.89L374.9 256.9L375.4 256.87L375.9 256.78L376.4 256.65L376.9 256.47L377.4 256.27L377.9 256.04L378.4 255.8L378.9 255.55L379.4 255.3L379.9 255.06L380.4 254.84L380.9 254.65L381.4 254.49L381.9 254.38L382.4 254.31L382.9 254.31L383.4 254.37L383.9 254.48L384.4 254.65L384.9 254.86L385.4 255.1L385.9 255.36L386.4 255.64L386.9 255.92L387.4 256.19L387.9 256.45L388.4 256.68L388.9 256.88L389.4 257.04L389.9 257.15L390.4 257.2L390.9 257.18L391.4 257.11L391.9 256.98L392.4 256.81L392.9 256.6L393.4 256.37L393.9 256.11L394.4 255.83L394.9 255.55L395.4 255.25L395.9 254.97L396.4 254.69L396.9 254.43L397.4 254.2L397.9 253.99L398.4 253.82L398.9 253.69L399.4 253.62L399.9 253.6L400.4 253.66L400.9 253.8L401.4 254.01L401.9 254.27L402.4 254.58L402.9 254.93L403.4 255.3L403.9 255.68L404.4 256.07L404.9 256.45L405.4 256.81L405.9 257.15L406.4 257.44L406.9 257.68L407.4 257.86L407.9 257.97L408.4 258L408.9 257.94L409.4 257.81L409.9 257.61L410.4 257.35L410.9 257.05L411.4 256.71L411.9 256.35L412.4 255.96L412.9 255.57L413.4 255.18L413.9 254.81L414.4 254.45L414.9 254.12L415.4 253.84L415.9 253.61L416.4 253.43L416.9 253.33L417.4 253.3L417.9 253.38L418.4 253.56L418.9 253.83L419.4 254.17L419.9 254.57L420.4 255.02L420.9 255.5L421.4 256L421.9 256.5L422.4 256.99L422.9 257.46L423.4 257.89L423.9 258.27L424.4 258.59L424.9 258.82L425.4 258.96L425.9 259L426.4 258.87L426.9 258.6L427.4 258.19L427.9 257.68L428.4 257.1L428.9 256.46L429.4 255.8L429.9 255.14L430.4 254.5L430.9 253.92L431.4 253.41L431.9 253L432.4 252.73L432.9 252.6L433.4 252.65L433.9 252.84L434.4 253.14L434.9 253.55L435.4 254.04L435.9 254.6L436.4 255.19L436.9 255.8L437.4 256.41L437.9 257L438.4 257.56L438.9 258.05L439.4 258.46L439.9 258.76L440.4 258.95L440.9 259L441.4 258.89L441.9 258.65L442.4 258.3L442.9 257.86L443.4 257.34L443.9 256.77L444.4 256.17L444.9 255.55L445.4 254.95L445.9 254.37L446.4 253.84L446.9 253.38L447.4 253.01L447.9 252.75L448.4 252.61L448.9 252.63L449.4 252.83L449.9 253.17L450.4 253.63L450.9 254.18L451.4 254.8L451.9 255.46L452.4 256.14L452.9 256.8L453.4 257.42L453.9 257.97L454.4 258.43L454.9 258.77L455.4 258.97L455.9 258.99L456.4 258.88L456.9 258.66L457.4 258.35L457.9 257.96L458.4 257.5L458.9 257L459.4 256.47L459.9 255.91L460.4 255.35L460.9 254.81L461.4 254.29L461.9 253.82L462.4 253.4L462.9 253.05L463.4 252.8L463.9 252.64L464.4 252.6L464.9 252.73L465.4 253.01L465.9 253.43L466.4 253.95L466.9 254.55L467.4 255.19L467.9 255.87L468.4 256.54L468.9 257.18L469.4 257.76L469.9 258.26L470.4 258.65L470.9 258.91L471.4 259L471.9 258.92L472.4 258.71L472.9 258.38L473.4 257.95L473.9 257.45L474.4 256.89L474.9 256.29L475.4 255.68L475.9 255.07L476.4 254.48L476.9 253.94L477.4 253.47L477.9 253.07L478.4 252.79L478.9 252.63L479.4 252.61L479.9 252.77L480.4 253.09L480.9 253.53L481.4 254.06L481.9 254.67L482.4 255.33L482.9 256L483.4 256.67L483.9 257.3L484.4 257.87L484.9 258.35L485.4 258.72L485.9 258.94L486.4 259L486.9 258.94L487.4 258.82L487.9 258.63L488.4 258.39L488.9 258.1L489.4 257.78L489.9 257.43L490.4 257.06L490.9 256.69L491.4 256.31L491.9 255.94L492.4 255.59L492.9 255.26L493.4 254.96L493.9 254.71L494.4 254.51L494.9 254.38L495.4 254.31L495.9 254.31L496.4 254.39L496.9 254.51L497.4 254.69L497.9 254.91L498.4 255.15L498.9 255.42L499.4 255.69L499.9 255.97L500.4 256.24L500.9 256.5L501.4 256.73L501.9 256.92L502.4 257.07L502.9 257.17L503.4 257.2L503.9 257.16L504.4 257.05L504.9 256.89L505.4 256.68L505.9 256.43L506.4 256.16L506.9 255.88L507.4 255.59L507.9 255.32L508.4 255.07L508.9 254.85L509.4 254.67L509.9 254.55L510.4 254.5L510.9 254.52L511.4 254.59L511.9 254.7L512.4 254.86L512.9 255.04L513.4 255.25L513.9 255.47L514.4 255.7L514.9 255.93L515.4 256.15L515.9 256.36L516.4 256.54L516.9 256.7L517.4 256.81L517.9 256.88L518.4 256.9L518.9 256.86L519.4 256.76L519.9 256.62L520.4 256.44L520.9 256.23L521.4 256.01L521.9 255.78L522.4 255.55L522.9 255.33L523.4 255.13L523.9 254.95L524.4 254.82L524.9 254.73L525.4 254.7L525.9 254.72L526.4 254.78L526.9 254.88L527.4 255L527.9 255.15L528.4 255.31L528.9 255.49L529.4 255.67L529.9 255.85L530.4 256.02L530.9 256.18L531.4 256.32L531.9 256.44L532.4 256.53L532.9 256.59L533.4 256.6L533.9 256.57L534.4 256.51L534.9 256.42L535.4 256.31L535.9 256.17L536.4 256.03L536.9 255.89L537.4 255.74L537.9 255.6L538.4 255.47L538.9 255.36L539.4 255.28L539.9 255.22L540.4 255.2L540.9 255.21L541.4 255.25L541.9 255.31L542.4 255.39L542.9 255.48L543.4 255.58L543.9 255.69L544.4 255.79L544.9 255.9L545.4 256L545.9 256.09L546.4 256.17L546.9 256.24L547.4 256.28L547.9 256.3L548.4 256.29L548.9 256.27L549.4 256.24L549.9 256.19L550.4 256.13L550.9 256.06L551.4 255.99L551.9 255.91L552.4 255.84L552.9 255.77L553.4 255.7L553.9 255.64L554.4 255.58L554.9 255.54L555.4 255.51L555.9 255.5L556.4 255.5L556.9 255.5L557.4 255.5L557.9 255.5L558.4 255.5L558.9 255.5L559.4 255.51L559.9 255.51L560.4 255.52L560.9 255.52L561.4 255.53L561.9 255.54L562.4 255.55L562.9 255.57L563.4 255.58L563.9 255.6L564.4 255.62L564.9 255.64L565.4 255.67L565.9 255.69L566 255.7" fill="none" stroke="#626262" stroke-width="1.15"/>
<path d="M346.4 292L346.9 293.96L347.4 295.8L347.9 297.51L348.4 299.09L348.9 300.55L349.4 301.89L349.9 303.11L350.4 304.21L350.9 305.19L351.4 306.06L351.9 306.81L352.4 307.45L352.9 307.97L353.4 308.39L353.9 308.7L354.4 308.9L354.9 308.99L355.4 308.96L355.9 308.71L356.4 308.26L356.9 307.63L357.4 306.85L357.9 305.94L358.4 304.92L358.9 303.81L359.4 302.64L359.9 301.44L360.4 300.22L360.9 299.01L361.4 297.84L361.9 296.72L362.4 295.6L362.9 294.36L363.4 293.01L363.9 291.59L364.4 290.12L364.9 288.64L365.4 287.17L365.9 285.74L366.4 284.38L366.9 283.12L367.4 281.98L367.9 281L368.4 280.19L368.9 279.42L369.4 278.67L369.9 277.94L370.4 277.24L370.9 276.57L371.4 275.95L371.9 275.38L372.4 274.87L372.9 274.42L373.4 274.05L373.9 273.75L374.4 273.53L374.9 273.38L375.4 273.24L375.9 273.11L376.4 272.99L376.9 272.88L377.4 272.79L377.9 272.71L378.4 272.65L378.9 272.62L379.4 272.6L379.9 272.67L380.4 272.94L380.9 273.38L381.4 273.93L381.9 274.56L382.4 275.22L382.9 275.87L383.4 276.57L383.9 277.47L384.4 278.53L384.9 279.71L385.4 280.99L385.9 282.31L386.4 283.65L386.9 284.95L387.4 286.19L387.9 287.33L388.4 288.32L388.9 289.13L389.4 289.72L389.9 290.04L390.4 290.08L390.9 289.89L391.4 289.51L391.9 288.96L392.4 288.26L392.9 287.44L393.4 286.52L393.9 285.52L394.4 284.47L394.9 283.39L395.4 282.29L395.9 281.21L396.4 280.17L396.9 279.19L397.4 278.29L397.9 277.49L398.4 276.82L398.9 276.3L399.4 275.95L399.9 275.8L400.4 275.88L400.9 276.17L401.4 276.67L401.9 277.34L402.4 278.16L402.9 279.12L403.4 280.18L403.9 281.33L404.4 282.53L404.9 283.77L405.4 285.01L405.9 286.25L406.4 287.45L406.9 288.59L407.4 289.65L407.9 290.6L408.4 291.43L408.9 292.09L409.4 292.59L409.9 293.02L410.4 293.45L410.9 293.87L411.4 294.28L411.9 294.68L412.4 295.06L412.9 295.43L413.4 295.78L413.9 296.1L414.4 296.4L414.9 296.66L415.4 296.9L415.9 297.1L416.4 297.26L416.9 297.39L417.4 297.47L417.9 297.5L418.4 297.48L418.9 297.39L419.4 297.23L419.9 297.01L420.4 296.74L420.9 296.42L421.4 296.04L421.9 295.63L422.4 295.17L422.9 294.68L423.4 294.16L423.9 293.61L424.4 292.93L424.9 291.89L425.4 290.56L425.9 289.01L426.4 287.29L426.9 285.46L427.4 283.59L427.9 281.75L428.4 279.99L428.9 278.34L429.4 276.58L429.9 274.74L430.4 272.95L430.9 271.34L431.4 270.02L431.9 268.95L432.4 267.89L432.9 266.95L433.4 266.23L433.9 265.84L434.4 265.86L434.9 266.18L435.4 266.73L435.9 267.42L436.4 268.19L436.9 268.96L437.4 269.9L437.9 271.04L438.4 272.25L438.9 273.43L439.4 274.71L439.9 276.1L440.4 277.57L440.9 279.06L441.4 280.5L441.9 281.85L442.4 283.06L442.9 284.05L443.4 284.79L443.9 285.26L444.4 285.66L444.9 286L445.4 286.3L445.9 286.57L446.4 286.81L446.9 287.03L447.4 287.25L447.9 287.47L448.4 287.7L448.9 287.95L449.4 288.22L449.9 288.53L450.4 288.86L450.9 289.2L451.4 289.53L451.9 289.86L452.4 290.16L452.9 290.44L453.4 290.67L453.9 290.85L454.4 290.96L454.9 291L455.4 290.92L455.9 290.7L456.4 290.35L456.9 289.9L457.4 289.37L457.9 288.77L458.4 288.12L458.9 287.45L459.4 286.78L459.9 286.11L460.4 285.48L460.9 284.91L461.4 284.41L461.9 283.99L462.4 283.7L462.9 283.53L463.4 283.52L463.9 283.68L464.4 284.02L464.9 284.5L465.4 285.11L465.9 285.81L466.4 286.6L466.9 287.44L467.4 288.32L467.9 289.21L468.4 290.09L468.9 290.94L469.4 291.74L469.9 292.46L470.4 293.09L470.9 293.59L471.4 293.96L471.9 294.17L472.4 294.18L472.9 294.01L473.4 293.67L473.9 293.17L474.4 292.54L474.9 291.79L475.4 290.95L475.9 290.04L476.4 289.07L476.9 288.07L477.4 287.05L477.9 286.04L478.4 285.05L478.9 284.11L479.4 283.23L479.9 282.44L480.4 281.75L480.9 281.19L481.4 280.74L481.9 280.3L482.4 279.86L482.9 279.43L483.4 279.01L483.9 278.61L484.4 278.23L484.9 277.88L485.4 277.55L485.9 277.26L486.4 277.01L486.9 276.8L487.4 276.64L487.9 276.54L488.4 276.48L488.9 276.44L489.4 276.4L489.9 276.37L490.4 276.34L490.9 276.32L491.4 276.31L491.9 276.3L492.4 276.38L492.9 276.7L493.4 277.22L493.9 277.91L494.4 278.73L494.9 279.66L495.4 280.65L495.9 281.67L496.4 282.68L496.9 283.66L497.4 284.56L497.9 285.36L498.4 286.09L498.9 286.88L499.4 287.72L499.9 288.58L500.4 289.43L500.9 290.25L501.4 291.02L501.9 291.7L502.4 292.27L502.9 292.72L503.4 293L503.9 293.1L504.4 293.03L504.9 292.83L505.4 292.51L505.9 292.1L506.4 291.6L506.9 291.04L507.4 290.43L507.9 289.78L508.4 289.11L508.9 288.45L509.4 287.8L509.9 287.18L510.4 286.6L510.9 286.09L511.4 285.67L511.9 285.32L512.4 285L512.9 284.68L513.4 284.29L513.9 283.8L514.4 283.15L514.9 281.54L515.4 279.58L515.9 280.73L516.4 282.9L516.9 282.96L517.4 282.8L517.9 282.58L518.4 282.32L518.9 282.08L519.4 281.89L519.9 281.8L520.4 281.81L520.9 281.86L521.4 281.94L521.9 282.04L522.4 282.17L522.9 282.31L523.4 282.47L523.9 282.63L524.4 282.8L524.9 282.97L525.4 283.16L525.9 283.41L526.4 283.72L526.9 284.07L527.4 284.44L527.9 284.82L528.4 285.2L528.9 285.55L529.4 285.87L529.9 286.14L530.4 286.34L530.9 286.47L531.4 286.5L531.9 286.43L532.4 286.29L532.9 286.07L533.4 285.8L533.9 285.47L534.4 285.1L534.9 284.71L535.4 284.29L535.9 283.87L536.4 283.46L536.9 283.05L537.4 282.67L537.9 282.33L538.4 282.03L538.9 281.79L539.4 281.61L539.9 281.52L540.4 281.5L540.9 281.56L541.4 281.66L541.9 281.81L542.4 282.01L542.9 282.25L543.4 282.52L543.9 282.83L544.4 283.16L544.9 283.52L545.4 283.9L545.9 284.3L546.4 284.71L546.9 285.12L547.4 285.54L547.9 285.96L548.4 286.37L548.9 286.78L549.4 287.17L549.9 287.55L550.4 287.9L550.9 288.23L551.4 288.54L551.9 288.8L552.4 289.03L552.9 289.22L553.4 289.37L553.9 289.46L554.4 289.5L554.9 289.49L555.4 289.45L555.9 289.37L556.4 289.27L556.9 289.13L557.4 288.96L557.9 288.77L558.4 288.54L558.9 288.29L559.4 288L559.9 287.7L560.4 287.36L560.9 287L561.4 286.61L561.9 286.2L562.4 285.77L562.9 285.31L563.4 284.83L563.9 284.33L564.4 283.81L564.9 283.27L565.4 282.7L565.9 282.12L566 282" fill="none" stroke="#d85a5a" stroke-width="1.0"/>
<path d="M346.4 291.9L346.9 293.8L347.4 295.58L347.9 297.23L348.4 298.76L348.9 300.17L349.4 301.47L349.9 302.64L350.4 303.7L350.9 304.65L351.4 305.48L351.9 306.2L352.4 306.81L352.9 307.32L353.4 307.72L353.9 308.01L354.4 308.2L354.9 308.29L355.4 308.26L355.9 308.02L356.4 307.58L356.9 306.97L357.4 306.21L357.9 305.32L358.4 304.32L358.9 303.24L359.4 302.09L359.9 300.91L360.4 299.71L360.9 298.51L361.4 297.34L361.9 296.22L362.4 295.09L362.9 293.82L363.4 292.43L363.9 290.96L364.4 289.44L364.9 287.89L365.4 286.36L365.9 284.86L366.4 283.44L366.9 282.12L367.4 280.94L367.9 279.92L368.4 279.08L368.9 278.27L369.4 277.46L369.9 276.66L370.4 275.89L370.9 275.15L371.4 274.46L371.9 273.83L372.4 273.26L372.9 272.78L373.4 272.39L373.9 272.11L374.4 271.94L374.9 271.9L375.4 271.95L375.9 272.06L376.4 272.23L376.9 272.46L377.4 272.73L377.9 273.04L378.4 273.39L378.9 273.77L379.4 274.18L379.9 274.61L380.4 275.05L380.9 275.5L381.4 275.95L381.9 276.4L382.4 276.93L382.9 277.63L383.4 278.45L383.9 279.37L384.4 280.37L384.9 281.41L385.4 282.47L385.9 283.52L386.4 284.54L386.9 285.49L387.4 286.34L387.9 287.08L388.4 287.66L388.9 288.07L389.4 288.28L389.9 288.28L390.4 288.13L390.9 287.87L391.4 287.5L391.9 287.04L392.4 286.5L392.9 285.89L393.4 285.24L393.9 284.55L394.4 283.83L394.9 283.1L395.4 282.38L395.9 281.67L396.4 280.99L396.9 280.36L397.4 279.78L397.9 279.27L398.4 278.84L398.9 278.52L399.4 278.3L399.9 278.2L400.4 278.26L400.9 278.5L401.4 278.89L401.9 279.43L402.4 280.09L402.9 280.85L403.4 281.71L403.9 282.63L404.4 283.6L404.9 284.6L405.4 285.61L405.9 286.62L406.4 287.6L406.9 288.55L407.4 289.43L407.9 290.23L408.4 290.94L408.9 291.52L409.4 291.98L409.9 292.4L410.4 292.81L410.9 293.22L411.4 293.63L411.9 294.02L412.4 294.41L412.9 294.78L413.4 295.13L413.9 295.46L414.4 295.76L414.9 296.03L415.4 296.28L415.9 296.48L416.4 296.65L416.9 296.78L417.4 296.86L417.9 296.9L418.4 296.88L418.9 296.79L419.4 296.65L419.9 296.44L420.4 296.18L420.9 295.87L421.4 295.52L421.9 295.13L422.4 294.69L422.9 294.23L423.4 293.73L423.9 293.21L424.4 292.55L424.9 291.54L425.4 290.24L425.9 288.71L426.4 287.01L426.9 285.21L427.4 283.37L427.9 281.54L428.4 279.79L428.9 278.14L429.4 276.37L429.9 274.51L430.4 272.69L430.9 271.05L431.4 269.72L431.9 268.65L432.4 267.59L432.9 266.65L433.4 265.93L433.9 265.54L434.4 265.56L434.9 265.88L435.4 266.43L435.9 267.12L436.4 267.89L436.9 268.66L437.4 269.6L437.9 270.73L438.4 271.95L438.9 273.14L439.4 274.41L439.9 275.83L440.4 277.31L440.9 278.81L441.4 280.28L441.9 281.64L442.4 282.86L442.9 283.86L443.4 284.59L443.9 285.06L444.4 285.44L444.9 285.77L445.4 286.07L445.9 286.32L446.4 286.56L446.9 286.78L447.4 286.99L447.9 287.2L448.4 287.41L448.9 287.65L449.4 287.91L449.9 288.2L450.4 288.51L450.9 288.82L451.4 289.14L451.9 289.44L452.4 289.73L452.9 289.98L453.4 290.19L453.9 290.36L454.4 290.46L454.9 290.5L455.4 290.43L455.9 290.23L456.4 289.92L456.9 289.52L457.4 289.04L457.9 288.51L458.4 287.93L458.9 287.33L459.4 286.73L459.9 286.14L460.4 285.57L460.9 285.06L461.4 284.61L461.9 284.24L462.4 283.97L462.9 283.83L463.4 283.81L463.9 283.97L464.4 284.28L464.9 284.73L465.4 285.29L465.9 285.94L466.4 286.66L466.9 287.44L467.4 288.26L467.9 289.08L468.4 289.9L468.9 290.68L469.4 291.42L469.9 292.09L470.4 292.67L470.9 293.14L471.4 293.48L471.9 293.67L472.4 293.69L472.9 293.52L473.4 293.2L473.9 292.72L474.4 292.12L474.9 291.41L475.4 290.6L475.9 289.72L476.4 288.79L476.9 287.82L477.4 286.82L477.9 285.83L478.4 284.85L478.9 283.9L479.4 283.01L479.9 282.18L480.4 281.45L480.9 280.82L481.4 280.29L481.9 279.75L482.4 279.22L482.9 278.7L483.4 278.2L483.9 277.74L484.4 277.33L484.9 276.99L485.4 276.71L485.9 276.53L486.4 276.41L486.9 276.29L487.4 276.19L487.9 276.1L488.4 276.01L488.9 275.94L489.4 275.89L489.9 275.84L490.4 275.81L490.9 275.8L491.4 275.86L491.9 276.1L492.4 276.48L492.9 277.01L493.4 277.64L493.9 278.37L494.4 279.16L494.9 279.99L495.4 280.85L495.9 281.7L496.4 282.54L496.9 283.33L497.4 284.05L497.9 284.69L498.4 285.27L498.9 285.89L499.4 286.55L499.9 287.22L500.4 287.88L500.9 288.52L501.4 289.1L501.9 289.63L502.4 290.07L502.9 290.41L503.4 290.62L503.9 290.7L504.4 290.64L504.9 290.49L505.4 290.24L505.9 289.93L506.4 289.55L506.9 289.12L507.4 288.67L507.9 288.19L508.4 287.72L508.9 287.25L509.4 286.8L509.9 286.4L510.4 286.04L510.9 285.75L511.4 285.54L511.9 285.42L512.4 285.4L512.9 285.45L513.4 285.54L513.9 285.66L514.4 285.8L514.9 285.95L515.4 286.1L515.9 286.24L516.4 286.36L516.9 286.45L517.4 286.5L517.9 286.48L518.4 286.4L518.9 286.24L519.4 286.04L519.9 285.78L520.4 285.5L520.9 285.2L521.4 284.9L521.9 284.6L522.4 284.32L522.9 284.06L523.4 283.86L523.9 283.7L524.4 283.62L524.9 283.6L525.4 283.66L525.9 283.76L526.4 283.9L526.9 284.07L527.4 284.26L527.9 284.46L528.4 284.66L528.9 284.86L529.4 285.04L529.9 285.19L530.4 285.31L530.9 285.38L531.4 285.4L531.9 285.34L532.4 285.2L532.9 284.99L533.4 284.72L533.9 284.41L534.4 284.06L534.9 283.68L535.4 283.28L535.9 282.88L536.4 282.48L536.9 282.09L537.4 281.73L537.9 281.4L538.4 281.11L538.9 280.88L539.4 280.71L539.9 280.62L540.4 280.6L540.9 280.66L541.4 280.76L541.9 280.91L542.4 281.11L542.9 281.35L543.4 281.62L543.9 281.93L544.4 282.26L544.9 282.62L545.4 283L545.9 283.4L546.4 283.81L546.9 284.22L547.4 284.64L547.9 285.06L548.4 285.47L548.9 285.88L549.4 286.27L549.9 286.65L550.4 287L550.9 287.33L551.4 287.64L551.9 287.9L552.4 288.13L552.9 288.32L553.4 288.47L553.9 288.56L554.4 288.6L554.9 288.59L555.4 288.57L555.9 288.53L556.4 288.47L556.9 288.39L557.4 288.29L557.9 288.17L558.4 288.03L558.9 287.88L559.4 287.7L559.9 287.51L560.4 287.3L560.9 287.06L561.4 286.81L561.9 286.54L562.4 286.25L562.9 285.95L563.4 285.62L563.9 285.27L564.4 284.9L564.9 284.52L565.4 284.11L565.9 283.69L566 283.6" fill="none" stroke="#3a3030" stroke-width="1.0"/>
<text x="570" y="215.6" font-size="8.6" fill="#1e1e1e" stroke="#1e1e1e">γ</text>
<text x="574.6" y="212.6" font-size="6.6" fill="#1e1e1e" stroke="#1e1e1e">(2)</text>
<text x="574.4" y="220.1" font-size="6.6" fill="#1e1e1e" stroke="#1e1e1e">1</text>
<text x="585.4" y="216" font-size="8.35" fill="#1e1e1e" stroke="#1e1e1e">Fe-C</text>
<text x="570" y="236.6" font-size="8.6" fill="#1e1e1e" stroke="#1e1e1e">γ</text>
<text x="574.6" y="233.6" font-size="6.6" fill="#1e1e1e" stroke="#1e1e1e">(3)</text>
<text x="574.4" y="241.1" font-size="6.6" fill="#1e1e1e" stroke="#1e1e1e">1</text>
<text x="585.4" y="237" font-size="8.35" fill="#1e1e1e" stroke="#1e1e1e">Fe-C-N</text>
<text x="570" y="256.5" font-size="8.6" fill="#1e1e1e" stroke="#1e1e1e">γ</text>
<text x="574.6" y="253.5" font-size="6.6" fill="#1e1e1e" stroke="#1e1e1e">(4)</text>
<text x="574.4" y="261" font-size="6.6" fill="#1e1e1e" stroke="#1e1e1e">1</text>
<text x="585.4" y="256.9" font-size="8.35" fill="#1e1e1e" stroke="#1e1e1e">Fe-C-N-Mn</text>
<text x="8.6" y="363.8" font-size="16" text-anchor="middle" font-weight="normal" fill="#000" stroke="#000" >(c)</text>
<rect x="38.3" y="357.3" width="220.7" height="118.9" fill="none" stroke="#a9a9a9" stroke-width="1"/>
<path d="M38.3 476.2v-2.4M38.3 357.3v2.4M75.08 476.2v-2.4M75.08 357.3v2.4M111.87 476.2v-2.4M111.87 357.3v2.4M148.65 476.2v-2.4M148.65 357.3v2.4M185.43 476.2v-2.4M185.43 357.3v2.4M222.22 476.2v-2.4M222.22 357.3v2.4M259 476.2v-2.4M259 357.3v2.4M38.3 476.2h2.4M259 476.2h-2.4M38.3 456.38h2.4M259 456.38h-2.4M38.3 436.57h2.4M259 436.57h-2.4M38.3 416.75h2.4M259 416.75h-2.4M38.3 396.93h2.4M259 396.93h-2.4M38.3 377.12h2.4M259 377.12h-2.4M38.3 357.3h2.4M259 357.3h-2.4" stroke="#8a8a8a" stroke-width="0.8" fill="none"/>
<text x="38.3" y="488.2" font-size="8" text-anchor="middle" font-weight="normal" fill="#1e1e1e" stroke="#1e1e1e" >0</text>
<text x="75.08" y="488.2" font-size="8" text-anchor="middle" font-weight="normal" fill="#1e1e1e" stroke="#1e1e1e" >1</text>
<text x="111.87" y="488.2" font-size="8" text-anchor="middle" font-weight="normal" fill="#1e1e1e" stroke="#1e1e1e" >2</text>
<text x="148.65" y="488.2" font-size="8" text-anchor="middle" font-weight="normal" fill="#1e1e1e" stroke="#1e1e1e" >3</text>
<text x="185.43" y="488.2" font-size="8" text-anchor="middle" font-weight="normal" fill="#1e1e1e" stroke="#1e1e1e" >4</text>
<text x="222.22" y="488.2" font-size="8" text-anchor="middle" font-weight="normal" fill="#1e1e1e" stroke="#1e1e1e" >5</text>
<text x="259" y="488.2" font-size="8" text-anchor="middle" font-weight="normal" fill="#1e1e1e" stroke="#1e1e1e" >6</text>
<text x="35.2" y="479.4" font-size="8" text-anchor="end" font-weight="normal" fill="#1e1e1e" stroke="#1e1e1e" >0</text>
<text x="35.2" y="459.58" font-size="8" text-anchor="end" font-weight="normal" fill="#1e1e1e" stroke="#1e1e1e" >0.2</text>
<text x="35.2" y="439.77" font-size="8" text-anchor="end" font-weight="normal" fill="#1e1e1e" stroke="#1e1e1e" >0.4</text>
<text x="35.2" y="419.95" font-size="8" text-anchor="end" font-weight="normal" fill="#1e1e1e" stroke="#1e1e1e" >0.6</text>
<text x="35.2" y="400.13" font-size="8" text-anchor="end" font-weight="normal" fill="#1e1e1e" stroke="#1e1e1e" >0.8</text>
<text x="35.2" y="380.32" font-size="8" text-anchor="end" font-weight="normal" fill="#1e1e1e" stroke="#1e1e1e" >1</text>
<text x="35.2" y="360.5" font-size="8" text-anchor="end" font-weight="normal" fill="#1e1e1e" stroke="#1e1e1e" >1.2</text>
<text x="148.6" y="353" font-size="9" text-anchor="middle" font-weight="bold" fill="#111" stroke="#111" >Mn K-edge</text>
<text x="16.8" y="415.4" font-size="9.2" text-anchor="middle" font-weight="normal" fill="#1e1e1e" stroke="#1e1e1e" transform="rotate(-90 16.8 415.4)">FT magnitude / a.u.</text>
<text x="148.8" y="499.4" font-size="9.0" text-anchor="middle" font-weight="normal" fill="#1e1e1e" stroke="#1e1e1e" >Distance (R) /Å</text>
<path d="M38.3 455.39L39.4 456.55L40.51 457.6L41.61 458.56L42.71 459.41L43.82 460.16L44.92 460.8L46.02 461.33L47.13 461.75L48.23 462.06L49.33 462.25L50.44 462.33L51.54 462.26L52.65 462.02L53.75 461.64L54.85 461.11L55.96 460.47L57.06 459.73L58.16 458.9L59.27 458.01L60.37 457.08L61.47 456.11L62.58 455.13L63.68 454.15L64.78 453.2L65.89 452.29L66.99 451.43L68.09 450.62L69.2 449.82L70.3 449.04L71.41 448.24L72.51 447.44L73.61 446.61L74.72 445.75L75.82 444.84L76.92 443.89L78.03 442.87L79.13 441.78L80.23 440.61L81.34 439.34L82.44 437.95L83.54 436.17L84.65 433.45L85.75 428.38L86.85 423.34L87.96 418.21L89.06 413.1L90.16 408.2L91.27 403.29L92.37 398.47L93.47 393.97L94.58 390L95.68 386.13L96.79 382.16L97.89 378.63L98.99 376.1L100.1 375.13L101.2 376.09L102.3 378.64L103.41 382.3L104.51 386.58L105.61 390.99L106.72 396.21L107.82 402.7L108.92 409.66L110.03 417L111.13 424.85L112.23 431.91L113.34 439.35L114.44 446.97L115.54 453.88L116.65 459.17L117.75 461.93L118.86 461.88L119.96 460.81L121.06 459.36L122.17 457.29L123.27 454.44L124.37 451.43L125.48 448.34L126.58 444.96L127.68 441.45L128.79 437.94L129.89 434.58L130.99 431.54L132.1 428.84L133.2 426.23L134.3 423.74L135.41 421.45L136.51 419.43L137.61 417.74L138.72 416.17L139.82 414.77L140.93 414.01L142.03 414.28L143.13 415.47L144.24 417.32L145.34 419.6L146.44 422.06L147.55 424.53L148.65 427.56L149.75 431.1L150.86 434.87L151.96 438.55L153.06 442.3L154.17 446.26L155.27 450.08L156.37 453.44L157.48 456.29L158.58 459.21L159.69 461.98L160.79 464.29L161.89 465.82L163 466.29L164.1 465.96L165.2 465.29L166.31 464.48L167.41 463.76L168.51 463.35L169.62 463.51L170.72 464.36L171.82 465.53L172.93 466.69L174.03 468.28L175.13 470.12L176.24 471.83L177.34 472.97L178.44 473.18L179.55 472.52L180.65 471.3L181.75 469.78L182.86 468.21L183.96 466.84L185.07 465.95L186.17 465.64L187.27 465.47L188.38 465.11L189.48 463.76L190.58 461.51L191.69 458.68L192.79 455.63L193.89 452.69L195 449.86L196.1 446.8L197.2 443.56L198.31 440.22L199.41 436.84L200.51 433.45L201.62 429.88L202.72 426.19L203.82 422.51L204.93 418.98L206.03 415.76L207.14 412.43L208.24 408.89L209.34 405.72L210.45 403.53L211.55 402.9L212.65 403.67L213.76 405.38L214.86 407.71L215.96 410.37L217.07 413.05L218.17 416.22L219.27 420.06L220.38 424.27L221.48 428.53L222.58 432.71L223.69 437.11L224.79 441.58L225.89 445.95L227 450.15L228.1 454.71L229.21 459.21L230.31 462.96L231.41 465.3L232.52 466.63L233.62 467.68L234.72 468.23L235.83 467.96L236.93 466.64L238.03 464.95L239.14 463.63L240.24 463.36L241.34 463.85L242.45 464.71L243.55 465.69L244.65 466.58L245.76 467.61L246.86 468.8L247.96 470.07L249.07 471.31L250.17 472.44L251.28 473.37L252.38 473.99L253.48 474.22L254.59 474.1L255.69 473.74L256.79 473.14L257.9 472.31L259 471.25" fill="none" stroke="#e04848" stroke-width="0.6" stroke-dasharray="2 1 0.6 1"/>
<g fill="none" stroke="#e04848" stroke-width="0.72"><circle cx="38.3" cy="455.39" r="1.15"/><circle cx="39.4" cy="456.55" r="1.15"/><circle cx="40.51" cy="457.6" r="1.15"/><circle cx="41.61" cy="458.56" r="1.15"/><circle cx="42.71" cy="459.41" r="1.15"/><circle cx="43.82" cy="460.16" r="1.15"/><circle cx="44.92" cy="460.8" r="1.15"/><circle cx="46.02" cy="461.33" r="1.15"/><circle cx="47.13" cy="461.75" r="1.15"/><circle cx="48.23" cy="462.06" r="1.15"/><circle cx="49.33" cy="462.25" r="1.15"/><circle cx="50.44" cy="462.33" r="1.15"/><circle cx="51.54" cy="462.26" r="1.15"/><circle cx="52.65" cy="462.02" r="1.15"/><circle cx="53.75" cy="461.64" r="1.15"/><circle cx="54.85" cy="461.11" r="1.15"/><circle cx="55.96" cy="460.47" r="1.15"/><circle cx="57.06" cy="459.73" r="1.15"/><circle cx="58.16" cy="458.9" r="1.15"/><circle cx="59.27" cy="458.01" r="1.15"/><circle cx="60.37" cy="457.08" r="1.15"/><circle cx="61.47" cy="456.11" r="1.15"/><circle cx="62.58" cy="455.13" r="1.15"/><circle cx="63.68" cy="454.15" r="1.15"/><circle cx="64.78" cy="453.2" r="1.15"/><circle cx="65.89" cy="452.29" r="1.15"/><circle cx="66.99" cy="451.43" r="1.15"/><circle cx="68.09" cy="450.62" r="1.15"/><circle cx="69.2" cy="449.82" r="1.15"/><circle cx="70.3" cy="449.04" r="1.15"/><circle cx="71.41" cy="448.24" r="1.15"/><circle cx="72.51" cy="447.44" r="1.15"/><circle cx="73.61" cy="446.61" r="1.15"/><circle cx="74.72" cy="445.75" r="1.15"/><circle cx="75.82" cy="444.84" r="1.15"/><circle cx="76.92" cy="443.89" r="1.15"/><circle cx="78.03" cy="442.87" r="1.15"/><circle cx="79.13" cy="441.78" r="1.15"/><circle cx="80.23" cy="440.61" r="1.15"/><circle cx="81.34" cy="439.34" r="1.15"/><circle cx="82.44" cy="437.95" r="1.15"/><circle cx="83.54" cy="436.17" r="1.15"/><circle cx="84.65" cy="433.45" r="1.15"/><circle cx="85.75" cy="428.38" r="1.15"/><circle cx="86.85" cy="423.34" r="1.15"/><circle cx="87.96" cy="418.21" r="1.15"/><circle cx="89.06" cy="413.1" r="1.15"/><circle cx="90.16" cy="408.2" r="1.15"/><circle cx="91.27" cy="403.29" r="1.15"/><circle cx="92.37" cy="398.47" r="1.15"/><circle cx="93.47" cy="393.97" r="1.15"/><circle cx="94.58" cy="390" r="1.15"/><circle cx="95.68" cy="386.13" r="1.15"/><circle cx="96.79" cy="382.16" r="1.15"/><circle cx="97.89" cy="378.63" r="1.15"/><circle cx="98.99" cy="376.1" r="1.15"/><circle cx="100.1" cy="375.13" r="1.15"/><circle cx="101.2" cy="376.09" r="1.15"/><circle cx="102.3" cy="378.64" r="1.15"/><circle cx="103.41" cy="382.3" r="1.15"/><circle cx="104.51" cy="386.58" r="1.15"/><circle cx="105.61" cy="390.99" r="1.15"/><circle cx="106.72" cy="396.21" r="1.15"/><circle cx="107.82" cy="402.7" r="1.15"/><circle cx="108.92" cy="409.66" r="1.15"/><circle cx="110.03" cy="417" r="1.15"/><circle cx="111.13" cy="424.85" r="1.15"/><circle cx="112.23" cy="431.91" r="1.15"/><circle cx="113.34" cy="439.35" r="1.15"/><circle cx="114.44" cy="446.97" r="1.15"/><circle cx="115.54" cy="453.88" r="1.15"/><circle cx="116.65" cy="459.17" r="1.15"/><circle cx="117.75" cy="461.93" r="1.15"/><circle cx="118.86" cy="461.88" r="1.15"/><circle cx="119.96" cy="460.81" r="1.15"/><circle cx="121.06" cy="459.36" r="1.15"/><circle cx="122.17" cy="457.29" r="1.15"/><circle cx="123.27" cy="454.44" r="1.15"/><circle cx="124.37" cy="451.43" r="1.15"/><circle cx="125.48" cy="448.34" r="1.15"/><circle cx="126.58" cy="444.96" r="1.15"/><circle cx="127.68" cy="441.45" r="1.15"/><circle cx="128.79" cy="437.94" r="1.15"/><circle cx="129.89" cy="434.58" r="1.15"/><circle cx="130.99" cy="431.54" r="1.15"/><circle cx="132.1" cy="428.84" r="1.15"/><circle cx="133.2" cy="426.23" r="1.15"/><circle cx="134.3" cy="423.74" r="1.15"/><circle cx="135.41" cy="421.45" r="1.15"/><circle cx="136.51" cy="419.43" r="1.15"/><circle cx="137.61" cy="417.74" r="1.15"/><circle cx="138.72" cy="416.17" r="1.15"/><circle cx="139.82" cy="414.77" r="1.15"/><circle cx="140.93" cy="414.01" r="1.15"/><circle cx="142.03" cy="414.28" r="1.15"/><circle cx="143.13" cy="415.47" r="1.15"/><circle cx="144.24" cy="417.32" r="1.15"/><circle cx="145.34" cy="419.6" r="1.15"/><circle cx="146.44" cy="422.06" r="1.15"/><circle cx="147.55" cy="424.53" r="1.15"/><circle cx="148.65" cy="427.56" r="1.15"/><circle cx="149.75" cy="431.1" r="1.15"/><circle cx="150.86" cy="434.87" r="1.15"/><circle cx="151.96" cy="438.55" r="1.15"/><circle cx="153.06" cy="442.3" r="1.15"/><circle cx="154.17" cy="446.26" r="1.15"/><circle cx="155.27" cy="450.08" r="1.15"/><circle cx="156.37" cy="453.44" r="1.15"/><circle cx="157.48" cy="456.29" r="1.15"/><circle cx="158.58" cy="459.21" r="1.15"/><circle cx="159.69" cy="461.98" r="1.15"/><circle cx="160.79" cy="464.29" r="1.15"/><circle cx="161.89" cy="465.82" r="1.15"/><circle cx="163" cy="466.29" r="1.15"/><circle cx="164.1" cy="465.96" r="1.15"/><circle cx="165.2" cy="465.29" r="1.15"/><circle cx="166.31" cy="464.48" r="1.15"/><circle cx="167.41" cy="463.76" r="1.15"/><circle cx="168.51" cy="463.35" r="1.15"/><circle cx="169.62" cy="463.51" r="1.15"/><circle cx="170.72" cy="464.36" r="1.15"/><circle cx="171.82" cy="465.53" r="1.15"/><circle cx="172.93" cy="466.69" r="1.15"/><circle cx="174.03" cy="468.28" r="1.15"/><circle cx="175.13" cy="470.12" r="1.15"/><circle cx="176.24" cy="471.83" r="1.15"/><circle cx="177.34" cy="472.97" r="1.15"/><circle cx="178.44" cy="473.18" r="1.15"/><circle cx="179.55" cy="472.52" r="1.15"/><circle cx="180.65" cy="471.3" r="1.15"/><circle cx="181.75" cy="469.78" r="1.15"/><circle cx="182.86" cy="468.21" r="1.15"/><circle cx="183.96" cy="466.84" r="1.15"/><circle cx="185.07" cy="465.95" r="1.15"/><circle cx="186.17" cy="465.64" r="1.15"/><circle cx="187.27" cy="465.47" r="1.15"/><circle cx="188.38" cy="465.11" r="1.15"/><circle cx="189.48" cy="463.76" r="1.15"/><circle cx="190.58" cy="461.51" r="1.15"/><circle cx="191.69" cy="458.68" r="1.15"/><circle cx="192.79" cy="455.63" r="1.15"/><circle cx="193.89" cy="452.69" r="1.15"/><circle cx="195" cy="449.86" r="1.15"/><circle cx="196.1" cy="446.8" r="1.15"/><circle cx="197.2" cy="443.56" r="1.15"/><circle cx="198.31" cy="440.22" r="1.15"/><circle cx="199.41" cy="436.84" r="1.15"/><circle cx="200.51" cy="433.45" r="1.15"/><circle cx="201.62" cy="429.88" r="1.15"/><circle cx="202.72" cy="426.19" r="1.15"/><circle cx="203.82" cy="422.51" r="1.15"/><circle cx="204.93" cy="418.98" r="1.15"/><circle cx="206.03" cy="415.76" r="1.15"/><circle cx="207.14" cy="412.43" r="1.15"/><circle cx="208.24" cy="408.89" r="1.15"/><circle cx="209.34" cy="405.72" r="1.15"/><circle cx="210.45" cy="403.53" r="1.15"/><circle cx="211.55" cy="402.9" r="1.15"/><circle cx="212.65" cy="403.67" r="1.15"/><circle cx="213.76" cy="405.38" r="1.15"/><circle cx="214.86" cy="407.71" r="1.15"/><circle cx="215.96" cy="410.37" r="1.15"/><circle cx="217.07" cy="413.05" r="1.15"/><circle cx="218.17" cy="416.22" r="1.15"/><circle cx="219.27" cy="420.06" r="1.15"/><circle cx="220.38" cy="424.27" r="1.15"/><circle cx="221.48" cy="428.53" r="1.15"/><circle cx="222.58" cy="432.71" r="1.15"/><circle cx="223.69" cy="437.11" r="1.15"/><circle cx="224.79" cy="441.58" r="1.15"/><circle cx="225.89" cy="445.95" r="1.15"/><circle cx="227" cy="450.15" r="1.15"/><circle cx="228.1" cy="454.71" r="1.15"/><circle cx="229.21" cy="459.21" r="1.15"/><circle cx="230.31" cy="462.96" r="1.15"/><circle cx="231.41" cy="465.3" r="1.15"/><circle cx="232.52" cy="466.63" r="1.15"/><circle cx="233.62" cy="467.68" r="1.15"/><circle cx="234.72" cy="468.23" r="1.15"/><circle cx="235.83" cy="467.96" r="1.15"/><circle cx="236.93" cy="466.64" r="1.15"/><circle cx="238.03" cy="464.95" r="1.15"/><circle cx="239.14" cy="463.63" r="1.15"/><circle cx="240.24" cy="463.36" r="1.15"/><circle cx="241.34" cy="463.85" r="1.15"/><circle cx="242.45" cy="464.71" r="1.15"/><circle cx="243.55" cy="465.69" r="1.15"/><circle cx="244.65" cy="466.58" r="1.15"/><circle cx="245.76" cy="467.61" r="1.15"/><circle cx="246.86" cy="468.8" r="1.15"/><circle cx="247.96" cy="470.07" r="1.15"/><circle cx="249.07" cy="471.31" r="1.15"/><circle cx="250.17" cy="472.44" r="1.15"/><circle cx="251.28" cy="473.37" r="1.15"/><circle cx="252.38" cy="473.99" r="1.15"/><circle cx="253.48" cy="474.22" r="1.15"/><circle cx="254.59" cy="474.1" r="1.15"/><circle cx="255.69" cy="473.74" r="1.15"/><circle cx="256.79" cy="473.14" r="1.15"/><circle cx="257.9" cy="472.31" r="1.15"/><circle cx="259" cy="471.25" r="1.15"/></g>
<path d="M38.3 455L39.4 455.26L40.51 455.68L41.61 456.2L42.71 456.86L43.82 457.8L44.92 458.79L46.02 459.61L47.13 460.43L48.23 461.23L49.33 461.84L50.44 462.13L51.54 461.99L52.65 461.53L53.75 460.86L54.85 460.08L55.96 459.32L57.06 458.65L58.16 458.01L59.27 457.34L60.37 456.67L61.47 455.99L62.58 455.29L63.68 454.6L64.78 453.9L65.89 453.21L66.99 452.52L68.09 451.84L69.2 451.17L70.3 450.5L71.41 449.82L72.51 449.14L73.61 448.44L74.72 447.71L75.82 446.99L76.92 446.32L78.03 445.64L79.13 444.88L80.23 444L81.34 442.91L82.44 441.46L83.54 439.38L84.65 436.24L85.75 430.35L86.85 424.98L87.96 419.91L89.06 414.99L90.16 410.2L91.27 405.28L92.37 400.45L93.47 396.03L94.58 392.38L95.68 389.09L96.79 385.84L97.89 383.02L98.99 381.04L100.1 380.29L101.2 380.97L102.3 382.82L103.41 385.54L104.51 388.82L105.61 392.38L106.72 397.17L107.82 403.64L108.92 410.65L110.03 417.95L111.13 425.8L112.23 432.84L113.34 439.26L114.44 445.27L115.54 450.79L116.65 456.23L117.75 462.02L118.86 466.13L119.96 466.63L121.06 464.45L122.17 460.75L123.27 456.47L124.37 452.52L125.48 448.83L126.58 444.85L127.68 440.76L128.79 436.7L129.89 432.86L130.99 429.39L132.1 426.36L133.2 423.56L134.3 420.93L135.41 418.47L136.51 416.16L137.61 413.98L138.72 411.59L139.82 409.28L140.93 407.99L142.03 408.27L143.13 409.58L144.24 411.64L145.34 414.17L146.44 416.92L147.55 419.68L148.65 423.13L149.75 427.19L150.86 431.46L151.96 435.58L153.06 439.61L154.17 443.77L155.27 447.79L156.37 451.43L157.48 454.64L158.58 457.82L159.69 460.84L160.79 463.51L161.89 465.63L163 467.03L164.1 467.99L165.2 468.78L166.31 469.44L167.41 470.02L168.51 470.54L169.62 471.07L170.72 471.63L171.82 472.24L172.93 472.85L174.03 473.4L175.13 473.85L176.24 474.14L177.34 474.21L178.44 474.08L179.55 473.76L180.65 473.28L181.75 472.65L182.86 471.89L183.96 471L185.07 470.01L186.17 468.94L187.27 467.79L188.38 466.53L189.48 464.6L190.58 462.02L191.69 459.02L192.79 455.84L193.89 452.72L195 449.64L196.1 446.39L197.2 442.99L198.31 439.5L199.41 435.96L200.51 432.39L201.62 428.6L202.72 424.66L203.82 420.76L204.93 417.07L206.03 413.78L207.14 410.48L208.24 407.05L209.34 404.01L210.45 401.92L211.55 401.31L212.65 402.12L213.76 403.91L214.86 406.34L215.96 409.1L217.07 411.87L218.17 415.1L219.27 418.98L220.38 423.23L221.48 427.52L222.58 431.77L223.69 436.25L224.79 440.8L225.89 445.24L227 449.45L228.1 453.94L229.21 458.33L230.31 462.08L231.41 464.61L232.52 466.21L233.62 467.55L234.72 468.59L235.83 469.3L236.93 469.72L238.03 470.03L239.14 470.26L240.24 470.44L241.34 470.6L242.45 470.74L243.55 470.9L244.65 471.1L245.76 471.35L246.86 471.68L247.96 472.34L249.07 473.4L250.17 474.15L251.28 474.07L252.38 473.39L253.48 472.36L254.59 471.19L255.69 470.08L256.79 469.26L257.9 468.72L259 468.27" fill="none" stroke="#2b2b2b" stroke-width="0.6" stroke-dasharray="2 1 0.6 1"/>
<g fill="none" stroke="#2b2b2b" stroke-width="0.72"><circle cx="38.3" cy="455" r="1.15"/><circle cx="39.4" cy="455.26" r="1.15"/><circle cx="40.51" cy="455.68" r="1.15"/><circle cx="41.61" cy="456.2" r="1.15"/><circle cx="42.71" cy="456.86" r="1.15"/><circle cx="43.82" cy="457.8" r="1.15"/><circle cx="44.92" cy="458.79" r="1.15"/><circle cx="46.02" cy="459.61" r="1.15"/><circle cx="47.13" cy="460.43" r="1.15"/><circle cx="48.23" cy="461.23" r="1.15"/><circle cx="49.33" cy="461.84" r="1.15"/><circle cx="50.44" cy="462.13" r="1.15"/><circle cx="51.54" cy="461.99" r="1.15"/><circle cx="52.65" cy="461.53" r="1.15"/><circle cx="53.75" cy="460.86" r="1.15"/><circle cx="54.85" cy="460.08" r="1.15"/><circle cx="55.96" cy="459.32" r="1.15"/><circle cx="57.06" cy="458.65" r="1.15"/><circle cx="58.16" cy="458.01" r="1.15"/><circle cx="59.27" cy="457.34" r="1.15"/><circle cx="60.37" cy="456.67" r="1.15"/><circle cx="61.47" cy="455.99" r="1.15"/><circle cx="62.58" cy="455.29" r="1.15"/><circle cx="63.68" cy="454.6" r="1.15"/><circle cx="64.78" cy="453.9" r="1.15"/><circle cx="65.89" cy="453.21" r="1.15"/><circle cx="66.99" cy="452.52" r="1.15"/><circle cx="68.09" cy="451.84" r="1.15"/><circle cx="69.2" cy="451.17" r="1.15"/><circle cx="70.3" cy="450.5" r="1.15"/><circle cx="71.41" cy="449.82" r="1.15"/><circle cx="72.51" cy="449.14" r="1.15"/><circle cx="73.61" cy="448.44" r="1.15"/><circle cx="74.72" cy="447.71" r="1.15"/><circle cx="75.82" cy="446.99" r="1.15"/><circle cx="76.92" cy="446.32" r="1.15"/><circle cx="78.03" cy="445.64" r="1.15"/><circle cx="79.13" cy="444.88" r="1.15"/><circle cx="80.23" cy="444" r="1.15"/><circle cx="81.34" cy="442.91" r="1.15"/><circle cx="82.44" cy="441.46" r="1.15"/><circle cx="83.54" cy="439.38" r="1.15"/><circle cx="84.65" cy="436.24" r="1.15"/><circle cx="85.75" cy="430.35" r="1.15"/><circle cx="86.85" cy="424.98" r="1.15"/><circle cx="87.96" cy="419.91" r="1.15"/><circle cx="89.06" cy="414.99" r="1.15"/><circle cx="90.16" cy="410.2" r="1.15"/><circle cx="91.27" cy="405.28" r="1.15"/><circle cx="92.37" cy="400.45" r="1.15"/><circle cx="93.47" cy="396.03" r="1.15"/><circle cx="94.58" cy="392.38" r="1.15"/><circle cx="95.68" cy="389.09" r="1.15"/><circle cx="96.79" cy="385.84" r="1.15"/><circle cx="97.89" cy="383.02" r="1.15"/><circle cx="98.99" cy="381.04" r="1.15"/><circle cx="100.1" cy="380.29" r="1.15"/><circle cx="101.2" cy="380.97" r="1.15"/><circle cx="102.3" cy="382.82" r="1.15"/><circle cx="103.41" cy="385.54" r="1.15"/><circle cx="104.51" cy="388.82" r="1.15"/><circle cx="105.61" cy="392.38" r="1.15"/><circle cx="106.72" cy="397.17" r="1.15"/><circle cx="107.82" cy="403.64" r="1.15"/><circle cx="108.92" cy="410.65" r="1.15"/><circle cx="110.03" cy="417.95" r="1.15"/><circle cx="111.13" cy="425.8" r="1.15"/><circle cx="112.23" cy="432.84" r="1.15"/><circle cx="113.34" cy="439.26" r="1.15"/><circle cx="114.44" cy="445.27" r="1.15"/><circle cx="115.54" cy="450.79" r="1.15"/><circle cx="116.65" cy="456.23" r="1.15"/><circle cx="117.75" cy="462.02" r="1.15"/><circle cx="118.86" cy="466.13" r="1.15"/><circle cx="119.96" cy="466.63" r="1.15"/><circle cx="121.06" cy="464.45" r="1.15"/><circle cx="122.17" cy="460.75" r="1.15"/><circle cx="123.27" cy="456.47" r="1.15"/><circle cx="124.37" cy="452.52" r="1.15"/><circle cx="125.48" cy="448.83" r="1.15"/><circle cx="126.58" cy="444.85" r="1.15"/><circle cx="127.68" cy="440.76" r="1.15"/><circle cx="128.79" cy="436.7" r="1.15"/><circle cx="129.89" cy="432.86" r="1.15"/><circle cx="130.99" cy="429.39" r="1.15"/><circle cx="132.1" cy="426.36" r="1.15"/><circle cx="133.2" cy="423.56" r="1.15"/><circle cx="134.3" cy="420.93" r="1.15"/><circle cx="135.41" cy="418.47" r="1.15"/><circle cx="136.51" cy="416.16" r="1.15"/><circle cx="137.61" cy="413.98" r="1.15"/><circle cx="138.72" cy="411.59" r="1.15"/><circle cx="139.82" cy="409.28" r="1.15"/><circle cx="140.93" cy="407.99" r="1.15"/><circle cx="142.03" cy="408.27" r="1.15"/><circle cx="143.13" cy="409.58" r="1.15"/><circle cx="144.24" cy="411.64" r="1.15"/><circle cx="145.34" cy="414.17" r="1.15"/><circle cx="146.44" cy="416.92" r="1.15"/><circle cx="147.55" cy="419.68" r="1.15"/><circle cx="148.65" cy="423.13" r="1.15"/><circle cx="149.75" cy="427.19" r="1.15"/><circle cx="150.86" cy="431.46" r="1.15"/><circle cx="151.96" cy="435.58" r="1.15"/><circle cx="153.06" cy="439.61" r="1.15"/><circle cx="154.17" cy="443.77" r="1.15"/><circle cx="155.27" cy="447.79" r="1.15"/><circle cx="156.37" cy="451.43" r="1.15"/><circle cx="157.48" cy="454.64" r="1.15"/><circle cx="158.58" cy="457.82" r="1.15"/><circle cx="159.69" cy="460.84" r="1.15"/><circle cx="160.79" cy="463.51" r="1.15"/><circle cx="161.89" cy="465.63" r="1.15"/><circle cx="163" cy="467.03" r="1.15"/><circle cx="164.1" cy="467.99" r="1.15"/><circle cx="165.2" cy="468.78" r="1.15"/><circle cx="166.31" cy="469.44" r="1.15"/><circle cx="167.41" cy="470.02" r="1.15"/><circle cx="168.51" cy="470.54" r="1.15"/><circle cx="169.62" cy="471.07" r="1.15"/><circle cx="170.72" cy="471.63" r="1.15"/><circle cx="171.82" cy="472.24" r="1.15"/><circle cx="172.93" cy="472.85" r="1.15"/><circle cx="174.03" cy="473.4" r="1.15"/><circle cx="175.13" cy="473.85" r="1.15"/><circle cx="176.24" cy="474.14" r="1.15"/><circle cx="177.34" cy="474.21" r="1.15"/><circle cx="178.44" cy="474.08" r="1.15"/><circle cx="179.55" cy="473.76" r="1.15"/><circle cx="180.65" cy="473.28" r="1.15"/><circle cx="181.75" cy="472.65" r="1.15"/><circle cx="182.86" cy="471.89" r="1.15"/><circle cx="183.96" cy="471" r="1.15"/><circle cx="185.07" cy="470.01" r="1.15"/><circle cx="186.17" cy="468.94" r="1.15"/><circle cx="187.27" cy="467.79" r="1.15"/><circle cx="188.38" cy="466.53" r="1.15"/><circle cx="189.48" cy="464.6" r="1.15"/><circle cx="190.58" cy="462.02" r="1.15"/><circle cx="191.69" cy="459.02" r="1.15"/><circle cx="192.79" cy="455.84" r="1.15"/><circle cx="193.89" cy="452.72" r="1.15"/><circle cx="195" cy="449.64" r="1.15"/><circle cx="196.1" cy="446.39" r="1.15"/><circle cx="197.2" cy="442.99" r="1.15"/><circle cx="198.31" cy="439.5" r="1.15"/><circle cx="199.41" cy="435.96" r="1.15"/><circle cx="200.51" cy="432.39" r="1.15"/><circle cx="201.62" cy="428.6" r="1.15"/><circle cx="202.72" cy="424.66" r="1.15"/><circle cx="203.82" cy="420.76" r="1.15"/><circle cx="204.93" cy="417.07" r="1.15"/><circle cx="206.03" cy="413.78" r="1.15"/><circle cx="207.14" cy="410.48" r="1.15"/><circle cx="208.24" cy="407.05" r="1.15"/><circle cx="209.34" cy="404.01" r="1.15"/><circle cx="210.45" cy="401.92" r="1.15"/><circle cx="211.55" cy="401.31" r="1.15"/><circle cx="212.65" cy="402.12" r="1.15"/><circle cx="213.76" cy="403.91" r="1.15"/><circle cx="214.86" cy="406.34" r="1.15"/><circle cx="215.96" cy="409.1" r="1.15"/><circle cx="217.07" cy="411.87" r="1.15"/><circle cx="218.17" cy="415.1" r="1.15"/><circle cx="219.27" cy="418.98" r="1.15"/><circle cx="220.38" cy="423.23" r="1.15"/><circle cx="221.48" cy="427.52" r="1.15"/><circle cx="222.58" cy="431.77" r="1.15"/><circle cx="223.69" cy="436.25" r="1.15"/><circle cx="224.79" cy="440.8" r="1.15"/><circle cx="225.89" cy="445.24" r="1.15"/><circle cx="227" cy="449.45" r="1.15"/><circle cx="228.1" cy="453.94" r="1.15"/><circle cx="229.21" cy="458.33" r="1.15"/><circle cx="230.31" cy="462.08" r="1.15"/><circle cx="231.41" cy="464.61" r="1.15"/><circle cx="232.52" cy="466.21" r="1.15"/><circle cx="233.62" cy="467.55" r="1.15"/><circle cx="234.72" cy="468.59" r="1.15"/><circle cx="235.83" cy="469.3" r="1.15"/><circle cx="236.93" cy="469.72" r="1.15"/><circle cx="238.03" cy="470.03" r="1.15"/><circle cx="239.14" cy="470.26" r="1.15"/><circle cx="240.24" cy="470.44" r="1.15"/><circle cx="241.34" cy="470.6" r="1.15"/><circle cx="242.45" cy="470.74" r="1.15"/><circle cx="243.55" cy="470.9" r="1.15"/><circle cx="244.65" cy="471.1" r="1.15"/><circle cx="245.76" cy="471.35" r="1.15"/><circle cx="246.86" cy="471.68" r="1.15"/><circle cx="247.96" cy="472.34" r="1.15"/><circle cx="249.07" cy="473.4" r="1.15"/><circle cx="250.17" cy="474.15" r="1.15"/><circle cx="251.28" cy="474.07" r="1.15"/><circle cx="252.38" cy="473.39" r="1.15"/><circle cx="253.48" cy="472.36" r="1.15"/><circle cx="254.59" cy="471.19" r="1.15"/><circle cx="255.69" cy="470.08" r="1.15"/><circle cx="256.79" cy="469.26" r="1.15"/><circle cx="257.9" cy="468.72" r="1.15"/><circle cx="259" cy="468.27" r="1.15"/></g>
<path d="M38.3 473.92L39.4 473.92L40.51 473.91L41.61 473.9L42.71 473.88L43.82 473.86L44.92 473.84L46.02 473.81L47.13 473.79L48.23 473.75L49.33 473.72L50.44 473.68L51.54 473.62L52.65 473.54L53.75 473.44L54.85 473.34L55.96 473.23L57.06 473.13L58.16 473.02L59.27 472.92L60.37 472.83L61.47 472.75L62.58 472.67L63.68 472.59L64.78 472.52L65.89 472.44L66.99 472.36L68.09 472.29L69.2 472.21L70.3 472.12L71.41 472.04L72.51 471.95L73.61 471.84L74.72 471.74L75.82 471.63L76.92 471.52L78.03 471.41L79.13 471.3L80.23 471.21L81.34 471.12L82.44 471.05L83.54 470.98L84.65 470.92L85.75 470.87L86.85 470.81L87.96 470.76L89.06 470.72L90.16 470.67L91.27 470.63L92.37 470.59L93.47 470.55L94.58 470.51L95.68 470.47L96.79 470.43L97.89 470.39L98.99 470.36L100.1 470.32L101.2 470.3L102.3 470.27L103.41 470.26L104.51 470.25L105.61 470.27L106.72 470.33L107.82 470.41L108.92 470.51L110.03 470.61L111.13 470.73L112.23 470.83L113.34 470.92L114.44 471L115.54 471.04L116.65 471.04L117.75 470.94L118.86 470.73L119.96 470.44L121.06 470.08L122.17 469.68L123.27 469.26L124.37 468.85L125.48 468.45L126.58 468.09L127.68 467.8L128.79 467.59L129.89 467.49L130.99 467.51L132.1 467.68L133.2 467.94L134.3 468.27L135.41 468.63L136.51 468.98L137.61 469.3L138.72 469.53L139.82 469.65L140.93 469.63L142.03 469.49L143.13 469.25L144.24 468.92L145.34 468.53L146.44 468.08L147.55 467.6L148.65 467.11L149.75 466.61L150.86 466.12L151.96 465.44L153.06 464.64L154.17 463.88L155.27 463.31L156.37 463.07L157.48 462.94L158.58 462.86L159.69 462.82L160.79 463.06L161.89 463.67L163 464.52L164.1 465.44L165.2 466.29L166.31 467.17L167.41 468.19L168.51 469.24L169.62 470.19L170.72 470.93L171.82 471.36L172.93 471.7L174.03 471.97L175.13 472.17L176.24 472.24L177.34 472.16L178.44 471.95L179.55 471.62L180.65 471.22L181.75 470.77L182.86 470.3L183.96 469.83L185.07 469.4L186.17 468.99L187.27 468.52L188.38 468L189.48 467.44L190.58 466.88L191.69 466.34L192.79 465.83L193.89 465.39L195 465.02L196.1 464.76L197.2 464.62L198.31 464.71L199.41 465.36L200.51 466.43L201.62 467.76L202.72 469.17L203.82 470.49L204.93 471.54L206.03 472.15L207.14 472.08L208.24 470.95L209.34 468.96L210.45 466.41L211.55 463.59L212.65 460.78L213.76 458.29L214.86 456.38L215.96 454.81L217.07 453.2L218.17 451.68L219.27 450.38L220.38 449.43L221.48 448.97L222.58 449.32L223.69 450.84L224.79 453.16L225.89 455.9L227 458.68L228.1 461.1L229.21 462.84L230.31 464.4L231.41 465.89L232.52 467.24L233.62 468.34L234.72 469.1L235.83 469.53L236.93 469.91L238.03 470.26L239.14 470.56L240.24 470.81L241.34 471.01L242.45 471.15L243.55 471.23L244.65 471.24L245.76 471.19L246.86 471.09L247.96 470.95L249.07 470.77L250.17 470.56L251.28 470.33L252.38 470.06L253.48 469.67L254.59 469.15L255.69 468.54L256.79 467.85L257.9 467.09L259 466.29" fill="none" stroke="#ebc461" stroke-width="0.6" stroke-dasharray="2 1 0.6 1"/>
<g fill="none" stroke="#ebc461" stroke-width="0.72"><circle cx="38.3" cy="473.92" r="1.15"/><circle cx="39.4" cy="473.92" r="1.15"/><circle cx="40.51" cy="473.91" r="1.15"/><circle cx="41.61" cy="473.9" r="1.15"/><circle cx="42.71" cy="473.88" r="1.15"/><circle cx="43.82" cy="473.86" r="1.15"/><circle cx="44.92" cy="473.84" r="1.15"/><circle cx="46.02" cy="473.81" r="1.15"/><circle cx="47.13" cy="473.79" r="1.15"/><circle cx="48.23" cy="473.75" r="1.15"/><circle cx="49.33" cy="473.72" r="1.15"/><circle cx="50.44" cy="473.68" r="1.15"/><circle cx="51.54" cy="473.62" r="1.15"/><circle cx="52.65" cy="473.54" r="1.15"/><circle cx="53.75" cy="473.44" r="1.15"/><circle cx="54.85" cy="473.34" r="1.15"/><circle cx="55.96" cy="473.23" r="1.15"/><circle cx="57.06" cy="473.13" r="1.15"/><circle cx="58.16" cy="473.02" r="1.15"/><circle cx="59.27" cy="472.92" r="1.15"/><circle cx="60.37" cy="472.83" r="1.15"/><circle cx="61.47" cy="472.75" r="1.15"/><circle cx="62.58" cy="472.67" r="1.15"/><circle cx="63.68" cy="472.59" r="1.15"/><circle cx="64.78" cy="472.52" r="1.15"/><circle cx="65.89" cy="472.44" r="1.15"/><circle cx="66.99" cy="472.36" r="1.15"/><circle cx="68.09" cy="472.29" r="1.15"/><circle cx="69.2" cy="472.21" r="1.15"/><circle cx="70.3" cy="472.12" r="1.15"/><circle cx="71.41" cy="472.04" r="1.15"/><circle cx="72.51" cy="471.95" r="1.15"/><circle cx="73.61" cy="471.84" r="1.15"/><circle cx="74.72" cy="471.74" r="1.15"/><circle cx="75.82" cy="471.63" r="1.15"/><circle cx="76.92" cy="471.52" r="1.15"/><circle cx="78.03" cy="471.41" r="1.15"/><circle cx="79.13" cy="471.3" r="1.15"/><circle cx="80.23" cy="471.21" r="1.15"/><circle cx="81.34" cy="471.12" r="1.15"/><circle cx="82.44" cy="471.05" r="1.15"/><circle cx="83.54" cy="470.98" r="1.15"/><circle cx="84.65" cy="470.92" r="1.15"/><circle cx="85.75" cy="470.87" r="1.15"/><circle cx="86.85" cy="470.81" r="1.15"/><circle cx="87.96" cy="470.76" r="1.15"/><circle cx="89.06" cy="470.72" r="1.15"/><circle cx="90.16" cy="470.67" r="1.15"/><circle cx="91.27" cy="470.63" r="1.15"/><circle cx="92.37" cy="470.59" r="1.15"/><circle cx="93.47" cy="470.55" r="1.15"/><circle cx="94.58" cy="470.51" r="1.15"/><circle cx="95.68" cy="470.47" r="1.15"/><circle cx="96.79" cy="470.43" r="1.15"/><circle cx="97.89" cy="470.39" r="1.15"/><circle cx="98.99" cy="470.36" r="1.15"/><circle cx="100.1" cy="470.32" r="1.15"/><circle cx="101.2" cy="470.3" r="1.15"/><circle cx="102.3" cy="470.27" r="1.15"/><circle cx="103.41" cy="470.26" r="1.15"/><circle cx="104.51" cy="470.25" r="1.15"/><circle cx="105.61" cy="470.27" r="1.15"/><circle cx="106.72" cy="470.33" r="1.15"/><circle cx="107.82" cy="470.41" r="1.15"/><circle cx="108.92" cy="470.51" r="1.15"/><circle cx="110.03" cy="470.61" r="1.15"/><circle cx="111.13" cy="470.73" r="1.15"/><circle cx="112.23" cy="470.83" r="1.15"/><circle cx="113.34" cy="470.92" r="1.15"/><circle cx="114.44" cy="471" r="1.15"/><circle cx="115.54" cy="471.04" r="1.15"/><circle cx="116.65" cy="471.04" r="1.15"/><circle cx="117.75" cy="470.94" r="1.15"/><circle cx="118.86" cy="470.73" r="1.15"/><circle cx="119.96" cy="470.44" r="1.15"/><circle cx="121.06" cy="470.08" r="1.15"/><circle cx="122.17" cy="469.68" r="1.15"/><circle cx="123.27" cy="469.26" r="1.15"/><circle cx="124.37" cy="468.85" r="1.15"/><circle cx="125.48" cy="468.45" r="1.15"/><circle cx="126.58" cy="468.09" r="1.15"/><circle cx="127.68" cy="467.8" r="1.15"/><circle cx="128.79" cy="467.59" r="1.15"/><circle cx="129.89" cy="467.49" r="1.15"/><circle cx="130.99" cy="467.51" r="1.15"/><circle cx="132.1" cy="467.68" r="1.15"/><circle cx="133.2" cy="467.94" r="1.15"/><circle cx="134.3" cy="468.27" r="1.15"/><circle cx="135.41" cy="468.63" r="1.15"/><circle cx="136.51" cy="468.98" r="1.15"/><circle cx="137.61" cy="469.3" r="1.15"/><circle cx="138.72" cy="469.53" r="1.15"/><circle cx="139.82" cy="469.65" r="1.15"/><circle cx="140.93" cy="469.63" r="1.15"/><circle cx="142.03" cy="469.49" r="1.15"/><circle cx="143.13" cy="469.25" r="1.15"/><circle cx="144.24" cy="468.92" r="1.15"/><circle cx="145.34" cy="468.53" r="1.15"/><circle cx="146.44" cy="468.08" r="1.15"/><circle cx="147.55" cy="467.6" r="1.15"/><circle cx="148.65" cy="467.11" r="1.15"/><circle cx="149.75" cy="466.61" r="1.15"/><circle cx="150.86" cy="466.12" r="1.15"/><circle cx="151.96" cy="465.44" r="1.15"/><circle cx="153.06" cy="464.64" r="1.15"/><circle cx="154.17" cy="463.88" r="1.15"/><circle cx="155.27" cy="463.31" r="1.15"/><circle cx="156.37" cy="463.07" r="1.15"/><circle cx="157.48" cy="462.94" r="1.15"/><circle cx="158.58" cy="462.86" r="1.15"/><circle cx="159.69" cy="462.82" r="1.15"/><circle cx="160.79" cy="463.06" r="1.15"/><circle cx="161.89" cy="463.67" r="1.15"/><circle cx="163" cy="464.52" r="1.15"/><circle cx="164.1" cy="465.44" r="1.15"/><circle cx="165.2" cy="466.29" r="1.15"/><circle cx="166.31" cy="467.17" r="1.15"/><circle cx="167.41" cy="468.19" r="1.15"/><circle cx="168.51" cy="469.24" r="1.15"/><circle cx="169.62" cy="470.19" r="1.15"/><circle cx="170.72" cy="470.93" r="1.15"/><circle cx="171.82" cy="471.36" r="1.15"/><circle cx="172.93" cy="471.7" r="1.15"/><circle cx="174.03" cy="471.97" r="1.15"/><circle cx="175.13" cy="472.17" r="1.15"/><circle cx="176.24" cy="472.24" r="1.15"/><circle cx="177.34" cy="472.16" r="1.15"/><circle cx="178.44" cy="471.95" r="1.15"/><circle cx="179.55" cy="471.62" r="1.15"/><circle cx="180.65" cy="471.22" r="1.15"/><circle cx="181.75" cy="470.77" r="1.15"/><circle cx="182.86" cy="470.3" r="1.15"/><circle cx="183.96" cy="469.83" r="1.15"/><circle cx="185.07" cy="469.4" r="1.15"/><circle cx="186.17" cy="468.99" r="1.15"/><circle cx="187.27" cy="468.52" r="1.15"/><circle cx="188.38" cy="468" r="1.15"/><circle cx="189.48" cy="467.44" r="1.15"/><circle cx="190.58" cy="466.88" r="1.15"/><circle cx="191.69" cy="466.34" r="1.15"/><circle cx="192.79" cy="465.83" r="1.15"/><circle cx="193.89" cy="465.39" r="1.15"/><circle cx="195" cy="465.02" r="1.15"/><circle cx="196.1" cy="464.76" r="1.15"/><circle cx="197.2" cy="464.62" r="1.15"/><circle cx="198.31" cy="464.71" r="1.15"/><circle cx="199.41" cy="465.36" r="1.15"/><circle cx="200.51" cy="466.43" r="1.15"/><circle cx="201.62" cy="467.76" r="1.15"/><circle cx="202.72" cy="469.17" r="1.15"/><circle cx="203.82" cy="470.49" r="1.15"/><circle cx="204.93" cy="471.54" r="1.15"/><circle cx="206.03" cy="472.15" r="1.15"/><circle cx="207.14" cy="472.08" r="1.15"/><circle cx="208.24" cy="470.95" r="1.15"/><circle cx="209.34" cy="468.96" r="1.15"/><circle cx="210.45" cy="466.41" r="1.15"/><circle cx="211.55" cy="463.59" r="1.15"/><circle cx="212.65" cy="460.78" r="1.15"/><circle cx="213.76" cy="458.29" r="1.15"/><circle cx="214.86" cy="456.38" r="1.15"/><circle cx="215.96" cy="454.81" r="1.15"/><circle cx="217.07" cy="453.2" r="1.15"/><circle cx="218.17" cy="451.68" r="1.15"/><circle cx="219.27" cy="450.38" r="1.15"/><circle cx="220.38" cy="449.43" r="1.15"/><circle cx="221.48" cy="448.97" r="1.15"/><circle cx="222.58" cy="449.32" r="1.15"/><circle cx="223.69" cy="450.84" r="1.15"/><circle cx="224.79" cy="453.16" r="1.15"/><circle cx="225.89" cy="455.9" r="1.15"/><circle cx="227" cy="458.68" r="1.15"/><circle cx="228.1" cy="461.1" r="1.15"/><circle cx="229.21" cy="462.84" r="1.15"/><circle cx="230.31" cy="464.4" r="1.15"/><circle cx="231.41" cy="465.89" r="1.15"/><circle cx="232.52" cy="467.24" r="1.15"/><circle cx="233.62" cy="468.34" r="1.15"/><circle cx="234.72" cy="469.1" r="1.15"/><circle cx="235.83" cy="469.53" r="1.15"/><circle cx="236.93" cy="469.91" r="1.15"/><circle cx="238.03" cy="470.26" r="1.15"/><circle cx="239.14" cy="470.56" r="1.15"/><circle cx="240.24" cy="470.81" r="1.15"/><circle cx="241.34" cy="471.01" r="1.15"/><circle cx="242.45" cy="471.15" r="1.15"/><circle cx="243.55" cy="471.23" r="1.15"/><circle cx="244.65" cy="471.24" r="1.15"/><circle cx="245.76" cy="471.19" r="1.15"/><circle cx="246.86" cy="471.09" r="1.15"/><circle cx="247.96" cy="470.95" r="1.15"/><circle cx="249.07" cy="470.77" r="1.15"/><circle cx="250.17" cy="470.56" r="1.15"/><circle cx="251.28" cy="470.33" r="1.15"/><circle cx="252.38" cy="470.06" r="1.15"/><circle cx="253.48" cy="469.67" r="1.15"/><circle cx="254.59" cy="469.15" r="1.15"/><circle cx="255.69" cy="468.54" r="1.15"/><circle cx="256.79" cy="467.85" r="1.15"/><circle cx="257.9" cy="467.09" r="1.15"/><circle cx="259" cy="466.29" r="1.15"/></g>
<rect x="185.7" y="361.3" width="68" height="33.5" fill="#fff" stroke="#8a8a8a" stroke-width="0.8"/>
<path d="M187.7 368.2H202.1" stroke="#e04848" stroke-width="0.7" stroke-dasharray="2 1 0.6 1"/>
<circle cx="194.9" cy="368.2" r="1.3" fill="none" stroke="#e04848" stroke-width="0.8"/>
<text x="204.1" y="371.1" font-size="8.3" text-anchor="start" font-weight="normal" fill="#222" stroke="#222" >Experimental</text>
<path d="M187.7 378.9H202.1" stroke="#2b2b2b" stroke-width="0.7" stroke-dasharray="2 1 0.6 1"/>
<circle cx="194.9" cy="378.9" r="1.3" fill="none" stroke="#2b2b2b" stroke-width="0.8"/>
<text x="204.1" y="381.8" font-size="8.3" text-anchor="start" font-weight="normal" fill="#222" stroke="#222" >Theoretical</text>
<path d="M187.7 389.6H202.1" stroke="#ebc461" stroke-width="0.7" stroke-dasharray="2 1 0.6 1"/>
<circle cx="194.9" cy="389.6" r="1.3" fill="none" stroke="#ebc461" stroke-width="0.8"/>
<text x="204.1" y="392.5" font-size="8.3" text-anchor="start" font-weight="normal" fill="#222" stroke="#222" >Residual</text>
<rect x="345.9" y="357.3" width="221.1" height="119" fill="none" stroke="#a9a9a9" stroke-width="1"/>
<path d="M345.9 476.3v-2.4M345.9 357.3v2.4M382.75 476.3v-2.4M382.75 357.3v2.4M419.6 476.3v-2.4M419.6 357.3v2.4M456.45 476.3v-2.4M456.45 357.3v2.4M493.3 476.3v-2.4M493.3 357.3v2.4M530.15 476.3v-2.4M530.15 357.3v2.4M567 476.3v-2.4M567 357.3v2.4M345.9 476.3h2.4M567 476.3h-2.4M345.9 456.47h2.4M567 456.47h-2.4M345.9 436.63h2.4M567 436.63h-2.4M345.9 416.8h2.4M567 416.8h-2.4M345.9 396.97h2.4M567 396.97h-2.4M345.9 377.13h2.4M567 377.13h-2.4M345.9 357.3h2.4M567 357.3h-2.4" stroke="#8a8a8a" stroke-width="0.8" fill="none"/>
<text x="345.9" y="488.2" font-size="8" text-anchor="middle" font-weight="normal" fill="#1e1e1e" stroke="#1e1e1e" >0</text>
<text x="382.75" y="488.2" font-size="8" text-anchor="middle" font-weight="normal" fill="#1e1e1e" stroke="#1e1e1e" >1</text>
<text x="419.6" y="488.2" font-size="8" text-anchor="middle" font-weight="normal" fill="#1e1e1e" stroke="#1e1e1e" >2</text>
<text x="456.45" y="488.2" font-size="8" text-anchor="middle" font-weight="normal" fill="#1e1e1e" stroke="#1e1e1e" >3</text>
<text x="493.3" y="488.2" font-size="8" text-anchor="middle" font-weight="normal" fill="#1e1e1e" stroke="#1e1e1e" >4</text>
<text x="530.15" y="488.2" font-size="8" text-anchor="middle" font-weight="normal" fill="#1e1e1e" stroke="#1e1e1e" >5</text>
<text x="567" y="488.2" font-size="8" text-anchor="middle" font-weight="normal" fill="#1e1e1e" stroke="#1e1e1e" >6</text>
<text x="343.2" y="479.5" font-size="8" text-anchor="end" font-weight="normal" fill="#1e1e1e" stroke="#1e1e1e" >0</text>
<text x="343.2" y="459.67" font-size="8" text-anchor="end" font-weight="normal" fill="#1e1e1e" stroke="#1e1e1e" >0.5</text>
<text x="343.2" y="439.83" font-size="8" text-anchor="end" font-weight="normal" fill="#1e1e1e" stroke="#1e1e1e" >1</text>
<text x="343.2" y="420" font-size="8" text-anchor="end" font-weight="normal" fill="#1e1e1e" stroke="#1e1e1e" >1.5</text>
<text x="343.2" y="400.17" font-size="8" text-anchor="end" font-weight="normal" fill="#1e1e1e" stroke="#1e1e1e" >2</text>
<text x="343.2" y="380.33" font-size="8" text-anchor="end" font-weight="normal" fill="#1e1e1e" stroke="#1e1e1e" >2.5</text>
<text x="343.2" y="360.5" font-size="8" text-anchor="end" font-weight="normal" fill="#1e1e1e" stroke="#1e1e1e" >3</text>
<text x="456.4" y="353" font-size="9" text-anchor="middle" font-weight="bold" fill="#111" stroke="#111" >Fe K-edge</text>
<text x="325.6" y="415.5" font-size="9.2" text-anchor="middle" font-weight="normal" fill="#1e1e1e" stroke="#1e1e1e" transform="rotate(-90 325.6 415.5)">FT magnitude / a.u.</text>
<text x="456.4" y="499.4" font-size="9.0" text-anchor="middle" font-weight="normal" fill="#1e1e1e" stroke="#1e1e1e" >Distance (R) /Å</text>
<path d="M345.9 460.43L347.01 460.2L348.11 459.96L349.22 459.72L350.32 459.46L351.43 459.16L352.53 458.85L353.64 458.6L354.74 458.46L355.85 458.49L356.95 458.66L358.06 458.89L359.17 459.1L360.27 459.23L361.38 459.07L362.48 458.3L363.59 457.2L364.69 456.06L365.8 455.19L366.9 454.88L368.01 455.25L369.12 455.98L370.22 456.74L371.33 457.22L372.43 457.22L373.54 457.04L374.64 456.73L375.75 456.28L376.85 455.2L377.96 453.49L379.06 451.28L380.17 447.31L381.28 441.93L382.38 436.63L383.49 431.76L384.59 426.86L385.7 422.21L386.8 417.86L387.91 413.52L389.01 409.82L390.12 407.43L391.23 405.95L392.33 404.79L393.44 403.47L394.54 401.56L395.65 399.11L396.75 396.54L397.86 394.23L398.96 391.68L400.07 389.27L401.17 387.7L402.28 387.86L403.39 390.88L404.49 395.41L405.6 400.65L406.7 407.87L407.81 415.81L408.91 423.14L410.02 430.38L411.12 436.63L412.23 441.24L413.34 445.21L414.44 449.47L415.55 454L416.65 457.64L417.76 459.78L418.86 460.25L419.97 458.01L421.07 454.59L422.18 451.61L423.28 449.05L424.39 446.47L425.5 443.71L426.6 440.6L427.71 436.91L428.81 432.68L429.92 428.15L431.02 423.54L432.13 418.83L433.23 413.92L434.34 408.88L435.45 403.81L436.55 398.66L437.66 393.3L438.76 388.15L439.87 383.52L440.97 378.57L442.08 375.62L443.18 376.04L444.29 377.74L445.39 380.31L446.5 387.06L447.61 398.19L448.71 409.33L449.82 421.46L450.92 431.83L452.03 440.42L453.13 447.74L454.24 454.97L455.34 457.16L456.45 456.07L457.56 454.98L458.66 455.13L459.77 456.11L460.87 458.58L461.98 461.2L463.08 462.12L464.19 462.37L465.29 462.57L466.4 462.7L467.5 462.79L468.61 462.81L469.72 462.71L470.82 462.45L471.93 462.09L473.03 461.71L474.14 461.38L475.24 461.16L476.35 460.97L477.45 460.78L478.56 460.62L479.67 460.5L480.77 460.44L481.88 460.52L482.98 460.9L484.09 461.4L485.19 461.83L486.3 462.02L487.4 461.54L488.51 460.39L489.62 458.96L490.72 457.67L491.83 456.92L492.93 457.02L494.04 457.67L495.14 458.55L496.25 459.31L497.35 459.64L498.46 459.32L499.56 458.5L500.67 457.41L501.78 456.27L502.88 455.31L503.99 454.73L505.09 454.37L506.2 454.08L507.3 453.8L508.41 453.44L509.51 452.88L510.62 451.98L511.73 450.9L512.83 449.8L513.94 448.87L515.04 448.27L516.15 448.17L517.25 448.65L518.36 449.55L519.46 450.74L520.57 452.06L521.67 453.49L522.78 455.38L523.89 457.63L524.99 460.12L526.1 462.73L527.2 465.78L528.31 469.88L529.41 473.53L530.52 475.11L531.62 474.96L532.73 474.57L533.84 474.04L534.94 473.47L536.05 472.95L537.15 472.31L538.26 471.57L539.36 470.85L540.47 470.28L541.57 469.98L542.68 470.05L543.78 470.5L544.89 471.17L546 471.91L547.1 472.58L548.21 473.03L549.31 473.1L550.42 472.79L551.52 472.25L552.63 471.62L553.73 471.08L554.84 470.77L555.95 470.84L557.05 471.26L558.16 471.91L559.26 472.66L560.37 473.39L561.47 473.98L562.58 474.29L563.68 474.32L564.79 474.32L565.89 474.32L567 474.32" fill="none" stroke="#e04848" stroke-width="0.6" stroke-dasharray="2 1 0.6 1"/>
<g fill="none" stroke="#e04848" stroke-width="0.72"><circle cx="345.9" cy="460.43" r="1.15"/><circle cx="347.01" cy="460.2" r="1.15"/><circle cx="348.11" cy="459.96" r="1.15"/><circle cx="349.22" cy="459.72" r="1.15"/><circle cx="350.32" cy="459.46" r="1.15"/><circle cx="351.43" cy="459.16" r="1.15"/><circle cx="352.53" cy="458.85" r="1.15"/><circle cx="353.64" cy="458.6" r="1.15"/><circle cx="354.74" cy="458.46" r="1.15"/><circle cx="355.85" cy="458.49" r="1.15"/><circle cx="356.95" cy="458.66" r="1.15"/><circle cx="358.06" cy="458.89" r="1.15"/><circle cx="359.17" cy="459.1" r="1.15"/><circle cx="360.27" cy="459.23" r="1.15"/><circle cx="361.38" cy="459.07" r="1.15"/><circle cx="362.48" cy="458.3" r="1.15"/><circle cx="363.59" cy="457.2" r="1.15"/><circle cx="364.69" cy="456.06" r="1.15"/><circle cx="365.8" cy="455.19" r="1.15"/><circle cx="366.9" cy="454.88" r="1.15"/><circle cx="368.01" cy="455.25" r="1.15"/><circle cx="369.12" cy="455.98" r="1.15"/><circle cx="370.22" cy="456.74" r="1.15"/><circle cx="371.33" cy="457.22" r="1.15"/><circle cx="372.43" cy="457.22" r="1.15"/><circle cx="373.54" cy="457.04" r="1.15"/><circle cx="374.64" cy="456.73" r="1.15"/><circle cx="375.75" cy="456.28" r="1.15"/><circle cx="376.85" cy="455.2" r="1.15"/><circle cx="377.96" cy="453.49" r="1.15"/><circle cx="379.06" cy="451.28" r="1.15"/><circle cx="380.17" cy="447.31" r="1.15"/><circle cx="381.28" cy="441.93" r="1.15"/><circle cx="382.38" cy="436.63" r="1.15"/><circle cx="383.49" cy="431.76" r="1.15"/><circle cx="384.59" cy="426.86" r="1.15"/><circle cx="385.7" cy="422.21" r="1.15"/><circle cx="386.8" cy="417.86" r="1.15"/><circle cx="387.91" cy="413.52" r="1.15"/><circle cx="389.01" cy="409.82" r="1.15"/><circle cx="390.12" cy="407.43" r="1.15"/><circle cx="391.23" cy="405.95" r="1.15"/><circle cx="392.33" cy="404.79" r="1.15"/><circle cx="393.44" cy="403.47" r="1.15"/><circle cx="394.54" cy="401.56" r="1.15"/><circle cx="395.65" cy="399.11" r="1.15"/><circle cx="396.75" cy="396.54" r="1.15"/><circle cx="397.86" cy="394.23" r="1.15"/><circle cx="398.96" cy="391.68" r="1.15"/><circle cx="400.07" cy="389.27" r="1.15"/><circle cx="401.17" cy="387.7" r="1.15"/><circle cx="402.28" cy="387.86" r="1.15"/><circle cx="403.39" cy="390.88" r="1.15"/><circle cx="404.49" cy="395.41" r="1.15"/><circle cx="405.6" cy="400.65" r="1.15"/><circle cx="406.7" cy="407.87" r="1.15"/><circle cx="407.81" cy="415.81" r="1.15"/><circle cx="408.91" cy="423.14" r="1.15"/><circle cx="410.02" cy="430.38" r="1.15"/><circle cx="411.12" cy="436.63" r="1.15"/><circle cx="412.23" cy="441.24" r="1.15"/><circle cx="413.34" cy="445.21" r="1.15"/><circle cx="414.44" cy="449.47" r="1.15"/><circle cx="415.55" cy="454" r="1.15"/><circle cx="416.65" cy="457.64" r="1.15"/><circle cx="417.76" cy="459.78" r="1.15"/><circle cx="418.86" cy="460.25" r="1.15"/><circle cx="419.97" cy="458.01" r="1.15"/><circle cx="421.07" cy="454.59" r="1.15"/><circle cx="422.18" cy="451.61" r="1.15"/><circle cx="423.28" cy="449.05" r="1.15"/><circle cx="424.39" cy="446.47" r="1.15"/><circle cx="425.5" cy="443.71" r="1.15"/><circle cx="426.6" cy="440.6" r="1.15"/><circle cx="427.71" cy="436.91" r="1.15"/><circle cx="428.81" cy="432.68" r="1.15"/><circle cx="429.92" cy="428.15" r="1.15"/><circle cx="431.02" cy="423.54" r="1.15"/><circle cx="432.13" cy="418.83" r="1.15"/><circle cx="433.23" cy="413.92" r="1.15"/><circle cx="434.34" cy="408.88" r="1.15"/><circle cx="435.45" cy="403.81" r="1.15"/><circle cx="436.55" cy="398.66" r="1.15"/><circle cx="437.66" cy="393.3" r="1.15"/><circle cx="438.76" cy="388.15" r="1.15"/><circle cx="439.87" cy="383.52" r="1.15"/><circle cx="440.97" cy="378.57" r="1.15"/><circle cx="442.08" cy="375.62" r="1.15"/><circle cx="443.18" cy="376.04" r="1.15"/><circle cx="444.29" cy="377.74" r="1.15"/><circle cx="445.39" cy="380.31" r="1.15"/><circle cx="446.5" cy="387.06" r="1.15"/><circle cx="447.61" cy="398.19" r="1.15"/><circle cx="448.71" cy="409.33" r="1.15"/><circle cx="449.82" cy="421.46" r="1.15"/><circle cx="450.92" cy="431.83" r="1.15"/><circle cx="452.03" cy="440.42" r="1.15"/><circle cx="453.13" cy="447.74" r="1.15"/><circle cx="454.24" cy="454.97" r="1.15"/><circle cx="455.34" cy="457.16" r="1.15"/><circle cx="456.45" cy="456.07" r="1.15"/><circle cx="457.56" cy="454.98" r="1.15"/><circle cx="458.66" cy="455.13" r="1.15"/><circle cx="459.77" cy="456.11" r="1.15"/><circle cx="460.87" cy="458.58" r="1.15"/><circle cx="461.98" cy="461.2" r="1.15"/><circle cx="463.08" cy="462.12" r="1.15"/><circle cx="464.19" cy="462.37" r="1.15"/><circle cx="465.29" cy="462.57" r="1.15"/><circle cx="466.4" cy="462.7" r="1.15"/><circle cx="467.5" cy="462.79" r="1.15"/><circle cx="468.61" cy="462.81" r="1.15"/><circle cx="469.72" cy="462.71" r="1.15"/><circle cx="470.82" cy="462.45" r="1.15"/><circle cx="471.93" cy="462.09" r="1.15"/><circle cx="473.03" cy="461.71" r="1.15"/><circle cx="474.14" cy="461.38" r="1.15"/><circle cx="475.24" cy="461.16" r="1.15"/><circle cx="476.35" cy="460.97" r="1.15"/><circle cx="477.45" cy="460.78" r="1.15"/><circle cx="478.56" cy="460.62" r="1.15"/><circle cx="479.67" cy="460.5" r="1.15"/><circle cx="480.77" cy="460.44" r="1.15"/><circle cx="481.88" cy="460.52" r="1.15"/><circle cx="482.98" cy="460.9" r="1.15"/><circle cx="484.09" cy="461.4" r="1.15"/><circle cx="485.19" cy="461.83" r="1.15"/><circle cx="486.3" cy="462.02" r="1.15"/><circle cx="487.4" cy="461.54" r="1.15"/><circle cx="488.51" cy="460.39" r="1.15"/><circle cx="489.62" cy="458.96" r="1.15"/><circle cx="490.72" cy="457.67" r="1.15"/><circle cx="491.83" cy="456.92" r="1.15"/><circle cx="492.93" cy="457.02" r="1.15"/><circle cx="494.04" cy="457.67" r="1.15"/><circle cx="495.14" cy="458.55" r="1.15"/><circle cx="496.25" cy="459.31" r="1.15"/><circle cx="497.35" cy="459.64" r="1.15"/><circle cx="498.46" cy="459.32" r="1.15"/><circle cx="499.56" cy="458.5" r="1.15"/><circle cx="500.67" cy="457.41" r="1.15"/><circle cx="501.78" cy="456.27" r="1.15"/><circle cx="502.88" cy="455.31" r="1.15"/><circle cx="503.99" cy="454.73" r="1.15"/><circle cx="505.09" cy="454.37" r="1.15"/><circle cx="506.2" cy="454.08" r="1.15"/><circle cx="507.3" cy="453.8" r="1.15"/><circle cx="508.41" cy="453.44" r="1.15"/><circle cx="509.51" cy="452.88" r="1.15"/><circle cx="510.62" cy="451.98" r="1.15"/><circle cx="511.73" cy="450.9" r="1.15"/><circle cx="512.83" cy="449.8" r="1.15"/><circle cx="513.94" cy="448.87" r="1.15"/><circle cx="515.04" cy="448.27" r="1.15"/><circle cx="516.15" cy="448.17" r="1.15"/><circle cx="517.25" cy="448.65" r="1.15"/><circle cx="518.36" cy="449.55" r="1.15"/><circle cx="519.46" cy="450.74" r="1.15"/><circle cx="520.57" cy="452.06" r="1.15"/><circle cx="521.67" cy="453.49" r="1.15"/><circle cx="522.78" cy="455.38" r="1.15"/><circle cx="523.89" cy="457.63" r="1.15"/><circle cx="524.99" cy="460.12" r="1.15"/><circle cx="526.1" cy="462.73" r="1.15"/><circle cx="527.2" cy="465.78" r="1.15"/><circle cx="528.31" cy="469.88" r="1.15"/><circle cx="529.41" cy="473.53" r="1.15"/><circle cx="530.52" cy="475.11" r="1.15"/><circle cx="531.62" cy="474.96" r="1.15"/><circle cx="532.73" cy="474.57" r="1.15"/><circle cx="533.84" cy="474.04" r="1.15"/><circle cx="534.94" cy="473.47" r="1.15"/><circle cx="536.05" cy="472.95" r="1.15"/><circle cx="537.15" cy="472.31" r="1.15"/><circle cx="538.26" cy="471.57" r="1.15"/><circle cx="539.36" cy="470.85" r="1.15"/><circle cx="540.47" cy="470.28" r="1.15"/><circle cx="541.57" cy="469.98" r="1.15"/><circle cx="542.68" cy="470.05" r="1.15"/><circle cx="543.78" cy="470.5" r="1.15"/><circle cx="544.89" cy="471.17" r="1.15"/><circle cx="546" cy="471.91" r="1.15"/><circle cx="547.1" cy="472.58" r="1.15"/><circle cx="548.21" cy="473.03" r="1.15"/><circle cx="549.31" cy="473.1" r="1.15"/><circle cx="550.42" cy="472.79" r="1.15"/><circle cx="551.52" cy="472.25" r="1.15"/><circle cx="552.63" cy="471.62" r="1.15"/><circle cx="553.73" cy="471.08" r="1.15"/><circle cx="554.84" cy="470.77" r="1.15"/><circle cx="555.95" cy="470.84" r="1.15"/><circle cx="557.05" cy="471.26" r="1.15"/><circle cx="558.16" cy="471.91" r="1.15"/><circle cx="559.26" cy="472.66" r="1.15"/><circle cx="560.37" cy="473.39" r="1.15"/><circle cx="561.47" cy="473.98" r="1.15"/><circle cx="562.58" cy="474.29" r="1.15"/><circle cx="563.68" cy="474.32" r="1.15"/><circle cx="564.79" cy="474.32" r="1.15"/><circle cx="565.89" cy="474.32" r="1.15"/><circle cx="567" cy="474.32" r="1.15"/></g>
<path d="M345.9 460.95L347.01 460.89L348.11 460.82L349.22 460.75L350.32 460.67L351.43 460.59L352.53 460.5L353.64 460.4L354.74 460.3L355.85 460.18L356.95 460.06L358.06 459.93L359.17 459.8L360.27 459.68L361.38 459.56L362.48 459.44L363.59 459.32L364.69 459.19L365.8 459.06L366.9 458.91L368.01 458.75L369.12 458.57L370.22 458.37L371.33 458.14L372.43 457.85L373.54 457.48L374.64 456.99L375.75 456.27L376.85 455.25L377.96 453.91L379.06 452.13L380.17 447.82L381.28 441.62L382.38 435.84L383.49 430.92L384.59 426.18L385.7 422.21L386.8 419.42L387.91 417.3L389.01 415.39L390.12 413.31L391.23 411.25L392.33 409.08L393.44 406.5L394.54 403.21L395.65 399.38L396.75 395.38L397.86 390.48L398.96 385.17L400.07 382.69L401.17 384.31L402.28 388.39L403.39 393.72L404.49 399.32L405.6 406.8L406.7 415.04L407.81 422.21L408.91 428.76L410.02 435.02L411.12 441L412.23 446.73L413.34 452.5L414.44 459.92L415.55 464.4L416.65 461.71L417.76 456.47L418.86 451.71L419.97 446.45L421.07 441.69L422.18 438.59L423.28 436.63L424.39 435.02L425.5 433.19L426.6 431.18L427.71 429.1L428.81 426.8L429.92 424.13L431.02 420.68L432.13 416.25L433.23 411.65L434.34 407.54L435.45 403.58L436.55 399.89L437.66 396.79L438.76 393.73L439.87 390.81L440.97 388.54L442.08 387.47L443.18 388.31L444.29 391.21L445.39 395.46L446.5 401.83L447.61 412.93L448.71 422.5L449.82 430.44L450.92 438.76L452.03 447.9L453.13 455.77L454.24 462.8L455.34 466.35L456.45 468.43L457.56 470.16L458.66 471.52L459.77 472.49L460.87 473.02L461.98 473L463.08 471.32L464.19 468.48L465.29 465.49L466.4 463.31L467.5 462.81L468.61 462.84L469.72 462.88L470.82 462.95L471.93 463.04L473.03 463.14L474.14 463.25L475.24 463.36L476.35 463.48L477.45 463.61L478.56 463.77L479.67 463.99L480.77 464.26L481.88 464.55L482.98 464.84L484.09 465.1L485.19 465.33L486.3 465.5L487.4 465.58L488.51 465.55L489.62 465.38L490.72 465.08L491.83 464.67L492.93 464.18L494.04 463.63L495.14 463.04L496.25 462.43L497.35 461.81L498.46 461.23L499.56 460.61L500.67 459.9L501.78 459.12L502.88 458.29L503.99 457.45L505.09 456.61L506.2 455.79L507.3 455.01L508.41 454.3L509.51 453.65L510.62 452.94L511.73 452.2L512.83 451.49L513.94 450.85L515.04 450.31L516.15 449.93L517.25 449.74L518.36 449.84L519.46 450.4L520.57 451.32L521.67 452.5L522.78 453.83L523.89 455.19L524.99 456.52L526.1 458.1L527.2 459.94L528.31 461.9L529.41 463.85L530.52 465.65L531.62 467.18L532.73 468.54L533.84 469.87L534.94 471.04L536.05 471.94L537.15 472.47L538.26 472.86L539.36 473.19L540.47 473.48L541.57 473.73L542.68 473.95L543.78 474.15L544.89 474.32L546 474.49L547.1 474.66L548.21 474.83L549.31 475L550.42 475.18L551.52 475.35L552.63 475.5L553.73 475.64L554.84 475.76L555.95 475.84L557.05 475.89L558.16 475.89L559.26 475.77L560.37 475.52L561.47 475.22L562.58 474.9L563.68 474.61L564.79 474.4L565.89 474.32L567 474.32" fill="none" stroke="#2b2b2b" stroke-width="0.6" stroke-dasharray="2 1 0.6 1"/>
<g fill="none" stroke="#2b2b2b" stroke-width="0.72"><circle cx="345.9" cy="460.95" r="1.15"/><circle cx="347.01" cy="460.89" r="1.15"/><circle cx="348.11" cy="460.82" r="1.15"/><circle cx="349.22" cy="460.75" r="1.15"/><circle cx="350.32" cy="460.67" r="1.15"/><circle cx="351.43" cy="460.59" r="1.15"/><circle cx="352.53" cy="460.5" r="1.15"/><circle cx="353.64" cy="460.4" r="1.15"/><circle cx="354.74" cy="460.3" r="1.15"/><circle cx="355.85" cy="460.18" r="1.15"/><circle cx="356.95" cy="460.06" r="1.15"/><circle cx="358.06" cy="459.93" r="1.15"/><circle cx="359.17" cy="459.8" r="1.15"/><circle cx="360.27" cy="459.68" r="1.15"/><circle cx="361.38" cy="459.56" r="1.15"/><circle cx="362.48" cy="459.44" r="1.15"/><circle cx="363.59" cy="459.32" r="1.15"/><circle cx="364.69" cy="459.19" r="1.15"/><circle cx="365.8" cy="459.06" r="1.15"/><circle cx="366.9" cy="458.91" r="1.15"/><circle cx="368.01" cy="458.75" r="1.15"/><circle cx="369.12" cy="458.57" r="1.15"/><circle cx="370.22" cy="458.37" r="1.15"/><circle cx="371.33" cy="458.14" r="1.15"/><circle cx="372.43" cy="457.85" r="1.15"/><circle cx="373.54" cy="457.48" r="1.15"/><circle cx="374.64" cy="456.99" r="1.15"/><circle cx="375.75" cy="456.27" r="1.15"/><circle cx="376.85" cy="455.25" r="1.15"/><circle cx="377.96" cy="453.91" r="1.15"/><circle cx="379.06" cy="452.13" r="1.15"/><circle cx="380.17" cy="447.82" r="1.15"/><circle cx="381.28" cy="441.62" r="1.15"/><circle cx="382.38" cy="435.84" r="1.15"/><circle cx="383.49" cy="430.92" r="1.15"/><circle cx="384.59" cy="426.18" r="1.15"/><circle cx="385.7" cy="422.21" r="1.15"/><circle cx="386.8" cy="419.42" r="1.15"/><circle cx="387.91" cy="417.3" r="1.15"/><circle cx="389.01" cy="415.39" r="1.15"/><circle cx="390.12" cy="413.31" r="1.15"/><circle cx="391.23" cy="411.25" r="1.15"/><circle cx="392.33" cy="409.08" r="1.15"/><circle cx="393.44" cy="406.5" r="1.15"/><circle cx="394.54" cy="403.21" r="1.15"/><circle cx="395.65" cy="399.38" r="1.15"/><circle cx="396.75" cy="395.38" r="1.15"/><circle cx="397.86" cy="390.48" r="1.15"/><circle cx="398.96" cy="385.17" r="1.15"/><circle cx="400.07" cy="382.69" r="1.15"/><circle cx="401.17" cy="384.31" r="1.15"/><circle cx="402.28" cy="388.39" r="1.15"/><circle cx="403.39" cy="393.72" r="1.15"/><circle cx="404.49" cy="399.32" r="1.15"/><circle cx="405.6" cy="406.8" r="1.15"/><circle cx="406.7" cy="415.04" r="1.15"/><circle cx="407.81" cy="422.21" r="1.15"/><circle cx="408.91" cy="428.76" r="1.15"/><circle cx="410.02" cy="435.02" r="1.15"/><circle cx="411.12" cy="441" r="1.15"/><circle cx="412.23" cy="446.73" r="1.15"/><circle cx="413.34" cy="452.5" r="1.15"/><circle cx="414.44" cy="459.92" r="1.15"/><circle cx="415.55" cy="464.4" r="1.15"/><circle cx="416.65" cy="461.71" r="1.15"/><circle cx="417.76" cy="456.47" r="1.15"/><circle cx="418.86" cy="451.71" r="1.15"/><circle cx="419.97" cy="446.45" r="1.15"/><circle cx="421.07" cy="441.69" r="1.15"/><circle cx="422.18" cy="438.59" r="1.15"/><circle cx="423.28" cy="436.63" r="1.15"/><circle cx="424.39" cy="435.02" r="1.15"/><circle cx="425.5" cy="433.19" r="1.15"/><circle cx="426.6" cy="431.18" r="1.15"/><circle cx="427.71" cy="429.1" r="1.15"/><circle cx="428.81" cy="426.8" r="1.15"/><circle cx="429.92" cy="424.13" r="1.15"/><circle cx="431.02" cy="420.68" r="1.15"/><circle cx="432.13" cy="416.25" r="1.15"/><circle cx="433.23" cy="411.65" r="1.15"/><circle cx="434.34" cy="407.54" r="1.15"/><circle cx="435.45" cy="403.58" r="1.15"/><circle cx="436.55" cy="399.89" r="1.15"/><circle cx="437.66" cy="396.79" r="1.15"/><circle cx="438.76" cy="393.73" r="1.15"/><circle cx="439.87" cy="390.81" r="1.15"/><circle cx="440.97" cy="388.54" r="1.15"/><circle cx="442.08" cy="387.47" r="1.15"/><circle cx="443.18" cy="388.31" r="1.15"/><circle cx="444.29" cy="391.21" r="1.15"/><circle cx="445.39" cy="395.46" r="1.15"/><circle cx="446.5" cy="401.83" r="1.15"/><circle cx="447.61" cy="412.93" r="1.15"/><circle cx="448.71" cy="422.5" r="1.15"/><circle cx="449.82" cy="430.44" r="1.15"/><circle cx="450.92" cy="438.76" r="1.15"/><circle cx="452.03" cy="447.9" r="1.15"/><circle cx="453.13" cy="455.77" r="1.15"/><circle cx="454.24" cy="462.8" r="1.15"/><circle cx="455.34" cy="466.35" r="1.15"/><circle cx="456.45" cy="468.43" r="1.15"/><circle cx="457.56" cy="470.16" r="1.15"/><circle cx="458.66" cy="471.52" r="1.15"/><circle cx="459.77" cy="472.49" r="1.15"/><circle cx="460.87" cy="473.02" r="1.15"/><circle cx="461.98" cy="473" r="1.15"/><circle cx="463.08" cy="471.32" r="1.15"/><circle cx="464.19" cy="468.48" r="1.15"/><circle cx="465.29" cy="465.49" r="1.15"/><circle cx="466.4" cy="463.31" r="1.15"/><circle cx="467.5" cy="462.81" r="1.15"/><circle cx="468.61" cy="462.84" r="1.15"/><circle cx="469.72" cy="462.88" r="1.15"/><circle cx="470.82" cy="462.95" r="1.15"/><circle cx="471.93" cy="463.04" r="1.15"/><circle cx="473.03" cy="463.14" r="1.15"/><circle cx="474.14" cy="463.25" r="1.15"/><circle cx="475.24" cy="463.36" r="1.15"/><circle cx="476.35" cy="463.48" r="1.15"/><circle cx="477.45" cy="463.61" r="1.15"/><circle cx="478.56" cy="463.77" r="1.15"/><circle cx="479.67" cy="463.99" r="1.15"/><circle cx="480.77" cy="464.26" r="1.15"/><circle cx="481.88" cy="464.55" r="1.15"/><circle cx="482.98" cy="464.84" r="1.15"/><circle cx="484.09" cy="465.1" r="1.15"/><circle cx="485.19" cy="465.33" r="1.15"/><circle cx="486.3" cy="465.5" r="1.15"/><circle cx="487.4" cy="465.58" r="1.15"/><circle cx="488.51" cy="465.55" r="1.15"/><circle cx="489.62" cy="465.38" r="1.15"/><circle cx="490.72" cy="465.08" r="1.15"/><circle cx="491.83" cy="464.67" r="1.15"/><circle cx="492.93" cy="464.18" r="1.15"/><circle cx="494.04" cy="463.63" r="1.15"/><circle cx="495.14" cy="463.04" r="1.15"/><circle cx="496.25" cy="462.43" r="1.15"/><circle cx="497.35" cy="461.81" r="1.15"/><circle cx="498.46" cy="461.23" r="1.15"/><circle cx="499.56" cy="460.61" r="1.15"/><circle cx="500.67" cy="459.9" r="1.15"/><circle cx="501.78" cy="459.12" r="1.15"/><circle cx="502.88" cy="458.29" r="1.15"/><circle cx="503.99" cy="457.45" r="1.15"/><circle cx="505.09" cy="456.61" r="1.15"/><circle cx="506.2" cy="455.79" r="1.15"/><circle cx="507.3" cy="455.01" r="1.15"/><circle cx="508.41" cy="454.3" r="1.15"/><circle cx="509.51" cy="453.65" r="1.15"/><circle cx="510.62" cy="452.94" r="1.15"/><circle cx="511.73" cy="452.2" r="1.15"/><circle cx="512.83" cy="451.49" r="1.15"/><circle cx="513.94" cy="450.85" r="1.15"/><circle cx="515.04" cy="450.31" r="1.15"/><circle cx="516.15" cy="449.93" r="1.15"/><circle cx="517.25" cy="449.74" r="1.15"/><circle cx="518.36" cy="449.84" r="1.15"/><circle cx="519.46" cy="450.4" r="1.15"/><circle cx="520.57" cy="451.32" r="1.15"/><circle cx="521.67" cy="452.5" r="1.15"/><circle cx="522.78" cy="453.83" r="1.15"/><circle cx="523.89" cy="455.19" r="1.15"/><circle cx="524.99" cy="456.52" r="1.15"/><circle cx="526.1" cy="458.1" r="1.15"/><circle cx="527.2" cy="459.94" r="1.15"/><circle cx="528.31" cy="461.9" r="1.15"/><circle cx="529.41" cy="463.85" r="1.15"/><circle cx="530.52" cy="465.65" r="1.15"/><circle cx="531.62" cy="467.18" r="1.15"/><circle cx="532.73" cy="468.54" r="1.15"/><circle cx="533.84" cy="469.87" r="1.15"/><circle cx="534.94" cy="471.04" r="1.15"/><circle cx="536.05" cy="471.94" r="1.15"/><circle cx="537.15" cy="472.47" r="1.15"/><circle cx="538.26" cy="472.86" r="1.15"/><circle cx="539.36" cy="473.19" r="1.15"/><circle cx="540.47" cy="473.48" r="1.15"/><circle cx="541.57" cy="473.73" r="1.15"/><circle cx="542.68" cy="473.95" r="1.15"/><circle cx="543.78" cy="474.15" r="1.15"/><circle cx="544.89" cy="474.32" r="1.15"/><circle cx="546" cy="474.49" r="1.15"/><circle cx="547.1" cy="474.66" r="1.15"/><circle cx="548.21" cy="474.83" r="1.15"/><circle cx="549.31" cy="475" r="1.15"/><circle cx="550.42" cy="475.18" r="1.15"/><circle cx="551.52" cy="475.35" r="1.15"/><circle cx="552.63" cy="475.5" r="1.15"/><circle cx="553.73" cy="475.64" r="1.15"/><circle cx="554.84" cy="475.76" r="1.15"/><circle cx="555.95" cy="475.84" r="1.15"/><circle cx="557.05" cy="475.89" r="1.15"/><circle cx="558.16" cy="475.89" r="1.15"/><circle cx="559.26" cy="475.77" r="1.15"/><circle cx="560.37" cy="475.52" r="1.15"/><circle cx="561.47" cy="475.22" r="1.15"/><circle cx="562.58" cy="474.9" r="1.15"/><circle cx="563.68" cy="474.61" r="1.15"/><circle cx="564.79" cy="474.4" r="1.15"/><circle cx="565.89" cy="474.32" r="1.15"/><circle cx="567" cy="474.32" r="1.15"/></g>
<path d="M345.9 474.32L347.01 473.89L348.11 473.57L349.22 473.32L350.32 473.15L351.43 473.04L352.53 472.97L353.64 472.94L354.74 472.93L355.85 472.94L356.95 473.27L358.06 473.88L359.17 474.56L360.27 475.1L361.38 475.31L362.48 474.94L363.59 474.06L364.69 472.89L365.8 471.65L366.9 470.54L368.01 469.77L369.12 469.57L370.22 470.08L371.33 471.1L372.43 472.35L373.54 473.55L374.64 474.43L375.75 474.7L376.85 473.73L377.96 471.9L379.06 470.09L380.17 469.17L381.28 469.7L382.38 471L383.49 472.13L384.59 472.2L385.7 471.2L386.8 469.62L387.91 467.94L389.01 466.65L390.12 465.96L391.23 465.37L392.33 464.87L393.44 464.53L394.54 464.4L395.65 464.45L396.75 464.58L397.86 464.71L398.96 464.79L400.07 464.43L401.17 462.76L402.28 460.28L403.39 457.58L404.49 455.24L405.6 453.85L406.7 453.84L407.81 454.71L408.91 456.1L410.02 457.75L411.12 459.37L412.23 460.67L413.34 461.37L414.44 461.36L415.55 461.08L416.65 460.73L417.76 460.48L418.86 460.48L419.97 460.83L421.07 461.46L422.18 462.26L423.28 463.13L424.39 463.96L425.5 464.69L426.6 465.52L427.71 466.45L428.81 467.41L429.92 468.31L431.02 469.08L432.13 469.64L433.23 469.93L434.34 469.84L435.45 469.29L436.55 468.38L437.66 467.21L438.76 465.88L439.87 464.5L440.97 463.18L442.08 462.01L443.18 461.1L444.29 460.55L445.39 460.48L446.5 461.05L447.61 462.15L448.71 463.57L449.82 465.12L450.92 466.6L452.03 467.83L453.13 468.6L454.24 468.7L455.34 467.86L456.45 466.33L457.56 464.48L458.66 462.7L459.77 461.36L460.87 460.83L461.98 460.98L463.08 461.38L464.19 461.94L465.29 462.58L466.4 463.22L467.5 463.79L468.61 464.44L469.72 465.17L470.82 465.96L471.93 466.75L473.03 467.5L474.14 468.16L475.24 468.68L476.35 469.03L477.45 469.16L478.56 469.05L479.67 468.73L480.77 468.26L481.88 467.67L482.98 467L484.09 466.29L485.19 465.58L486.3 464.92L487.4 464.35L488.51 463.89L489.62 463.61L490.72 463.42L491.83 463.24L492.93 463.08L494.04 462.95L495.14 462.86L496.25 462.82L497.35 462.89L498.46 463.28L499.56 463.92L500.67 464.76L501.78 465.74L502.88 466.79L503.99 467.85L505.09 468.85L506.2 469.86L507.3 471.16L508.41 472.54L509.51 473.75L510.62 474.54L511.73 474.67L512.83 474.04L513.94 472.84L515.04 471.28L516.15 469.58L517.25 467.96L518.36 466.61L519.46 465.77L520.57 465.59L521.67 465.59L522.78 465.59L523.89 465.59L524.99 465.59L526.1 465.59L527.2 465.77L528.31 466.61L529.41 467.87L530.52 469.26L531.62 470.52L532.73 471.36L533.84 471.53L534.94 471.44L536.05 471.27L537.15 471.08L538.26 470.9L539.36 470.77L540.47 470.76L541.57 470.99L542.68 471.42L543.78 471.94L544.89 472.46L546 472.88L547.1 473.11L548.21 473.08L549.31 472.84L550.42 472.46L551.52 472.01L552.63 471.55L553.73 471.15L554.84 470.86L555.95 470.75L557.05 470.9L558.16 471.3L559.26 471.88L560.37 472.53L561.47 473.19L562.58 473.76L563.68 474.16L564.79 474.32L565.89 474.2L567 473.92" fill="none" stroke="#ebc461" stroke-width="0.6" stroke-dasharray="2 1 0.6 1"/>
<g fill="none" stroke="#ebc461" stroke-width="0.72"><circle cx="345.9" cy="474.32" r="1.15"/><circle cx="347.01" cy="473.89" r="1.15"/><circle cx="348.11" cy="473.57" r="1.15"/><circle cx="349.22" cy="473.32" r="1.15"/><circle cx="350.32" cy="473.15" r="1.15"/><circle cx="351.43" cy="473.04" r="1.15"/><circle cx="352.53" cy="472.97" r="1.15"/><circle cx="353.64" cy="472.94" r="1.15"/><circle cx="354.74" cy="472.93" r="1.15"/><circle cx="355.85" cy="472.94" r="1.15"/><circle cx="356.95" cy="473.27" r="1.15"/><circle cx="358.06" cy="473.88" r="1.15"/><circle cx="359.17" cy="474.56" r="1.15"/><circle cx="360.27" cy="475.1" r="1.15"/><circle cx="361.38" cy="475.31" r="1.15"/><circle cx="362.48" cy="474.94" r="1.15"/><circle cx="363.59" cy="474.06" r="1.15"/><circle cx="364.69" cy="472.89" r="1.15"/><circle cx="365.8" cy="471.65" r="1.15"/><circle cx="366.9" cy="470.54" r="1.15"/><circle cx="368.01" cy="469.77" r="1.15"/><circle cx="369.12" cy="469.57" r="1.15"/><circle cx="370.22" cy="470.08" r="1.15"/><circle cx="371.33" cy="471.1" r="1.15"/><circle cx="372.43" cy="472.35" r="1.15"/><circle cx="373.54" cy="473.55" r="1.15"/><circle cx="374.64" cy="474.43" r="1.15"/><circle cx="375.75" cy="474.7" r="1.15"/><circle cx="376.85" cy="473.73" r="1.15"/><circle cx="377.96" cy="471.9" r="1.15"/><circle cx="379.06" cy="470.09" r="1.15"/><circle cx="380.17" cy="469.17" r="1.15"/><circle cx="381.28" cy="469.7" r="1.15"/><circle cx="382.38" cy="471" r="1.15"/><circle cx="383.49" cy="472.13" r="1.15"/><circle cx="384.59" cy="472.2" r="1.15"/><circle cx="385.7" cy="471.2" r="1.15"/><circle cx="386.8" cy="469.62" r="1.15"/><circle cx="387.91" cy="467.94" r="1.15"/><circle cx="389.01" cy="466.65" r="1.15"/><circle cx="390.12" cy="465.96" r="1.15"/><circle cx="391.23" cy="465.37" r="1.15"/><circle cx="392.33" cy="464.87" r="1.15"/><circle cx="393.44" cy="464.53" r="1.15"/><circle cx="394.54" cy="464.4" r="1.15"/><circle cx="395.65" cy="464.45" r="1.15"/><circle cx="396.75" cy="464.58" r="1.15"/><circle cx="397.86" cy="464.71" r="1.15"/><circle cx="398.96" cy="464.79" r="1.15"/><circle cx="400.07" cy="464.43" r="1.15"/><circle cx="401.17" cy="462.76" r="1.15"/><circle cx="402.28" cy="460.28" r="1.15"/><circle cx="403.39" cy="457.58" r="1.15"/><circle cx="404.49" cy="455.24" r="1.15"/><circle cx="405.6" cy="453.85" r="1.15"/><circle cx="406.7" cy="453.84" r="1.15"/><circle cx="407.81" cy="454.71" r="1.15"/><circle cx="408.91" cy="456.1" r="1.15"/><circle cx="410.02" cy="457.75" r="1.15"/><circle cx="411.12" cy="459.37" r="1.15"/><circle cx="412.23" cy="460.67" r="1.15"/><circle cx="413.34" cy="461.37" r="1.15"/><circle cx="414.44" cy="461.36" r="1.15"/><circle cx="415.55" cy="461.08" r="1.15"/><circle cx="416.65" cy="460.73" r="1.15"/><circle cx="417.76" cy="460.48" r="1.15"/><circle cx="418.86" cy="460.48" r="1.15"/><circle cx="419.97" cy="460.83" r="1.15"/><circle cx="421.07" cy="461.46" r="1.15"/><circle cx="422.18" cy="462.26" r="1.15"/><circle cx="423.28" cy="463.13" r="1.15"/><circle cx="424.39" cy="463.96" r="1.15"/><circle cx="425.5" cy="464.69" r="1.15"/><circle cx="426.6" cy="465.52" r="1.15"/><circle cx="427.71" cy="466.45" r="1.15"/><circle cx="428.81" cy="467.41" r="1.15"/><circle cx="429.92" cy="468.31" r="1.15"/><circle cx="431.02" cy="469.08" r="1.15"/><circle cx="432.13" cy="469.64" r="1.15"/><circle cx="433.23" cy="469.93" r="1.15"/><circle cx="434.34" cy="469.84" r="1.15"/><circle cx="435.45" cy="469.29" r="1.15"/><circle cx="436.55" cy="468.38" r="1.15"/><circle cx="437.66" cy="467.21" r="1.15"/><circle cx="438.76" cy="465.88" r="1.15"/><circle cx="439.87" cy="464.5" r="1.15"/><circle cx="440.97" cy="463.18" r="1.15"/><circle cx="442.08" cy="462.01" r="1.15"/><circle cx="443.18" cy="461.1" r="1.15"/><circle cx="444.29" cy="460.55" r="1.15"/><circle cx="445.39" cy="460.48" r="1.15"/><circle cx="446.5" cy="461.05" r="1.15"/><circle cx="447.61" cy="462.15" r="1.15"/><circle cx="448.71" cy="463.57" r="1.15"/><circle cx="449.82" cy="465.12" r="1.15"/><circle cx="450.92" cy="466.6" r="1.15"/><circle cx="452.03" cy="467.83" r="1.15"/><circle cx="453.13" cy="468.6" r="1.15"/><circle cx="454.24" cy="468.7" r="1.15"/><circle cx="455.34" cy="467.86" r="1.15"/><circle cx="456.45" cy="466.33" r="1.15"/><circle cx="457.56" cy="464.48" r="1.15"/><circle cx="458.66" cy="462.7" r="1.15"/><circle cx="459.77" cy="461.36" r="1.15"/><circle cx="460.87" cy="460.83" r="1.15"/><circle cx="461.98" cy="460.98" r="1.15"/><circle cx="463.08" cy="461.38" r="1.15"/><circle cx="464.19" cy="461.94" r="1.15"/><circle cx="465.29" cy="462.58" r="1.15"/><circle cx="466.4" cy="463.22" r="1.15"/><circle cx="467.5" cy="463.79" r="1.15"/><circle cx="468.61" cy="464.44" r="1.15"/><circle cx="469.72" cy="465.17" r="1.15"/><circle cx="470.82" cy="465.96" r="1.15"/><circle cx="471.93" cy="466.75" r="1.15"/><circle cx="473.03" cy="467.5" r="1.15"/><circle cx="474.14" cy="468.16" r="1.15"/><circle cx="475.24" cy="468.68" r="1.15"/><circle cx="476.35" cy="469.03" r="1.15"/><circle cx="477.45" cy="469.16" r="1.15"/><circle cx="478.56" cy="469.05" r="1.15"/><circle cx="479.67" cy="468.73" r="1.15"/><circle cx="480.77" cy="468.26" r="1.15"/><circle cx="481.88" cy="467.67" r="1.15"/><circle cx="482.98" cy="467" r="1.15"/><circle cx="484.09" cy="466.29" r="1.15"/><circle cx="485.19" cy="465.58" r="1.15"/><circle cx="486.3" cy="464.92" r="1.15"/><circle cx="487.4" cy="464.35" r="1.15"/><circle cx="488.51" cy="463.89" r="1.15"/><circle cx="489.62" cy="463.61" r="1.15"/><circle cx="490.72" cy="463.42" r="1.15"/><circle cx="491.83" cy="463.24" r="1.15"/><circle cx="492.93" cy="463.08" r="1.15"/><circle cx="494.04" cy="462.95" r="1.15"/><circle cx="495.14" cy="462.86" r="1.15"/><circle cx="496.25" cy="462.82" r="1.15"/><circle cx="497.35" cy="462.89" r="1.15"/><circle cx="498.46" cy="463.28" r="1.15"/><circle cx="499.56" cy="463.92" r="1.15"/><circle cx="500.67" cy="464.76" r="1.15"/><circle cx="501.78" cy="465.74" r="1.15"/><circle cx="502.88" cy="466.79" r="1.15"/><circle cx="503.99" cy="467.85" r="1.15"/><circle cx="505.09" cy="468.85" r="1.15"/><circle cx="506.2" cy="469.86" r="1.15"/><circle cx="507.3" cy="471.16" r="1.15"/><circle cx="508.41" cy="472.54" r="1.15"/><circle cx="509.51" cy="473.75" r="1.15"/><circle cx="510.62" cy="474.54" r="1.15"/><circle cx="511.73" cy="474.67" r="1.15"/><circle cx="512.83" cy="474.04" r="1.15"/><circle cx="513.94" cy="472.84" r="1.15"/><circle cx="515.04" cy="471.28" r="1.15"/><circle cx="516.15" cy="469.58" r="1.15"/><circle cx="517.25" cy="467.96" r="1.15"/><circle cx="518.36" cy="466.61" r="1.15"/><circle cx="519.46" cy="465.77" r="1.15"/><circle cx="520.57" cy="465.59" r="1.15"/><circle cx="521.67" cy="465.59" r="1.15"/><circle cx="522.78" cy="465.59" r="1.15"/><circle cx="523.89" cy="465.59" r="1.15"/><circle cx="524.99" cy="465.59" r="1.15"/><circle cx="526.1" cy="465.59" r="1.15"/><circle cx="527.2" cy="465.77" r="1.15"/><circle cx="528.31" cy="466.61" r="1.15"/><circle cx="529.41" cy="467.87" r="1.15"/><circle cx="530.52" cy="469.26" r="1.15"/><circle cx="531.62" cy="470.52" r="1.15"/><circle cx="532.73" cy="471.36" r="1.15"/><circle cx="533.84" cy="471.53" r="1.15"/><circle cx="534.94" cy="471.44" r="1.15"/><circle cx="536.05" cy="471.27" r="1.15"/><circle cx="537.15" cy="471.08" r="1.15"/><circle cx="538.26" cy="470.9" r="1.15"/><circle cx="539.36" cy="470.77" r="1.15"/><circle cx="540.47" cy="470.76" r="1.15"/><circle cx="541.57" cy="470.99" r="1.15"/><circle cx="542.68" cy="471.42" r="1.15"/><circle cx="543.78" cy="471.94" r="1.15"/><circle cx="544.89" cy="472.46" r="1.15"/><circle cx="546" cy="472.88" r="1.15"/><circle cx="547.1" cy="473.11" r="1.15"/><circle cx="548.21" cy="473.08" r="1.15"/><circle cx="549.31" cy="472.84" r="1.15"/><circle cx="550.42" cy="472.46" r="1.15"/><circle cx="551.52" cy="472.01" r="1.15"/><circle cx="552.63" cy="471.55" r="1.15"/><circle cx="553.73" cy="471.15" r="1.15"/><circle cx="554.84" cy="470.86" r="1.15"/><circle cx="555.95" cy="470.75" r="1.15"/><circle cx="557.05" cy="470.9" r="1.15"/><circle cx="558.16" cy="471.3" r="1.15"/><circle cx="559.26" cy="471.88" r="1.15"/><circle cx="560.37" cy="472.53" r="1.15"/><circle cx="561.47" cy="473.19" r="1.15"/><circle cx="562.58" cy="473.76" r="1.15"/><circle cx="563.68" cy="474.16" r="1.15"/><circle cx="564.79" cy="474.32" r="1.15"/><circle cx="565.89" cy="474.2" r="1.15"/><circle cx="567" cy="473.92" r="1.15"/></g>
<rect x="494.5" y="361.4" width="68" height="33.5" fill="#fff" stroke="#8a8a8a" stroke-width="0.8"/>
<path d="M496.5 368.4H510.3" stroke="#e04848" stroke-width="0.7" stroke-dasharray="2 1 0.6 1"/>
<circle cx="503.4" cy="368.4" r="1.3" fill="none" stroke="#e04848" stroke-width="0.8"/>
<text x="512.3" y="371.3" font-size="8.3" text-anchor="start" font-weight="normal" fill="#222" stroke="#222" >Experimental</text>
<path d="M496.5 379.1H510.3" stroke="#2b2b2b" stroke-width="0.7" stroke-dasharray="2 1 0.6 1"/>
<circle cx="503.4" cy="379.1" r="1.3" fill="none" stroke="#2b2b2b" stroke-width="0.8"/>
<text x="512.3" y="382" font-size="8.3" text-anchor="start" font-weight="normal" fill="#222" stroke="#222" >Theoretical</text>
<path d="M496.5 389.8H510.3" stroke="#ebc461" stroke-width="0.7" stroke-dasharray="2 1 0.6 1"/>
<circle cx="503.4" cy="389.8" r="1.3" fill="none" stroke="#ebc461" stroke-width="0.8"/>
<text x="512.3" y="392.7" font-size="8.3" text-anchor="start" font-weight="normal" fill="#222" stroke="#222" >Residual</text>
</svg>
</body></html>
